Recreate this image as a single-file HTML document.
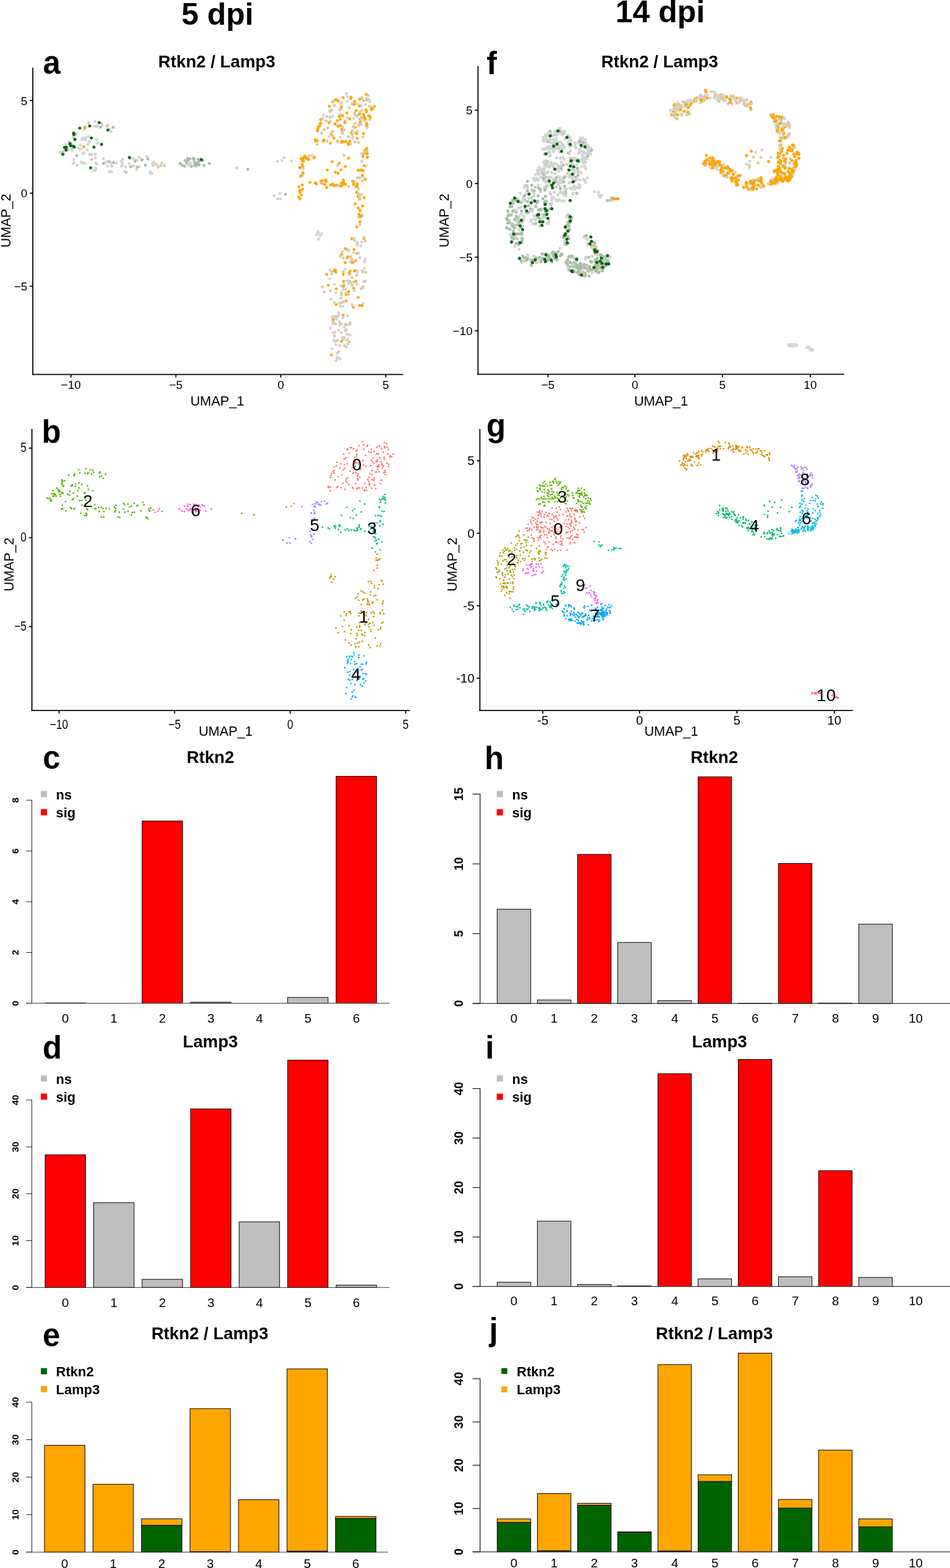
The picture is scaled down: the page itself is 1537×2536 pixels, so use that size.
<!DOCTYPE html>
<html><head><meta charset="utf-8"><title>Figure</title>
<style>
html,body{margin:0;padding:0;background:#fff;}
body{width:1537px;height:2536px;overflow:hidden;}
svg{display:block;font-family:'Liberation Sans', Arial, Helvetica, sans-serif;}
</style></head><body>
<svg width="1537" height="2536" viewBox="0 0 1537 2536">
<rect width="1537" height="2536" fill="#fff"/>
<defs><clipPath id="ca"><rect x="54" y="105" width="600" height="500"/></clipPath><clipPath id="cb"><rect x="52.5" y="690" width="615" height="458"/></clipPath><clipPath id="cf"><rect x="774" y="105" width="595" height="500"/></clipPath><clipPath id="cg"><rect x="777" y="690" width="605" height="458"/></clipPath></defs><g clip-path="url(#ca)"><circle cx="179.6" cy="212.8" r="2.45" fill="#D3D3D3"/><circle cx="143.6" cy="220.6" r="2.45" fill="#D3D3D3"/><circle cx="176.9" cy="277.8" r="2.45" fill="#D3D3D3"/><circle cx="203.1" cy="269.7" r="2.45" fill="#D3D3D3"/><circle cx="578.4" cy="311.2" r="2.45" fill="#DCC9A3"/><circle cx="566.0" cy="443.9" r="2.45" fill="#DCC9A3"/><circle cx="485.6" cy="310.1" r="2.45" fill="#FFA500"/><circle cx="148.3" cy="257.8" r="2.45" fill="#DCC9A3"/><circle cx="491.5" cy="255.6" r="2.45" fill="#DCC9A3"/><circle cx="520.4" cy="377.8" r="2.45" fill="#D3D3D3"/><circle cx="551.2" cy="167.2" r="2.45" fill="#DCC9A3"/><circle cx="119.5" cy="258.2" r="2.45" fill="#D3D3D3"/><circle cx="561.5" cy="403.8" r="2.45" fill="#DCC9A3"/><circle cx="105.8" cy="233.4" r="2.45" fill="#D3D3D3"/><circle cx="173.9" cy="268.7" r="2.45" fill="#D3D3D3"/><circle cx="527.4" cy="195.4" r="2.45" fill="#DCC9A3"/><circle cx="545.4" cy="195.1" r="2.45" fill="#FFA500"/><circle cx="553.5" cy="298.2" r="2.45" fill="#FFA500"/><circle cx="524.5" cy="209.8" r="2.45" fill="#DCC9A3"/><circle cx="490.1" cy="270.0" r="2.45" fill="#FFA500"/><circle cx="562.6" cy="548.8" r="2.45" fill="#D3D3D3"/><circle cx="591.7" cy="203.4" r="2.45" fill="#D3D3D3"/><circle cx="535.9" cy="217.2" r="2.45" fill="#FFA500"/><circle cx="443.6" cy="316.4" r="2.45" fill="#D3D3D3"/><circle cx="515.2" cy="386.9" r="2.45" fill="#D3D3D3"/><circle cx="303.0" cy="259.4" r="2.45" fill="#A6BEA6"/><circle cx="585.1" cy="260.5" r="2.45" fill="#D3D3D3"/><circle cx="550.5" cy="221.9" r="2.45" fill="#D3D3D3"/><circle cx="118.9" cy="220.8" r="2.45" fill="#D3D3D3"/><circle cx="165.4" cy="202.6" r="2.45" fill="#D3D3D3"/><circle cx="156.5" cy="204.7" r="2.45" fill="#D3D3D3"/><circle cx="552.8" cy="165.6" r="2.45" fill="#D3D3D3"/><circle cx="330.1" cy="267.4" r="2.45" fill="#A6BEA6"/><circle cx="550.4" cy="185.1" r="2.45" fill="#D3D3D3"/><circle cx="305.8" cy="266.4" r="2.45" fill="#A6BEA6"/><circle cx="578.0" cy="396.4" r="2.45" fill="#DCC9A3"/><circle cx="550.1" cy="580.4" r="2.45" fill="#DCC9A3"/><circle cx="579.2" cy="318.1" r="2.45" fill="#FFA500"/><circle cx="585.4" cy="158.2" r="2.45" fill="#DCC9A3"/><circle cx="109.2" cy="239.5" r="2.45" fill="#D3D3D3"/><circle cx="594.3" cy="254.2" r="2.45" fill="#FFA500"/><circle cx="581.1" cy="171.7" r="2.45" fill="#FFA500"/><circle cx="541.5" cy="511.3" r="2.45" fill="#D3D3D3"/><circle cx="316.6" cy="268.5" r="2.45" fill="#A6BEA6"/><circle cx="497.0" cy="257.4" r="2.45" fill="#DCC9A3"/><circle cx="532.3" cy="198.5" r="2.45" fill="#FFA500"/><circle cx="552.4" cy="296.3" r="2.45" fill="#FFA500"/><circle cx="157.6" cy="204.2" r="2.45" fill="#D3D3D3"/><circle cx="574.3" cy="199.6" r="2.45" fill="#DCC9A3"/><circle cx="561.2" cy="550.3" r="2.45" fill="#D3D3D3"/><circle cx="591.2" cy="247.4" r="2.45" fill="#FFA500"/><circle cx="545.4" cy="571.5" r="2.45" fill="#D3D3D3"/><circle cx="592.5" cy="152.8" r="2.45" fill="#FFA500"/><circle cx="314.7" cy="267.2" r="2.45" fill="#A6BEA6"/><circle cx="513.0" cy="233.6" r="2.45" fill="#DCC9A3"/><circle cx="583.6" cy="397.9" r="2.45" fill="#D3D3D3"/><circle cx="490.3" cy="279.7" r="2.45" fill="#FFA500"/><circle cx="560.0" cy="228.9" r="2.45" fill="#FFA500"/><circle cx="574.1" cy="229.5" r="2.45" fill="#DCC9A3"/><circle cx="459.8" cy="255.0" r="2.45" fill="#D3D3D3"/><circle cx="530.2" cy="206.9" r="2.45" fill="#DCC9A3"/><circle cx="135.7" cy="247.1" r="2.45" fill="#D3D3D3"/><circle cx="118.0" cy="237.3" r="2.45" fill="#D3D3D3"/><circle cx="577.0" cy="311.2" r="2.45" fill="#FFA500"/><circle cx="582.1" cy="322.1" r="2.45" fill="#FFA500"/><circle cx="529.6" cy="275.1" r="2.45" fill="#FFA500"/><circle cx="504.6" cy="251.2" r="2.45" fill="#DCC9A3"/><circle cx="555.5" cy="294.7" r="2.45" fill="#D3D3D3"/><circle cx="102.9" cy="250.6" r="2.45" fill="#D3D3D3"/><circle cx="561.0" cy="417.2" r="2.45" fill="#DCC9A3"/><circle cx="587.6" cy="249.6" r="2.45" fill="#FFA500"/><circle cx="585.2" cy="391.6" r="2.45" fill="#D3D3D3"/><circle cx="448.7" cy="260.9" r="2.45" fill="#D3D3D3"/><circle cx="520.7" cy="296.5" r="2.45" fill="#FFA500"/><circle cx="584.5" cy="190.6" r="2.45" fill="#FFA500"/><circle cx="557.4" cy="297.6" r="2.45" fill="#FFA500"/><circle cx="148.2" cy="249.8" r="2.45" fill="#D3D3D3"/><circle cx="294.9" cy="267.6" r="2.45" fill="#A6BEA6"/><circle cx="543.2" cy="440.1" r="2.45" fill="#FFA500"/><circle cx="588.9" cy="455.8" r="2.45" fill="#DCC9A3"/><circle cx="132.5" cy="225.5" r="2.45" fill="#D3D3D3"/><circle cx="235.1" cy="267.2" r="2.45" fill="#A6BEA6"/><circle cx="563.5" cy="232.3" r="2.45" fill="#FFA500"/><circle cx="528.7" cy="443.9" r="2.45" fill="#FFA500"/><circle cx="582.3" cy="340.2" r="2.45" fill="#FFA500"/><circle cx="520.1" cy="295.2" r="2.45" fill="#DCC9A3"/><circle cx="538.2" cy="523.5" r="2.45" fill="#D3D3D3"/><circle cx="565.9" cy="228.4" r="2.45" fill="#FFA500"/><circle cx="557.0" cy="529.0" r="2.45" fill="#D3D3D3"/><circle cx="485.5" cy="321.7" r="2.45" fill="#FFA500"/><circle cx="563.6" cy="476.3" r="2.45" fill="#DCC9A3"/><circle cx="569.0" cy="420.4" r="2.45" fill="#DCC9A3"/><circle cx="116.9" cy="243.2" r="2.45" fill="#D3D3D3"/><circle cx="500.0" cy="252.1" r="2.45" fill="#DCC9A3"/><circle cx="546.5" cy="577.8" r="2.45" fill="#D3D3D3"/><circle cx="97.1" cy="246.0" r="2.45" fill="#D3D3D3"/><circle cx="127.4" cy="239.5" r="2.45" fill="#D3D3D3"/><circle cx="550.5" cy="495.6" r="2.45" fill="#D3D3D3"/><circle cx="580.8" cy="202.2" r="2.45" fill="#DCC9A3"/><circle cx="490.7" cy="255.6" r="2.45" fill="#FFA500"/><circle cx="588.7" cy="385.7" r="2.45" fill="#FFA500"/><circle cx="291.1" cy="264.4" r="2.45" fill="#A6BEA6"/><circle cx="546.0" cy="228.4" r="2.45" fill="#FFA500"/><circle cx="113.7" cy="231.6" r="2.45" fill="#D3D3D3"/><circle cx="527.3" cy="293.6" r="2.45" fill="#FFA500"/><circle cx="577.5" cy="409.8" r="2.45" fill="#FFA500"/><circle cx="137.5" cy="205.8" r="2.45" fill="#A6BEA6"/><circle cx="592.9" cy="161.8" r="2.45" fill="#DCC9A3"/><circle cx="225.2" cy="269.7" r="2.45" fill="#D3D3D3"/><circle cx="518.8" cy="292.8" r="2.45" fill="#DCC9A3"/><circle cx="577.5" cy="299.9" r="2.45" fill="#FFA500"/><circle cx="597.9" cy="172.0" r="2.45" fill="#DCC9A3"/><circle cx="313.7" cy="259.8" r="2.45" fill="#D3D3D3"/><circle cx="571.4" cy="456.2" r="2.45" fill="#DCC9A3"/><circle cx="593.5" cy="244.8" r="2.45" fill="#FFA500"/><circle cx="550.3" cy="192.9" r="2.45" fill="#FFA500"/><circle cx="536.2" cy="574.0" r="2.45" fill="#FFA500"/><circle cx="538.4" cy="164.7" r="2.45" fill="#FFA500"/><circle cx="582.9" cy="171.8" r="2.45" fill="#FFA500"/><circle cx="551.1" cy="187.3" r="2.45" fill="#DCC9A3"/><circle cx="144.9" cy="249.9" r="2.45" fill="#D3D3D3"/><circle cx="584.2" cy="171.5" r="2.45" fill="#DCC9A3"/><circle cx="552.4" cy="552.1" r="2.45" fill="#FFA500"/><circle cx="586.7" cy="440.0" r="2.45" fill="#DCC9A3"/><circle cx="518.9" cy="193.5" r="2.45" fill="#FFA500"/><circle cx="176.6" cy="261.5" r="2.45" fill="#A6BEA6"/><circle cx="566.4" cy="521.7" r="2.45" fill="#D3D3D3"/><circle cx="528.9" cy="188.5" r="2.45" fill="#DCC9A3"/><circle cx="558.6" cy="424.7" r="2.45" fill="#FFA500"/><circle cx="569.4" cy="457.8" r="2.45" fill="#D3D3D3"/><circle cx="552.3" cy="462.5" r="2.45" fill="#DCC9A3"/><circle cx="589.0" cy="319.8" r="2.45" fill="#FFA500"/><circle cx="591.1" cy="169.0" r="2.45" fill="#D3D3D3"/><circle cx="580.6" cy="350.0" r="2.45" fill="#DCC9A3"/><circle cx="552.5" cy="473.4" r="2.45" fill="#DCC9A3"/><circle cx="555.7" cy="291.1" r="2.45" fill="#FFA500"/><circle cx="173.7" cy="203.6" r="2.45" fill="#FFA500"/><circle cx="585.9" cy="347.8" r="2.45" fill="#DCC9A3"/><circle cx="510.0" cy="295.9" r="2.45" fill="#FFA500"/><circle cx="453.0" cy="312.7" r="2.45" fill="#D3D3D3"/><circle cx="322.1" cy="266.6" r="2.45" fill="#A6BEA6"/><circle cx="538.5" cy="519.1" r="2.45" fill="#D3D3D3"/><circle cx="485.8" cy="270.9" r="2.45" fill="#FFA500"/><circle cx="544.0" cy="467.1" r="2.45" fill="#FFA500"/><circle cx="490.0" cy="269.9" r="2.45" fill="#FFA500"/><circle cx="539.6" cy="521.1" r="2.45" fill="#DCC9A3"/><circle cx="584.6" cy="201.6" r="2.45" fill="#D3D3D3"/><circle cx="316.5" cy="264.5" r="2.45" fill="#D3D3D3"/><circle cx="577.4" cy="187.9" r="2.45" fill="#DCC9A3"/><circle cx="533.8" cy="436.8" r="2.45" fill="#D3D3D3"/><circle cx="547.0" cy="280.3" r="2.45" fill="#FFA500"/><circle cx="559.0" cy="524.9" r="2.45" fill="#DCC9A3"/><circle cx="507.4" cy="255.9" r="2.45" fill="#DCC9A3"/><circle cx="449.5" cy="321.6" r="2.45" fill="#DCC9A3"/><circle cx="559.9" cy="476.3" r="2.45" fill="#FFA500"/><circle cx="584.0" cy="467.1" r="2.45" fill="#DCC9A3"/><circle cx="136.8" cy="264.2" r="2.45" fill="#D3D3D3"/><circle cx="603.3" cy="176.2" r="2.45" fill="#DCC9A3"/><circle cx="134.3" cy="223.9" r="2.45" fill="#D3D3D3"/><circle cx="487.1" cy="256.7" r="2.45" fill="#FFA500"/><circle cx="565.6" cy="454.9" r="2.45" fill="#FFA500"/><circle cx="566.0" cy="192.5" r="2.45" fill="#FFA500"/><circle cx="302.0" cy="263.8" r="2.45" fill="#A6BEA6"/><circle cx="152.8" cy="204.1" r="2.45" fill="#D3D3D3"/><circle cx="569.8" cy="462.0" r="2.45" fill="#DCC9A3"/><circle cx="566.8" cy="233.0" r="2.45" fill="#DCC9A3"/><circle cx="569.4" cy="449.3" r="2.45" fill="#DCC9A3"/><circle cx="577.8" cy="297.5" r="2.45" fill="#FFA500"/><circle cx="230.4" cy="258.1" r="2.45" fill="#D3D3D3"/><circle cx="299.2" cy="259.7" r="2.45" fill="#A6BEA6"/><circle cx="556.6" cy="251.2" r="2.45" fill="#DCC9A3"/><circle cx="131.6" cy="261.9" r="2.45" fill="#D3D3D3"/><circle cx="533.6" cy="450.9" r="2.45" fill="#D3D3D3"/><circle cx="542.7" cy="436.8" r="2.45" fill="#FFA500"/><circle cx="489.9" cy="259.4" r="2.45" fill="#FFA500"/><circle cx="561.4" cy="182.8" r="2.45" fill="#FFA500"/><circle cx="585.4" cy="261.5" r="2.45" fill="#D3D3D3"/><circle cx="581.9" cy="192.9" r="2.45" fill="#DCC9A3"/><circle cx="558.8" cy="468.1" r="2.45" fill="#DCC9A3"/><circle cx="312.7" cy="256.3" r="2.45" fill="#A6BEA6"/><circle cx="562.8" cy="415.5" r="2.45" fill="#FFA500"/><circle cx="555.5" cy="293.9" r="2.45" fill="#FFA500"/><circle cx="303.9" cy="259.9" r="2.45" fill="#A6BEA6"/><circle cx="552.7" cy="411.4" r="2.45" fill="#FFA500"/><circle cx="526.0" cy="291.7" r="2.45" fill="#FFA500"/><circle cx="551.5" cy="482.1" r="2.45" fill="#DCC9A3"/><circle cx="545.9" cy="512.3" r="2.45" fill="#D3D3D3"/><circle cx="551.9" cy="175.7" r="2.45" fill="#DCC9A3"/><circle cx="550.9" cy="203.1" r="2.45" fill="#FFA500"/><circle cx="580.4" cy="184.7" r="2.45" fill="#DCC9A3"/><circle cx="555.3" cy="509.8" r="2.45" fill="#FFA500"/><circle cx="541.9" cy="537.2" r="2.45" fill="#D3D3D3"/><circle cx="484.9" cy="271.4" r="2.45" fill="#FFA500"/><circle cx="567.7" cy="415.1" r="2.45" fill="#DCC9A3"/><circle cx="242.7" cy="279.3" r="2.45" fill="#D3D3D3"/><circle cx="197.8" cy="263.5" r="2.45" fill="#D3D3D3"/><circle cx="586.7" cy="285.9" r="2.45" fill="#D3D3D3"/><circle cx="526.9" cy="292.8" r="2.45" fill="#FFA500"/><circle cx="216.2" cy="268.4" r="2.45" fill="#D3D3D3"/><circle cx="114.1" cy="233.4" r="2.45" fill="#A6BEA6"/><circle cx="554.5" cy="205.5" r="2.45" fill="#D3D3D3"/><circle cx="136.5" cy="208.4" r="2.45" fill="#D3D3D3"/><circle cx="592.5" cy="245.6" r="2.45" fill="#D3D3D3"/><circle cx="517.6" cy="201.7" r="2.45" fill="#FFA500"/><circle cx="167.1" cy="256.8" r="2.45" fill="#D3D3D3"/><circle cx="563.6" cy="233.6" r="2.45" fill="#FFA500"/><circle cx="485.6" cy="285.4" r="2.45" fill="#DCC9A3"/><circle cx="118.9" cy="218.0" r="2.45" fill="#A6BEA6"/><circle cx="489.4" cy="260.5" r="2.45" fill="#FFA500"/><circle cx="154.3" cy="255.2" r="2.45" fill="#D3D3D3"/><circle cx="552.8" cy="228.8" r="2.45" fill="#FFA500"/><circle cx="491.3" cy="260.8" r="2.45" fill="#FFA500"/><circle cx="562.8" cy="556.3" r="2.45" fill="#D3D3D3"/><circle cx="211.6" cy="269.7" r="2.45" fill="#A6BEA6"/><circle cx="152.9" cy="237.2" r="2.45" fill="#D3D3D3"/><circle cx="122.5" cy="216.7" r="2.45" fill="#A6BEA6"/><circle cx="546.1" cy="267.1" r="2.45" fill="#DCC9A3"/><circle cx="590.6" cy="243.1" r="2.45" fill="#FFA500"/><circle cx="248.0" cy="267.5" r="2.45" fill="#DCC9A3"/><circle cx="578.2" cy="287.2" r="2.45" fill="#DCC9A3"/><circle cx="558.6" cy="402.1" r="2.45" fill="#FFA500"/><circle cx="154.2" cy="271.7" r="2.45" fill="#D3D3D3"/><circle cx="563.9" cy="301.6" r="2.45" fill="#DCC9A3"/><circle cx="116.0" cy="239.9" r="2.45" fill="#D3D3D3"/><circle cx="560.3" cy="561.2" r="2.45" fill="#D3D3D3"/><circle cx="307.2" cy="256.9" r="2.45" fill="#A6BEA6"/><circle cx="553.5" cy="546.2" r="2.45" fill="#D3D3D3"/><circle cx="590.8" cy="390.3" r="2.45" fill="#DCC9A3"/><circle cx="135.6" cy="237.4" r="2.45" fill="#FFA500"/><circle cx="266.0" cy="268.0" r="2.45" fill="#DCC9A3"/><circle cx="562.4" cy="510.9" r="2.45" fill="#D3D3D3"/><circle cx="570.4" cy="293.2" r="2.45" fill="#FFA500"/><circle cx="225.1" cy="254.8" r="2.45" fill="#D3D3D3"/><circle cx="556.5" cy="460.2" r="2.45" fill="#D3D3D3"/><circle cx="564.9" cy="441.4" r="2.45" fill="#FFA500"/><circle cx="582.1" cy="416.9" r="2.45" fill="#DCC9A3"/><circle cx="538.8" cy="538.4" r="2.45" fill="#D3D3D3"/><circle cx="555.5" cy="439.2" r="2.45" fill="#DCC9A3"/><circle cx="598.5" cy="193.1" r="2.45" fill="#DCC9A3"/><circle cx="568.5" cy="418.1" r="2.45" fill="#DCC9A3"/><circle cx="576.3" cy="178.6" r="2.45" fill="#FFA500"/><circle cx="542.1" cy="551.7" r="2.45" fill="#DCC9A3"/><circle cx="576.6" cy="437.1" r="2.45" fill="#DCC9A3"/><circle cx="260.0" cy="268.0" r="2.45" fill="#DCC9A3"/><circle cx="589.1" cy="267.9" r="2.45" fill="#FFA500"/><circle cx="562.1" cy="190.6" r="2.45" fill="#DCC9A3"/><circle cx="454.0" cy="321.6" r="2.45" fill="#D3D3D3"/><circle cx="525.2" cy="298.8" r="2.45" fill="#FFA500"/><circle cx="456.0" cy="259.7" r="2.45" fill="#D3D3D3"/><circle cx="573.1" cy="168.9" r="2.45" fill="#FFA500"/><circle cx="568.3" cy="214.9" r="2.45" fill="#FFA500"/><circle cx="574.0" cy="294.1" r="2.45" fill="#D3D3D3"/><circle cx="537.3" cy="512.4" r="2.45" fill="#D3D3D3"/><circle cx="489.5" cy="306.3" r="2.45" fill="#FFA500"/><circle cx="188.4" cy="263.6" r="2.45" fill="#D3D3D3"/><circle cx="549.1" cy="520.2" r="2.45" fill="#D3D3D3"/><circle cx="221.1" cy="274.5" r="2.45" fill="#D3D3D3"/><circle cx="579.6" cy="336.4" r="2.45" fill="#FFA500"/><circle cx="580.8" cy="346.4" r="2.45" fill="#FFA500"/><circle cx="554.0" cy="407.0" r="2.45" fill="#D3D3D3"/><circle cx="539.1" cy="516.7" r="2.45" fill="#FFA500"/><circle cx="245.5" cy="280.5" r="2.45" fill="#D3D3D3"/><circle cx="543.9" cy="492.8" r="2.45" fill="#FFA500"/><circle cx="490.1" cy="280.4" r="2.45" fill="#FFA500"/><circle cx="541.5" cy="543.5" r="2.45" fill="#DCC9A3"/><circle cx="544.4" cy="516.6" r="2.45" fill="#D3D3D3"/><circle cx="589.1" cy="190.5" r="2.45" fill="#DCC9A3"/><circle cx="222.4" cy="270.3" r="2.45" fill="#A6BEA6"/><circle cx="544.1" cy="299.5" r="2.45" fill="#FFA500"/><circle cx="553.2" cy="296.7" r="2.45" fill="#FFA500"/><circle cx="520.4" cy="215.5" r="2.45" fill="#DCC9A3"/><circle cx="556.1" cy="463.0" r="2.45" fill="#FFA500"/><circle cx="588.1" cy="185.2" r="2.45" fill="#FFA500"/><circle cx="570.6" cy="223.6" r="2.45" fill="#DCC9A3"/><circle cx="569.7" cy="218.0" r="2.45" fill="#DCC9A3"/><circle cx="180.7" cy="268.5" r="2.45" fill="#D3D3D3"/><circle cx="601.4" cy="175.0" r="2.45" fill="#FFA500"/><circle cx="156.4" cy="225.7" r="2.45" fill="#D3D3D3"/><circle cx="555.2" cy="417.5" r="2.45" fill="#DCC9A3"/><circle cx="338.6" cy="264.5" r="2.45" fill="#A6BEA6"/><circle cx="574.9" cy="422.3" r="2.45" fill="#FFA500"/><circle cx="534.2" cy="180.1" r="2.45" fill="#DCC9A3"/><circle cx="587.3" cy="490.8" r="2.45" fill="#D3D3D3"/><circle cx="462.0" cy="314.2" r="2.45" fill="#A6BEA6"/><circle cx="583.1" cy="192.8" r="2.45" fill="#DCC9A3"/><circle cx="111.4" cy="229.1" r="2.45" fill="#D3D3D3"/><circle cx="101.4" cy="246.2" r="2.45" fill="#A6BEA6"/><circle cx="594.6" cy="248.8" r="2.45" fill="#DCC9A3"/><circle cx="558.8" cy="269.4" r="2.45" fill="#FFA500"/><circle cx="596.5" cy="187.2" r="2.45" fill="#FFA500"/><circle cx="543.7" cy="583.4" r="2.45" fill="#D3D3D3"/><circle cx="515.1" cy="377.3" r="2.45" fill="#D3D3D3"/><circle cx="518.4" cy="204.0" r="2.45" fill="#DCC9A3"/><circle cx="291.8" cy="264.4" r="2.45" fill="#A6BEA6"/><circle cx="485.7" cy="311.1" r="2.45" fill="#FFA500"/><circle cx="561.4" cy="453.9" r="2.45" fill="#D3D3D3"/><circle cx="401.0" cy="274.0" r="2.45" fill="#A6BEA6"/><circle cx="552.5" cy="476.6" r="2.45" fill="#DCC9A3"/><circle cx="524.5" cy="472.0" r="2.45" fill="#DCC9A3"/><circle cx="547.6" cy="534.1" r="2.45" fill="#D3D3D3"/><circle cx="154.2" cy="249.4" r="2.45" fill="#D3D3D3"/><circle cx="536.7" cy="213.7" r="2.45" fill="#DCC9A3"/><circle cx="246.8" cy="264.4" r="2.45" fill="#D3D3D3"/><circle cx="588.3" cy="215.8" r="2.45" fill="#DCC9A3"/><circle cx="155.3" cy="273.1" r="2.45" fill="#D3D3D3"/><circle cx="513.3" cy="211.7" r="2.45" fill="#FFA500"/><circle cx="573.8" cy="388.9" r="2.45" fill="#DCC9A3"/><circle cx="119.1" cy="222.7" r="2.45" fill="#D3D3D3"/><circle cx="179.2" cy="263.5" r="2.45" fill="#D3D3D3"/><circle cx="555.6" cy="229.1" r="2.45" fill="#FFA500"/><circle cx="540.4" cy="300.2" r="2.45" fill="#FFA500"/><circle cx="579.4" cy="481.1" r="2.45" fill="#FFA500"/><circle cx="549.4" cy="525.2" r="2.45" fill="#D3D3D3"/><circle cx="549.6" cy="491.0" r="2.45" fill="#DCC9A3"/><circle cx="134.2" cy="248.6" r="2.45" fill="#D3D3D3"/><circle cx="105.6" cy="242.9" r="2.45" fill="#D3D3D3"/><circle cx="316.2" cy="264.2" r="2.45" fill="#A6BEA6"/><circle cx="577.2" cy="367.1" r="2.45" fill="#FFA500"/><circle cx="555.6" cy="549.2" r="2.45" fill="#D3D3D3"/><circle cx="580.0" cy="305.7" r="2.45" fill="#D3D3D3"/><circle cx="583.9" cy="349.9" r="2.45" fill="#FFA500"/><circle cx="154.1" cy="196.3" r="2.45" fill="#D3D3D3"/><circle cx="569.6" cy="492.9" r="2.45" fill="#D3D3D3"/><circle cx="589.4" cy="247.6" r="2.45" fill="#FFA500"/><circle cx="589.7" cy="423.2" r="2.45" fill="#DCC9A3"/><circle cx="589.5" cy="434.0" r="2.45" fill="#D3D3D3"/><circle cx="322.1" cy="260.9" r="2.45" fill="#A6BEA6"/><circle cx="316.4" cy="267.6" r="2.45" fill="#A6BEA6"/><circle cx="324.8" cy="257.4" r="2.45" fill="#A6BEA6"/><circle cx="174.9" cy="202.3" r="2.45" fill="#D3D3D3"/><circle cx="587.2" cy="463.1" r="2.45" fill="#DCC9A3"/><circle cx="563.8" cy="256.0" r="2.45" fill="#FFA500"/><circle cx="574.6" cy="206.3" r="2.45" fill="#FFA500"/><circle cx="569.7" cy="423.7" r="2.45" fill="#D3D3D3"/><circle cx="524.0" cy="226.6" r="2.45" fill="#FFA500"/><circle cx="141.5" cy="242.6" r="2.45" fill="#D3D3D3"/><circle cx="589.9" cy="195.0" r="2.45" fill="#DCC9A3"/><circle cx="496.4" cy="256.7" r="2.45" fill="#FFA500"/><circle cx="489.1" cy="266.1" r="2.45" fill="#FFA500"/><circle cx="551.3" cy="523.9" r="2.45" fill="#DCC9A3"/><circle cx="489.0" cy="299.1" r="2.45" fill="#FFA500"/><circle cx="538.1" cy="188.2" r="2.45" fill="#D3D3D3"/><circle cx="138.4" cy="226.5" r="2.45" fill="#D3D3D3"/><circle cx="515.0" cy="205.0" r="2.45" fill="#FFA500"/><circle cx="156.6" cy="265.4" r="2.45" fill="#D3D3D3"/><circle cx="579.5" cy="313.7" r="2.45" fill="#DCC9A3"/><circle cx="599.1" cy="189.5" r="2.45" fill="#FFA500"/><circle cx="569.8" cy="168.3" r="2.45" fill="#DCC9A3"/><circle cx="565.1" cy="174.2" r="2.45" fill="#DCC9A3"/><circle cx="554.0" cy="215.8" r="2.45" fill="#DCC9A3"/><circle cx="550.5" cy="414.0" r="2.45" fill="#DCC9A3"/><circle cx="591.0" cy="418.9" r="2.45" fill="#D3D3D3"/><circle cx="574.9" cy="185.5" r="2.45" fill="#DCC9A3"/><circle cx="484.8" cy="308.0" r="2.45" fill="#FFA500"/><circle cx="183.7" cy="263.1" r="2.45" fill="#A6BEA6"/><circle cx="574.2" cy="214.9" r="2.45" fill="#D3D3D3"/><circle cx="520.9" cy="292.3" r="2.45" fill="#FFA500"/><circle cx="162.3" cy="205.9" r="2.45" fill="#A6BEA6"/><circle cx="581.3" cy="316.8" r="2.45" fill="#DCC9A3"/><circle cx="590.3" cy="422.5" r="2.45" fill="#D3D3D3"/><circle cx="586.3" cy="438.2" r="2.45" fill="#DCC9A3"/><circle cx="581.9" cy="160.6" r="2.45" fill="#FFA500"/><circle cx="513.2" cy="227.6" r="2.45" fill="#FFA500"/><circle cx="542.6" cy="161.5" r="2.45" fill="#FFA500"/><circle cx="543.4" cy="557.5" r="2.45" fill="#D3D3D3"/><circle cx="552.2" cy="172.7" r="2.45" fill="#FFA500"/><circle cx="489.0" cy="283.5" r="2.45" fill="#DCC9A3"/><circle cx="586.5" cy="283.8" r="2.45" fill="#FFA500"/><circle cx="534.6" cy="231.4" r="2.45" fill="#FFA500"/><circle cx="383.0" cy="271.6" r="2.45" fill="#DCC9A3"/><circle cx="582.3" cy="363.6" r="2.45" fill="#DCC9A3"/><circle cx="557.9" cy="195.6" r="2.45" fill="#DCC9A3"/><circle cx="556.0" cy="455.1" r="2.45" fill="#FFA500"/><circle cx="553.3" cy="213.1" r="2.45" fill="#DCC9A3"/><circle cx="130.5" cy="234.6" r="2.45" fill="#D3D3D3"/><circle cx="541.3" cy="513.4" r="2.45" fill="#D3D3D3"/><circle cx="262.0" cy="264.0" r="2.45" fill="#D3D3D3"/><circle cx="512.3" cy="379.9" r="2.45" fill="#D3D3D3"/><circle cx="535.1" cy="299.4" r="2.45" fill="#FFA500"/><circle cx="483.6" cy="302.1" r="2.45" fill="#FFA500"/><circle cx="552.9" cy="208.7" r="2.45" fill="#FFA500"/><circle cx="315.9" cy="265.2" r="2.45" fill="#A6BEA6"/><circle cx="151.9" cy="275.4" r="2.45" fill="#D3D3D3"/><circle cx="180.4" cy="278.0" r="2.45" fill="#D3D3D3"/><circle cx="593.9" cy="202.7" r="2.45" fill="#FFA500"/><circle cx="196.5" cy="269.1" r="2.45" fill="#D3D3D3"/><circle cx="197.9" cy="266.7" r="2.45" fill="#D3D3D3"/><circle cx="203.9" cy="278.7" r="2.45" fill="#A6BEA6"/><circle cx="564.5" cy="458.7" r="2.45" fill="#D3D3D3"/><circle cx="133.1" cy="263.7" r="2.45" fill="#D3D3D3"/><circle cx="581.8" cy="184.4" r="2.45" fill="#FFA500"/><circle cx="168.7" cy="263.5" r="2.45" fill="#D3D3D3"/><circle cx="571.6" cy="204.7" r="2.45" fill="#DCC9A3"/><circle cx="540.7" cy="437.4" r="2.45" fill="#FFA500"/><circle cx="548.7" cy="188.2" r="2.45" fill="#FFA500"/><circle cx="177.1" cy="208.9" r="2.45" fill="#D3D3D3"/><circle cx="578.0" cy="223.8" r="2.45" fill="#FFA500"/><circle cx="575.9" cy="420.7" r="2.45" fill="#DCC9A3"/><circle cx="587.2" cy="465.5" r="2.45" fill="#DCC9A3"/><circle cx="552.2" cy="538.1" r="2.45" fill="#D3D3D3"/><circle cx="569.2" cy="386.2" r="2.45" fill="#FFA500"/><circle cx="588.4" cy="162.9" r="2.45" fill="#DCC9A3"/><circle cx="549.1" cy="263.9" r="2.45" fill="#FFA500"/><circle cx="564.2" cy="471.7" r="2.45" fill="#FFA500"/><circle cx="556.6" cy="210.4" r="2.45" fill="#DCC9A3"/><circle cx="545.5" cy="579.8" r="2.45" fill="#D3D3D3"/><circle cx="538.0" cy="297.8" r="2.45" fill="#FFA500"/><circle cx="572.7" cy="403.6" r="2.45" fill="#FFA500"/><circle cx="523.0" cy="186.0" r="2.45" fill="#D3D3D3"/><circle cx="307.3" cy="263.5" r="2.45" fill="#D3D3D3"/><circle cx="581.9" cy="494.0" r="2.45" fill="#FFA500"/><circle cx="536.7" cy="443.0" r="2.45" fill="#DCC9A3"/><circle cx="172.8" cy="261.9" r="2.45" fill="#D3D3D3"/><circle cx="562.2" cy="163.8" r="2.45" fill="#D3D3D3"/><circle cx="155.5" cy="263.9" r="2.45" fill="#D3D3D3"/><circle cx="593.4" cy="248.5" r="2.45" fill="#FFA500"/><circle cx="483.3" cy="318.9" r="2.45" fill="#FFA500"/><circle cx="574.5" cy="329.7" r="2.45" fill="#FFA500"/><circle cx="309.8" cy="269.4" r="2.45" fill="#A6BEA6"/><circle cx="572.8" cy="385.6" r="2.45" fill="#DCC9A3"/><circle cx="554.9" cy="513.7" r="2.45" fill="#D3D3D3"/><circle cx="585.4" cy="248.2" r="2.45" fill="#D3D3D3"/><circle cx="537.3" cy="564.1" r="2.45" fill="#D3D3D3"/><circle cx="540.8" cy="489.2" r="2.45" fill="#D3D3D3"/><circle cx="532.1" cy="221.1" r="2.45" fill="#D3D3D3"/><circle cx="555.0" cy="495.5" r="2.45" fill="#D3D3D3"/><circle cx="592.2" cy="177.4" r="2.45" fill="#FFA500"/><circle cx="555.2" cy="443.7" r="2.45" fill="#FFA500"/><circle cx="593.3" cy="199.7" r="2.45" fill="#FFA500"/><circle cx="548.1" cy="568.5" r="2.45" fill="#DCC9A3"/><circle cx="590.8" cy="454.8" r="2.45" fill="#DCC9A3"/><circle cx="579.9" cy="202.5" r="2.45" fill="#DCC9A3"/><circle cx="579.5" cy="275.7" r="2.45" fill="#FFA500"/><circle cx="542.8" cy="523.9" r="2.45" fill="#DCC9A3"/><circle cx="118.3" cy="264.5" r="2.45" fill="#D3D3D3"/><circle cx="124.2" cy="251.8" r="2.45" fill="#A6BEA6"/><circle cx="546.4" cy="229.4" r="2.45" fill="#DCC9A3"/><circle cx="584.6" cy="193.9" r="2.45" fill="#D3D3D3"/><circle cx="527.4" cy="291.5" r="2.45" fill="#FFA500"/><circle cx="571.2" cy="293.6" r="2.45" fill="#FFA500"/><circle cx="542.0" cy="200.5" r="2.45" fill="#FFA500"/><circle cx="549.5" cy="559.1" r="2.45" fill="#DCC9A3"/><circle cx="581.4" cy="322.8" r="2.45" fill="#DCC9A3"/><circle cx="554.3" cy="187.1" r="2.45" fill="#FFA500"/><circle cx="593.3" cy="240.0" r="2.45" fill="#FFA500"/><circle cx="540.4" cy="223.5" r="2.45" fill="#FFA500"/><circle cx="580.0" cy="230.5" r="2.45" fill="#DCC9A3"/><circle cx="209.3" cy="264.7" r="2.45" fill="#D3D3D3"/><circle cx="167.3" cy="264.4" r="2.45" fill="#A6BEA6"/><circle cx="522.0" cy="191.7" r="2.45" fill="#DCC9A3"/><circle cx="494.5" cy="253.6" r="2.45" fill="#FFA500"/><circle cx="546.8" cy="204.4" r="2.45" fill="#D3D3D3"/><circle cx="221.1" cy="259.4" r="2.45" fill="#DCC9A3"/><circle cx="567.3" cy="423.8" r="2.45" fill="#DCC9A3"/><circle cx="239.4" cy="257.2" r="2.45" fill="#A6BEA6"/><circle cx="531.1" cy="461.4" r="2.45" fill="#FFA500"/><circle cx="552.4" cy="230.1" r="2.45" fill="#FFA500"/><circle cx="544.6" cy="161.5" r="2.45" fill="#FFA500"/><circle cx="566.4" cy="541.7" r="2.45" fill="#D3D3D3"/><circle cx="552.0" cy="524.2" r="2.45" fill="#DCC9A3"/><circle cx="144.0" cy="229.0" r="2.45" fill="#D3D3D3"/><circle cx="247.5" cy="267.6" r="2.45" fill="#D3D3D3"/><circle cx="570.0" cy="211.3" r="2.45" fill="#DCC9A3"/><circle cx="509.1" cy="254.4" r="2.45" fill="#FFA500"/><circle cx="103.2" cy="248.7" r="2.45" fill="#D3D3D3"/><circle cx="328.3" cy="259.4" r="2.45" fill="#A6BEA6"/><circle cx="572.1" cy="408.1" r="2.45" fill="#D3D3D3"/><circle cx="566.5" cy="438.4" r="2.45" fill="#FFA500"/><circle cx="561.2" cy="540.7" r="2.45" fill="#D3D3D3"/><circle cx="571.0" cy="221.6" r="2.45" fill="#D3D3D3"/><circle cx="543.3" cy="473.7" r="2.45" fill="#D3D3D3"/><circle cx="545.7" cy="550.8" r="2.45" fill="#DCC9A3"/><circle cx="536.8" cy="440.0" r="2.45" fill="#DCC9A3"/><circle cx="600.8" cy="177.3" r="2.45" fill="#FFA500"/><circle cx="555.1" cy="157.9" r="2.45" fill="#FFA500"/><circle cx="533.9" cy="189.9" r="2.45" fill="#DCC9A3"/><circle cx="544.7" cy="511.7" r="2.45" fill="#DCC9A3"/><circle cx="120.0" cy="263.4" r="2.45" fill="#D3D3D3"/><circle cx="570.6" cy="424.9" r="2.45" fill="#FFA500"/><circle cx="573.8" cy="182.5" r="2.45" fill="#DCC9A3"/><circle cx="588.5" cy="276.6" r="2.45" fill="#D3D3D3"/><circle cx="142.2" cy="233.5" r="2.45" fill="#D3D3D3"/><circle cx="571.7" cy="496.9" r="2.45" fill="#FFA500"/><circle cx="589.0" cy="383.8" r="2.45" fill="#DCC9A3"/><circle cx="120.4" cy="226.2" r="2.45" fill="#A6BEA6"/><circle cx="585.6" cy="159.0" r="2.45" fill="#DCC9A3"/><circle cx="256.0" cy="270.0" r="2.45" fill="#DCC9A3"/><circle cx="550.0" cy="300.8" r="2.45" fill="#FFA500"/><circle cx="594.2" cy="206.5" r="2.45" fill="#D3D3D3"/><circle cx="580.1" cy="409.4" r="2.45" fill="#D3D3D3"/><circle cx="534.5" cy="470.2" r="2.45" fill="#DCC9A3"/><circle cx="249.2" cy="262.5" r="2.45" fill="#D3D3D3"/><circle cx="198.2" cy="258.0" r="2.45" fill="#D3D3D3"/><circle cx="106.8" cy="238.0" r="2.45" fill="#D3D3D3"/><circle cx="541.1" cy="170.8" r="2.45" fill="#DCC9A3"/><circle cx="549.2" cy="177.7" r="2.45" fill="#DCC9A3"/><circle cx="583.1" cy="275.0" r="2.45" fill="#FFA500"/><circle cx="110.3" cy="242.5" r="2.45" fill="#D3D3D3"/><circle cx="587.9" cy="216.1" r="2.45" fill="#FFA500"/><circle cx="596.6" cy="160.6" r="2.45" fill="#DCC9A3"/><circle cx="555.2" cy="468.1" r="2.45" fill="#D3D3D3"/><circle cx="586.6" cy="333.2" r="2.45" fill="#FFA500"/><circle cx="537.8" cy="220.0" r="2.45" fill="#DCC9A3"/><circle cx="560.0" cy="533.2" r="2.45" fill="#DCC9A3"/><circle cx="567.5" cy="159.2" r="2.45" fill="#FFA500"/><circle cx="115.9" cy="233.8" r="2.45" fill="#D3D3D3"/><circle cx="577.0" cy="444.9" r="2.45" fill="#DCC9A3"/><circle cx="216.0" cy="256.1" r="2.45" fill="#D3D3D3"/><circle cx="253.0" cy="266.0" r="2.45" fill="#DCC9A3"/><circle cx="548.2" cy="509.1" r="2.45" fill="#D3D3D3"/><circle cx="550.3" cy="580.0" r="2.45" fill="#D3D3D3"/><circle cx="542.7" cy="278.8" r="2.45" fill="#FFA500"/><circle cx="592.2" cy="268.4" r="2.45" fill="#DCC9A3"/><circle cx="321.4" cy="266.4" r="2.45" fill="#A6BEA6"/><circle cx="518.6" cy="199.5" r="2.45" fill="#FFA500"/><circle cx="575.7" cy="455.0" r="2.45" fill="#FFA500"/><circle cx="591.8" cy="440.2" r="2.45" fill="#DCC9A3"/><circle cx="560.2" cy="486.6" r="2.45" fill="#FFA500"/><circle cx="514.5" cy="208.5" r="2.45" fill="#FFA500"/><circle cx="559.0" cy="534.7" r="2.45" fill="#DCC9A3"/><circle cx="137.5" cy="206.9" r="2.45" fill="#FFA500"/><circle cx="490.2" cy="272.6" r="2.45" fill="#D3D3D3"/><circle cx="560.7" cy="151.2" r="2.45" fill="#DCC9A3"/><circle cx="320.6" cy="265.6" r="2.45" fill="#A6BEA6"/><circle cx="591.2" cy="192.0" r="2.45" fill="#FFA500"/><circle cx="590.6" cy="246.5" r="2.45" fill="#DCC9A3"/><circle cx="560.6" cy="524.9" r="2.45" fill="#DCC9A3"/><circle cx="108.1" cy="240.4" r="2.45" fill="#D3D3D3"/><circle cx="538.3" cy="212.4" r="2.45" fill="#DCC9A3"/><circle cx="590.8" cy="289.9" r="2.45" fill="#FFA500"/><circle cx="577.5" cy="459.5" r="2.45" fill="#D3D3D3"/><circle cx="314.0" cy="258.0" r="2.45" fill="#A6BEA6"/><circle cx="124.6" cy="267.5" r="2.45" fill="#DCC9A3"/><circle cx="536.5" cy="178.0" r="2.45" fill="#DCC9A3"/><circle cx="492.8" cy="252.7" r="2.45" fill="#FFA500"/><circle cx="578.1" cy="392.8" r="2.45" fill="#DCC9A3"/><circle cx="229.1" cy="258.7" r="2.45" fill="#A6BEA6"/><circle cx="572.4" cy="466.5" r="2.45" fill="#FFA500"/><circle cx="537.5" cy="261.6" r="2.45" fill="#FFA500"/><circle cx="558.7" cy="298.3" r="2.45" fill="#FFA500"/><circle cx="553.0" cy="300.2" r="2.45" fill="#FFA500"/><circle cx="565.9" cy="524.5" r="2.45" fill="#DCC9A3"/><circle cx="582.7" cy="197.8" r="2.45" fill="#FFA500"/><circle cx="501.6" cy="294.9" r="2.45" fill="#FFA500"/><circle cx="582.3" cy="181.4" r="2.45" fill="#DCC9A3"/><circle cx="598.6" cy="164.4" r="2.45" fill="#D3D3D3"/><circle cx="308.0" cy="264.9" r="2.45" fill="#D3D3D3"/><circle cx="137.4" cy="263.7" r="2.45" fill="#D3D3D3"/><circle cx="534.6" cy="196.4" r="2.45" fill="#DCC9A3"/><circle cx="605.7" cy="171.9" r="2.45" fill="#FFA500"/><circle cx="143.5" cy="198.5" r="2.45" fill="#D3D3D3"/><circle cx="303.6" cy="256.2" r="2.45" fill="#A6BEA6"/><circle cx="584.5" cy="314.8" r="2.45" fill="#DCC9A3"/><circle cx="578.2" cy="212.4" r="2.45" fill="#DCC9A3"/><circle cx="211.1" cy="256.8" r="2.45" fill="#D3D3D3"/><circle cx="562.3" cy="156.3" r="2.45" fill="#D3D3D3"/><circle cx="487.6" cy="315.4" r="2.45" fill="#FFA500"/><circle cx="595.8" cy="154.5" r="2.45" fill="#DCC9A3"/><circle cx="585.8" cy="178.3" r="2.45" fill="#DCC9A3"/><circle cx="577.8" cy="440.1" r="2.45" fill="#D3D3D3"/><circle cx="557.5" cy="559.3" r="2.45" fill="#DCC9A3"/><circle cx="587.0" cy="253.1" r="2.45" fill="#FFA500"/><circle cx="558.5" cy="435.3" r="2.45" fill="#D3D3D3"/><circle cx="320.5" cy="258.0" r="2.45" fill="#A6BEA6"/><circle cx="581.9" cy="287.7" r="2.45" fill="#DCC9A3"/><circle cx="563.9" cy="405.5" r="2.45" fill="#DCC9A3"/><circle cx="577.6" cy="167.9" r="2.45" fill="#D3D3D3"/><circle cx="585.8" cy="494.3" r="2.45" fill="#FFA500"/><circle cx="557.9" cy="198.2" r="2.45" fill="#FFA500"/><circle cx="547.9" cy="505.6" r="2.45" fill="#D3D3D3"/><circle cx="573.0" cy="469.9" r="2.45" fill="#D3D3D3"/><circle cx="514.2" cy="374.4" r="2.45" fill="#D3D3D3"/><circle cx="485.5" cy="310.7" r="2.45" fill="#FFA500"/><circle cx="552.5" cy="300.4" r="2.45" fill="#FFA500"/><circle cx="521.6" cy="463.8" r="2.45" fill="#DCC9A3"/><circle cx="538.5" cy="163.5" r="2.45" fill="#DCC9A3"/><circle cx="573.7" cy="164.2" r="2.45" fill="#FFA500"/><circle cx="471.6" cy="260.4" r="2.45" fill="#D3D3D3"/><circle cx="488.7" cy="284.2" r="2.45" fill="#D3D3D3"/><circle cx="533.4" cy="180.0" r="2.45" fill="#DCC9A3"/><circle cx="577.0" cy="215.4" r="2.45" fill="#DCC9A3"/><circle cx="532.8" cy="171.9" r="2.45" fill="#FFA500"/><circle cx="511.9" cy="297.6" r="2.45" fill="#FFA500"/><circle cx="559.8" cy="474.0" r="2.45" fill="#DCC9A3"/><circle cx="540.7" cy="460.0" r="2.45" fill="#D3D3D3"/><circle cx="553.0" cy="489.3" r="2.45" fill="#DCC9A3"/><circle cx="201.6" cy="277.3" r="2.45" fill="#D3D3D3"/><circle cx="582.5" cy="350.4" r="2.45" fill="#FFA500"/><circle cx="496.9" cy="256.3" r="2.45" fill="#FFA500"/><circle cx="546.6" cy="204.1" r="2.45" fill="#DCC9A3"/><circle cx="555.7" cy="488.1" r="2.45" fill="#DCC9A3"/><circle cx="589.1" cy="188.3" r="2.45" fill="#FFA500"/><circle cx="130.0" cy="241.0" r="2.45" fill="#D3D3D3"/><circle cx="513.5" cy="378.3" r="2.45" fill="#D3D3D3"/><circle cx="593.2" cy="159.5" r="2.45" fill="#DCC9A3"/><circle cx="586.3" cy="275.5" r="2.45" fill="#FFA500"/><circle cx="183.0" cy="205.9" r="2.45" fill="#A6BEA6"/><circle cx="154.5" cy="275.3" r="2.45" fill="#D3D3D3"/><circle cx="98.6" cy="246.4" r="2.45" fill="#D3D3D3"/><circle cx="584.5" cy="349.8" r="2.45" fill="#FFA500"/><circle cx="576.1" cy="301.6" r="2.45" fill="#FFA500"/><circle cx="563.7" cy="221.2" r="2.45" fill="#DCC9A3"/><circle cx="551.5" cy="274.6" r="2.45" fill="#FFA500"/><circle cx="523.0" cy="228.3" r="2.45" fill="#FFA500"/><circle cx="539.8" cy="550.4" r="2.45" fill="#D3D3D3"/><circle cx="133.9" cy="225.1" r="2.45" fill="#D3D3D3"/><circle cx="573.3" cy="438.2" r="2.45" fill="#FFA500"/><circle cx="547.3" cy="163.4" r="2.45" fill="#FFA500"/><circle cx="582.3" cy="358.9" r="2.45" fill="#FFA500"/><circle cx="528.7" cy="303.2" r="2.45" fill="#FFA500"/><circle cx="547.8" cy="299.8" r="2.45" fill="#DCC9A3"/><circle cx="529.2" cy="228.5" r="2.45" fill="#DCC9A3"/><circle cx="510.0" cy="226.0" r="2.45" fill="#FFA500"/><circle cx="577.8" cy="301.9" r="2.45" fill="#FFA500"/><circle cx="237.7" cy="253.3" r="2.45" fill="#D3D3D3"/><circle cx="218.2" cy="260.8" r="2.45" fill="#A6BEA6"/><circle cx="195.9" cy="261.3" r="2.45" fill="#D3D3D3"/><circle cx="315.0" cy="262.8" r="2.45" fill="#A6BEA6"/><circle cx="157.8" cy="231.5" r="2.45" fill="#D3D3D3"/><circle cx="586.1" cy="292.4" r="2.45" fill="#DCC9A3"/><circle cx="318.7" cy="263.8" r="2.45" fill="#A6BEA6"/><circle cx="518.0" cy="381.6" r="2.45" fill="#D3D3D3"/><circle cx="510.5" cy="228.2" r="2.45" fill="#FFA500"/><circle cx="565.4" cy="455.7" r="2.45" fill="#D3D3D3"/><circle cx="587.2" cy="221.7" r="2.45" fill="#DCC9A3"/><circle cx="487.2" cy="284.2" r="2.45" fill="#FFA500"/><circle cx="576.9" cy="215.9" r="2.45" fill="#FFA500"/><circle cx="499.2" cy="257.7" r="2.45" fill="#FFA500"/><circle cx="535.5" cy="484.0" r="2.45" fill="#D3D3D3"/><circle cx="138.9" cy="222.5" r="2.45" fill="#D3D3D3"/><circle cx="298.5" cy="268.7" r="2.45" fill="#A6BEA6"/><circle cx="547.2" cy="203.7" r="2.45" fill="#FFA500"/><circle cx="568.0" cy="157.2" r="2.45" fill="#FFA500"/><circle cx="243.4" cy="278.0" r="2.45" fill="#D3D3D3"/><circle cx="304.0" cy="266.5" r="2.45" fill="#D3D3D3"/><circle cx="572.2" cy="298.1" r="2.45" fill="#FFA500"/><circle cx="592.9" cy="180.8" r="2.45" fill="#FFA500"/><circle cx="534.7" cy="530.8" r="2.45" fill="#D3D3D3"/><circle cx="164.2" cy="199.0" r="2.45" fill="#D3D3D3"/><circle cx="557.2" cy="545.9" r="2.45" fill="#DCC9A3"/><circle cx="565.1" cy="552.9" r="2.45" fill="#DCC9A3"/><circle cx="564.7" cy="541.1" r="2.45" fill="#D3D3D3"/><circle cx="572.5" cy="191.5" r="2.45" fill="#D3D3D3"/><circle cx="145.2" cy="203.7" r="2.45" fill="#006400"/><circle cx="119.1" cy="215.2" r="2.45" fill="#006400"/><circle cx="146.7" cy="271.5" r="2.45" fill="#006400"/><circle cx="104.3" cy="238.4" r="2.45" fill="#006400"/><circle cx="114.3" cy="235.8" r="2.45" fill="#006400"/><circle cx="147.9" cy="223.3" r="2.45" fill="#006400"/><circle cx="325.7" cy="258.4" r="2.45" fill="#006400"/><circle cx="129.0" cy="207.3" r="2.45" fill="#006400"/><circle cx="113.2" cy="232.2" r="2.45" fill="#006400"/><circle cx="118.9" cy="236.6" r="2.45" fill="#006400"/><circle cx="164.3" cy="233.5" r="2.45" fill="#006400"/><circle cx="160.4" cy="198.4" r="2.45" fill="#006400"/><circle cx="174.5" cy="210.4" r="2.45" fill="#006400"/><circle cx="121.3" cy="225.4" r="2.45" fill="#006400"/><circle cx="107.2" cy="238.5" r="2.45" fill="#006400"/><circle cx="120.3" cy="238.0" r="2.45" fill="#006400"/><circle cx="101.5" cy="249.6" r="2.45" fill="#006400"/><circle cx="119.6" cy="217.6" r="2.45" fill="#006400"/><circle cx="106.9" cy="242.7" r="2.45" fill="#006400"/><circle cx="151.9" cy="238.1" r="2.45" fill="#006400"/><circle cx="209.4" cy="254.7" r="2.45" fill="#006400"/></g><g clip-path="url(#cb)"><circle cx="167.1" cy="773.7" r="1.4" fill="#53B400"/><circle cx="127.4" cy="781.1" r="1.4" fill="#53B400"/><circle cx="129.2" cy="764.9" r="1.4" fill="#53B400"/><circle cx="164.1" cy="836.3" r="1.4" fill="#53B400"/><circle cx="192.9" cy="828.4" r="1.4" fill="#53B400"/><circle cx="606.2" cy="868.4" r="1.4" fill="#00C094"/><circle cx="592.5" cy="996.3" r="1.4" fill="#C49A00"/><circle cx="504.0" cy="867.4" r="1.4" fill="#A58AFF"/><circle cx="132.6" cy="817.0" r="1.4" fill="#53B400"/><circle cx="510.5" cy="814.9" r="1.4" fill="#A58AFF"/><circle cx="542.3" cy="932.6" r="1.4" fill="#C49A00"/><circle cx="576.2" cy="729.7" r="1.4" fill="#F8766D"/><circle cx="100.9" cy="817.4" r="1.4" fill="#53B400"/><circle cx="587.5" cy="957.6" r="1.4" fill="#C49A00"/><circle cx="85.8" cy="793.5" r="1.4" fill="#53B400"/><circle cx="160.8" cy="827.5" r="1.4" fill="#53B400"/><circle cx="550.0" cy="756.9" r="1.4" fill="#F8766D"/><circle cx="569.8" cy="756.6" r="1.4" fill="#F8766D"/><circle cx="578.7" cy="855.9" r="1.4" fill="#00C094"/><circle cx="546.8" cy="770.8" r="1.4" fill="#F8766D"/><circle cx="100.4" cy="775.9" r="1.4" fill="#53B400"/><circle cx="508.9" cy="828.7" r="1.4" fill="#A58AFF"/><circle cx="588.7" cy="1097.3" r="1.4" fill="#00B6EB"/><circle cx="620.8" cy="764.6" r="1.4" fill="#F8766D"/><circle cx="559.3" cy="777.9" r="1.4" fill="#F8766D"/><circle cx="457.7" cy="873.5" r="1.4" fill="#00C094"/><circle cx="536.6" cy="941.3" r="1.4" fill="#C49A00"/><circle cx="303.0" cy="818.6" r="1.4" fill="#FB61D7"/><circle cx="613.6" cy="819.6" r="1.4" fill="#00C094"/><circle cx="575.4" cy="782.4" r="1.4" fill="#F8766D"/><circle cx="100.2" cy="781.4" r="1.4" fill="#53B400"/><circle cx="151.5" cy="763.9" r="1.4" fill="#53B400"/><circle cx="141.6" cy="765.8" r="1.4" fill="#53B400"/><circle cx="577.9" cy="728.2" r="1.4" fill="#F8766D"/><circle cx="332.7" cy="826.3" r="1.4" fill="#FB61D7"/><circle cx="575.3" cy="746.9" r="1.4" fill="#F8766D"/><circle cx="306.0" cy="825.3" r="1.4" fill="#FB61D7"/><circle cx="130.8" cy="830.2" r="1.4" fill="#53B400"/><circle cx="605.7" cy="950.5" r="1.4" fill="#C49A00"/><circle cx="574.9" cy="1127.7" r="1.4" fill="#00B6EB"/><circle cx="607.0" cy="875.1" r="1.4" fill="#00C094"/><circle cx="613.8" cy="721.1" r="1.4" fill="#F8766D"/><circle cx="89.5" cy="799.4" r="1.4" fill="#53B400"/><circle cx="623.6" cy="813.5" r="1.4" fill="#00C094"/><circle cx="609.1" cy="734.0" r="1.4" fill="#F8766D"/><circle cx="565.5" cy="1061.2" r="1.4" fill="#00B6EB"/><circle cx="317.9" cy="827.3" r="1.4" fill="#FB61D7"/><circle cx="516.5" cy="816.6" r="1.4" fill="#A58AFF"/><circle cx="555.4" cy="759.9" r="1.4" fill="#F8766D"/><circle cx="577.5" cy="854.1" r="1.4" fill="#00C094"/><circle cx="142.9" cy="765.3" r="1.4" fill="#53B400"/><circle cx="601.6" cy="760.9" r="1.4" fill="#F8766D"/><circle cx="587.2" cy="1098.7" r="1.4" fill="#00B6EB"/><circle cx="620.2" cy="807.0" r="1.4" fill="#00C094"/><circle cx="84.2" cy="798.4" r="1.4" fill="#53B400"/><circle cx="569.8" cy="1119.2" r="1.4" fill="#00B6EB"/><circle cx="621.7" cy="715.8" r="1.4" fill="#F8766D"/><circle cx="95.2" cy="795.8" r="1.4" fill="#53B400"/><circle cx="315.8" cy="826.1" r="1.4" fill="#FB61D7"/><circle cx="534.2" cy="793.7" r="1.4" fill="#F8766D"/><circle cx="611.9" cy="952.0" r="1.4" fill="#C49A00"/><circle cx="132.1" cy="783.7" r="1.4" fill="#53B400"/><circle cx="509.1" cy="838.1" r="1.4" fill="#A58AFF"/><circle cx="585.9" cy="789.1" r="1.4" fill="#F8766D"/><circle cx="601.4" cy="789.7" r="1.4" fill="#F8766D"/><circle cx="475.6" cy="814.3" r="1.4" fill="#F8766D"/><circle cx="553.0" cy="767.9" r="1.4" fill="#F8766D"/><circle cx="118.8" cy="806.7" r="1.4" fill="#53B400"/><circle cx="99.2" cy="797.2" r="1.4" fill="#53B400"/><circle cx="604.6" cy="868.4" r="1.4" fill="#00C094"/><circle cx="610.2" cy="879.0" r="1.4" fill="#00C094"/><circle cx="552.4" cy="833.7" r="1.4" fill="#00C094"/><circle cx="524.9" cy="810.6" r="1.4" fill="#A58AFF"/><circle cx="581.0" cy="852.5" r="1.4" fill="#00C094"/><circle cx="82.6" cy="810.1" r="1.4" fill="#53B400"/><circle cx="587.0" cy="970.5" r="1.4" fill="#C49A00"/><circle cx="616.2" cy="809.1" r="1.4" fill="#00C094"/><circle cx="613.6" cy="945.9" r="1.4" fill="#C49A00"/><circle cx="463.3" cy="820.0" r="1.4" fill="#F8766D"/><circle cx="542.6" cy="854.3" r="1.4" fill="#00C094"/><circle cx="612.8" cy="752.2" r="1.4" fill="#F8766D"/><circle cx="583.1" cy="855.3" r="1.4" fill="#00C094"/><circle cx="132.5" cy="809.3" r="1.4" fill="#53B400"/><circle cx="294.1" cy="826.4" r="1.4" fill="#FB61D7"/><circle cx="567.4" cy="992.6" r="1.4" fill="#C49A00"/><circle cx="327.9" cy="817.6" r="1.4" fill="#FB61D7"/><circle cx="617.6" cy="1007.8" r="1.4" fill="#C49A00"/><circle cx="115.1" cy="785.9" r="1.4" fill="#53B400"/><circle cx="228.1" cy="826.1" r="1.4" fill="#53B400"/><circle cx="589.8" cy="792.5" r="1.4" fill="#F8766D"/><circle cx="551.4" cy="996.3" r="1.4" fill="#C49A00"/><circle cx="610.4" cy="896.4" r="1.4" fill="#C49A00"/><circle cx="541.9" cy="853.0" r="1.4" fill="#00C094"/><circle cx="561.9" cy="1072.9" r="1.4" fill="#00B6EB"/><circle cx="592.4" cy="788.6" r="1.4" fill="#F8766D"/><circle cx="582.6" cy="1078.3" r="1.4" fill="#00B6EB"/><circle cx="503.9" cy="878.6" r="1.4" fill="#A58AFF"/><circle cx="589.9" cy="1027.5" r="1.4" fill="#C49A00"/><circle cx="595.8" cy="973.6" r="1.4" fill="#C49A00"/><circle cx="98.0" cy="802.9" r="1.4" fill="#53B400"/><circle cx="519.9" cy="811.5" r="1.4" fill="#A58AFF"/><circle cx="571.0" cy="1125.3" r="1.4" fill="#00B6EB"/><circle cx="76.2" cy="805.6" r="1.4" fill="#53B400"/><circle cx="109.6" cy="799.4" r="1.4" fill="#53B400"/><circle cx="575.4" cy="1046.0" r="1.4" fill="#C49A00"/><circle cx="608.8" cy="763.4" r="1.4" fill="#F8766D"/><circle cx="509.5" cy="814.9" r="1.4" fill="#A58AFF"/><circle cx="617.5" cy="940.2" r="1.4" fill="#C49A00"/><circle cx="289.8" cy="823.3" r="1.4" fill="#FB61D7"/><circle cx="570.5" cy="788.7" r="1.4" fill="#F8766D"/><circle cx="94.5" cy="791.8" r="1.4" fill="#53B400"/><circle cx="549.8" cy="851.5" r="1.4" fill="#00C094"/><circle cx="605.2" cy="963.4" r="1.4" fill="#C49A00"/><circle cx="120.6" cy="767.0" r="1.4" fill="#53B400"/><circle cx="622.1" cy="724.5" r="1.4" fill="#F8766D"/><circle cx="217.3" cy="828.5" r="1.4" fill="#53B400"/><circle cx="540.5" cy="850.7" r="1.4" fill="#00C094"/><circle cx="605.1" cy="857.5" r="1.4" fill="#00C094"/><circle cx="627.6" cy="734.4" r="1.4" fill="#F8766D"/><circle cx="314.7" cy="818.9" r="1.4" fill="#FB61D7"/><circle cx="598.5" cy="1008.2" r="1.4" fill="#C49A00"/><circle cx="622.8" cy="804.5" r="1.4" fill="#00C094"/><circle cx="575.2" cy="754.4" r="1.4" fill="#F8766D"/><circle cx="559.7" cy="1121.6" r="1.4" fill="#00B6EB"/><circle cx="562.1" cy="727.3" r="1.4" fill="#F8766D"/><circle cx="611.0" cy="734.2" r="1.4" fill="#F8766D"/><circle cx="576.1" cy="749.1" r="1.4" fill="#F8766D"/><circle cx="128.9" cy="809.4" r="1.4" fill="#53B400"/><circle cx="612.5" cy="733.9" r="1.4" fill="#F8766D"/><circle cx="577.5" cy="1100.5" r="1.4" fill="#00B6EB"/><circle cx="615.2" cy="992.5" r="1.4" fill="#C49A00"/><circle cx="540.6" cy="755.1" r="1.4" fill="#F8766D"/><circle cx="163.7" cy="820.6" r="1.4" fill="#53B400"/><circle cx="592.9" cy="1071.2" r="1.4" fill="#00B6EB"/><circle cx="551.7" cy="750.2" r="1.4" fill="#F8766D"/><circle cx="584.3" cy="977.8" r="1.4" fill="#C49A00"/><circle cx="596.2" cy="1009.6" r="1.4" fill="#C49A00"/><circle cx="577.4" cy="1014.2" r="1.4" fill="#C49A00"/><circle cx="617.8" cy="876.7" r="1.4" fill="#00C094"/><circle cx="620.1" cy="731.4" r="1.4" fill="#F8766D"/><circle cx="608.5" cy="905.8" r="1.4" fill="#C49A00"/><circle cx="577.6" cy="1024.7" r="1.4" fill="#C49A00"/><circle cx="581.2" cy="849.0" r="1.4" fill="#00C094"/><circle cx="160.5" cy="764.8" r="1.4" fill="#53B400"/><circle cx="614.4" cy="903.7" r="1.4" fill="#C49A00"/><circle cx="530.8" cy="853.7" r="1.4" fill="#00C094"/><circle cx="468.1" cy="869.9" r="1.4" fill="#A58AFF"/><circle cx="323.9" cy="825.5" r="1.4" fill="#FB61D7"/><circle cx="562.2" cy="1068.8" r="1.4" fill="#00B6EB"/><circle cx="504.2" cy="829.7" r="1.4" fill="#A58AFF"/><circle cx="568.2" cy="1018.6" r="1.4" fill="#C49A00"/><circle cx="508.8" cy="828.7" r="1.4" fill="#A58AFF"/><circle cx="563.4" cy="1070.7" r="1.4" fill="#00B6EB"/><circle cx="613.0" cy="762.9" r="1.4" fill="#F8766D"/><circle cx="317.7" cy="823.5" r="1.4" fill="#FB61D7"/><circle cx="605.0" cy="749.7" r="1.4" fill="#F8766D"/><circle cx="557.0" cy="989.5" r="1.4" fill="#C49A00"/><circle cx="571.6" cy="838.7" r="1.4" fill="#00C094"/><circle cx="584.8" cy="1074.3" r="1.4" fill="#00B6EB"/><circle cx="528.0" cy="815.2" r="1.4" fill="#A58AFF"/><circle cx="464.2" cy="878.5" r="1.4" fill="#A58AFF"/><circle cx="585.8" cy="1027.5" r="1.4" fill="#C49A00"/><circle cx="612.3" cy="1018.7" r="1.4" fill="#C49A00"/><circle cx="119.9" cy="823.2" r="1.4" fill="#53B400"/><circle cx="633.6" cy="738.4" r="1.4" fill="#F8766D"/><circle cx="117.1" cy="784.3" r="1.4" fill="#53B400"/><circle cx="505.6" cy="815.9" r="1.4" fill="#A58AFF"/><circle cx="592.1" cy="1006.9" r="1.4" fill="#C49A00"/><circle cx="592.5" cy="754.1" r="1.4" fill="#F8766D"/><circle cx="301.8" cy="822.8" r="1.4" fill="#FB61D7"/><circle cx="137.6" cy="765.3" r="1.4" fill="#53B400"/><circle cx="596.7" cy="1013.7" r="1.4" fill="#C49A00"/><circle cx="593.3" cy="793.1" r="1.4" fill="#F8766D"/><circle cx="596.2" cy="1001.5" r="1.4" fill="#C49A00"/><circle cx="605.5" cy="855.2" r="1.4" fill="#00C094"/><circle cx="223.0" cy="817.3" r="1.4" fill="#53B400"/><circle cx="298.7" cy="818.8" r="1.4" fill="#FB61D7"/><circle cx="582.1" cy="810.6" r="1.4" fill="#00C094"/><circle cx="114.2" cy="820.9" r="1.4" fill="#53B400"/><circle cx="556.8" cy="1003.0" r="1.4" fill="#C49A00"/><circle cx="566.8" cy="989.5" r="1.4" fill="#C49A00"/><circle cx="508.7" cy="818.5" r="1.4" fill="#A58AFF"/><circle cx="587.4" cy="744.8" r="1.4" fill="#F8766D"/><circle cx="613.9" cy="820.5" r="1.4" fill="#00C094"/><circle cx="610.0" cy="754.5" r="1.4" fill="#F8766D"/><circle cx="584.5" cy="1019.6" r="1.4" fill="#C49A00"/><circle cx="313.5" cy="815.5" r="1.4" fill="#FB61D7"/><circle cx="588.9" cy="969.0" r="1.4" fill="#C49A00"/><circle cx="111.3" cy="768.4" r="1.4" fill="#53B400"/><circle cx="580.9" cy="851.7" r="1.4" fill="#00C094"/><circle cx="303.9" cy="819.0" r="1.4" fill="#FB61D7"/><circle cx="577.9" cy="965.0" r="1.4" fill="#C49A00"/><circle cx="548.4" cy="849.7" r="1.4" fill="#00C094"/><circle cx="576.5" cy="1033.1" r="1.4" fill="#C49A00"/><circle cx="570.4" cy="1062.2" r="1.4" fill="#00B6EB"/><circle cx="577.0" cy="737.9" r="1.4" fill="#F8766D"/><circle cx="575.9" cy="764.3" r="1.4" fill="#F8766D"/><circle cx="608.3" cy="746.6" r="1.4" fill="#F8766D"/><circle cx="93.9" cy="792.4" r="1.4" fill="#53B400"/><circle cx="580.7" cy="1059.7" r="1.4" fill="#00B6EB"/><circle cx="566.0" cy="1086.2" r="1.4" fill="#00B6EB"/><circle cx="503.2" cy="830.1" r="1.4" fill="#A58AFF"/><circle cx="594.3" cy="968.5" r="1.4" fill="#C49A00"/><circle cx="236.6" cy="837.7" r="1.4" fill="#53B400"/><circle cx="187.0" cy="822.5" r="1.4" fill="#53B400"/><circle cx="100.2" cy="796.6" r="1.4" fill="#53B400"/><circle cx="615.3" cy="844.1" r="1.4" fill="#00C094"/><circle cx="549.4" cy="850.8" r="1.4" fill="#00C094"/><circle cx="207.3" cy="827.2" r="1.4" fill="#53B400"/><circle cx="94.9" cy="793.5" r="1.4" fill="#53B400"/><circle cx="579.8" cy="766.6" r="1.4" fill="#F8766D"/><circle cx="119.6" cy="769.4" r="1.4" fill="#53B400"/><circle cx="621.7" cy="805.3" r="1.4" fill="#00C094"/><circle cx="539.2" cy="762.9" r="1.4" fill="#F8766D"/><circle cx="153.2" cy="816.1" r="1.4" fill="#53B400"/><circle cx="589.9" cy="793.7" r="1.4" fill="#F8766D"/><circle cx="503.9" cy="843.6" r="1.4" fill="#A58AFF"/><circle cx="100.2" cy="778.7" r="1.4" fill="#53B400"/><circle cx="508.2" cy="819.6" r="1.4" fill="#A58AFF"/><circle cx="139.2" cy="814.5" r="1.4" fill="#53B400"/><circle cx="577.9" cy="789.1" r="1.4" fill="#F8766D"/><circle cx="510.3" cy="819.8" r="1.4" fill="#A58AFF"/><circle cx="589.0" cy="1104.6" r="1.4" fill="#00B6EB"/><circle cx="202.2" cy="828.5" r="1.4" fill="#53B400"/><circle cx="137.6" cy="797.1" r="1.4" fill="#53B400"/><circle cx="104.2" cy="777.4" r="1.4" fill="#53B400"/><circle cx="570.6" cy="825.9" r="1.4" fill="#00C094"/><circle cx="619.6" cy="802.9" r="1.4" fill="#00C094"/><circle cx="242.3" cy="826.4" r="1.4" fill="#53B400"/><circle cx="605.9" cy="845.3" r="1.4" fill="#00C094"/><circle cx="584.4" cy="956.0" r="1.4" fill="#C49A00"/><circle cx="139.1" cy="830.4" r="1.4" fill="#53B400"/><circle cx="590.2" cy="859.2" r="1.4" fill="#00C094"/><circle cx="97.0" cy="799.8" r="1.4" fill="#53B400"/><circle cx="586.2" cy="1109.3" r="1.4" fill="#00B6EB"/><circle cx="307.5" cy="816.2" r="1.4" fill="#FB61D7"/><circle cx="578.7" cy="1094.8" r="1.4" fill="#00B6EB"/><circle cx="619.8" cy="944.6" r="1.4" fill="#C49A00"/><circle cx="118.7" cy="797.4" r="1.4" fill="#53B400"/><circle cx="262.2" cy="826.8" r="1.4" fill="#00C094"/><circle cx="588.6" cy="1060.8" r="1.4" fill="#00B6EB"/><circle cx="597.3" cy="851.1" r="1.4" fill="#00C094"/><circle cx="217.1" cy="814.1" r="1.4" fill="#53B400"/><circle cx="582.0" cy="1012.0" r="1.4" fill="#C49A00"/><circle cx="591.3" cy="993.9" r="1.4" fill="#C49A00"/><circle cx="610.2" cy="970.2" r="1.4" fill="#C49A00"/><circle cx="562.6" cy="1087.3" r="1.4" fill="#00B6EB"/><circle cx="581.0" cy="991.7" r="1.4" fill="#C49A00"/><circle cx="628.3" cy="754.6" r="1.4" fill="#F8766D"/><circle cx="595.2" cy="971.4" r="1.4" fill="#C49A00"/><circle cx="603.8" cy="740.7" r="1.4" fill="#F8766D"/><circle cx="566.2" cy="1100.2" r="1.4" fill="#00B6EB"/><circle cx="604.2" cy="989.7" r="1.4" fill="#C49A00"/><circle cx="255.6" cy="826.8" r="1.4" fill="#FB61D7"/><circle cx="617.9" cy="826.8" r="1.4" fill="#00C094"/><circle cx="588.1" cy="752.3" r="1.4" fill="#F8766D"/><circle cx="469.2" cy="878.5" r="1.4" fill="#A58AFF"/><circle cx="547.6" cy="856.5" r="1.4" fill="#00C094"/><circle cx="471.4" cy="818.8" r="1.4" fill="#F8766D"/><circle cx="600.3" cy="731.4" r="1.4" fill="#F8766D"/><circle cx="595.0" cy="775.7" r="1.4" fill="#F8766D"/><circle cx="601.3" cy="852.0" r="1.4" fill="#00C094"/><circle cx="560.8" cy="1062.2" r="1.4" fill="#00B6EB"/><circle cx="508.3" cy="863.7" r="1.4" fill="#A58AFF"/><circle cx="176.8" cy="822.6" r="1.4" fill="#53B400"/><circle cx="573.9" cy="1069.8" r="1.4" fill="#00B6EB"/><circle cx="212.7" cy="833.1" r="1.4" fill="#53B400"/><circle cx="607.4" cy="892.7" r="1.4" fill="#00C094"/><circle cx="608.8" cy="902.3" r="1.4" fill="#C49A00"/><circle cx="579.2" cy="960.7" r="1.4" fill="#C49A00"/><circle cx="562.9" cy="1066.4" r="1.4" fill="#00B6EB"/><circle cx="239.6" cy="838.8" r="1.4" fill="#53B400"/><circle cx="568.1" cy="1043.4" r="1.4" fill="#C49A00"/><circle cx="508.9" cy="838.7" r="1.4" fill="#A58AFF"/><circle cx="565.5" cy="1092.2" r="1.4" fill="#00B6EB"/><circle cx="568.7" cy="1066.3" r="1.4" fill="#00B6EB"/><circle cx="617.9" cy="752.1" r="1.4" fill="#F8766D"/><circle cx="214.2" cy="829.0" r="1.4" fill="#53B400"/><circle cx="568.4" cy="857.2" r="1.4" fill="#00C094"/><circle cx="578.4" cy="854.5" r="1.4" fill="#00C094"/><circle cx="542.2" cy="776.2" r="1.4" fill="#F8766D"/><circle cx="581.6" cy="1014.7" r="1.4" fill="#C49A00"/><circle cx="616.8" cy="747.1" r="1.4" fill="#F8766D"/><circle cx="597.5" cy="784.0" r="1.4" fill="#F8766D"/><circle cx="596.5" cy="778.6" r="1.4" fill="#F8766D"/><circle cx="168.2" cy="827.3" r="1.4" fill="#53B400"/><circle cx="631.4" cy="737.3" r="1.4" fill="#F8766D"/><circle cx="141.5" cy="786.1" r="1.4" fill="#53B400"/><circle cx="580.6" cy="970.9" r="1.4" fill="#C49A00"/><circle cx="342.1" cy="823.5" r="1.4" fill="#FB61D7"/><circle cx="602.3" cy="975.5" r="1.4" fill="#C49A00"/><circle cx="557.4" cy="742.2" r="1.4" fill="#F8766D"/><circle cx="615.9" cy="1041.4" r="1.4" fill="#C49A00"/><circle cx="478.0" cy="871.3" r="1.4" fill="#00C094"/><circle cx="611.3" cy="754.4" r="1.4" fill="#F8766D"/><circle cx="91.9" cy="789.4" r="1.4" fill="#53B400"/><circle cx="81.0" cy="805.8" r="1.4" fill="#53B400"/><circle cx="624.0" cy="808.4" r="1.4" fill="#00C094"/><circle cx="584.6" cy="828.2" r="1.4" fill="#00C094"/><circle cx="626.1" cy="749.0" r="1.4" fill="#F8766D"/><circle cx="567.9" cy="1130.7" r="1.4" fill="#00B6EB"/><circle cx="536.5" cy="932.1" r="1.4" fill="#C49A00"/><circle cx="540.1" cy="765.2" r="1.4" fill="#F8766D"/><circle cx="150.3" cy="793.6" r="1.4" fill="#53B400"/><circle cx="290.6" cy="823.4" r="1.4" fill="#FB61D7"/><circle cx="504.0" cy="868.3" r="1.4" fill="#A58AFF"/><circle cx="587.4" cy="1005.9" r="1.4" fill="#C49A00"/><circle cx="410.8" cy="832.6" r="1.4" fill="#53B400"/><circle cx="577.6" cy="1027.8" r="1.4" fill="#C49A00"/><circle cx="546.8" cy="1023.4" r="1.4" fill="#C49A00"/><circle cx="572.3" cy="1083.2" r="1.4" fill="#00B6EB"/><circle cx="145.9" cy="759.8" r="1.4" fill="#53B400"/><circle cx="139.1" cy="809.0" r="1.4" fill="#53B400"/><circle cx="560.2" cy="774.6" r="1.4" fill="#F8766D"/><circle cx="241.0" cy="823.4" r="1.4" fill="#53B400"/><circle cx="617.1" cy="776.5" r="1.4" fill="#F8766D"/><circle cx="140.4" cy="831.8" r="1.4" fill="#53B400"/><circle cx="534.5" cy="772.6" r="1.4" fill="#F8766D"/><circle cx="601.1" cy="943.3" r="1.4" fill="#C49A00"/><circle cx="100.4" cy="783.2" r="1.4" fill="#53B400"/><circle cx="161.4" cy="771.3" r="1.4" fill="#53B400"/><circle cx="166.6" cy="822.5" r="1.4" fill="#53B400"/><circle cx="581.0" cy="789.3" r="1.4" fill="#F8766D"/><circle cx="564.3" cy="857.9" r="1.4" fill="#00C094"/><circle cx="607.3" cy="1032.1" r="1.4" fill="#C49A00"/><circle cx="574.2" cy="1074.6" r="1.4" fill="#00B6EB"/><circle cx="574.4" cy="1041.6" r="1.4" fill="#C49A00"/><circle cx="117.1" cy="808.2" r="1.4" fill="#53B400"/><circle cx="85.6" cy="802.6" r="1.4" fill="#53B400"/><circle cx="317.4" cy="823.2" r="1.4" fill="#FB61D7"/><circle cx="604.9" cy="922.3" r="1.4" fill="#C49A00"/><circle cx="581.0" cy="1097.7" r="1.4" fill="#00B6EB"/><circle cx="607.9" cy="863.2" r="1.4" fill="#00C094"/><circle cx="612.2" cy="905.8" r="1.4" fill="#C49A00"/><circle cx="139.0" cy="757.8" r="1.4" fill="#53B400"/><circle cx="596.4" cy="1043.5" r="1.4" fill="#C49A00"/><circle cx="618.3" cy="807.2" r="1.4" fill="#00C094"/><circle cx="618.6" cy="976.4" r="1.4" fill="#C49A00"/><circle cx="618.4" cy="986.8" r="1.4" fill="#C49A00"/><circle cx="324.0" cy="820.0" r="1.4" fill="#FB61D7"/><circle cx="317.6" cy="826.4" r="1.4" fill="#FB61D7"/><circle cx="326.9" cy="816.6" r="1.4" fill="#FB61D7"/><circle cx="161.9" cy="763.5" r="1.4" fill="#53B400"/><circle cx="615.9" cy="1014.7" r="1.4" fill="#C49A00"/><circle cx="590.1" cy="815.2" r="1.4" fill="#00C094"/><circle cx="602.0" cy="767.4" r="1.4" fill="#F8766D"/><circle cx="596.6" cy="976.8" r="1.4" fill="#C49A00"/><circle cx="546.3" cy="786.9" r="1.4" fill="#F8766D"/><circle cx="125.1" cy="802.4" r="1.4" fill="#53B400"/><circle cx="618.8" cy="756.5" r="1.4" fill="#F8766D"/><circle cx="515.8" cy="816.0" r="1.4" fill="#A58AFF"/><circle cx="507.8" cy="825.0" r="1.4" fill="#A58AFF"/><circle cx="576.3" cy="1073.4" r="1.4" fill="#00B6EB"/><circle cx="507.7" cy="856.8" r="1.4" fill="#A58AFF"/><circle cx="561.7" cy="749.9" r="1.4" fill="#F8766D"/><circle cx="121.7" cy="786.8" r="1.4" fill="#53B400"/><circle cx="536.3" cy="766.1" r="1.4" fill="#F8766D"/><circle cx="141.8" cy="824.4" r="1.4" fill="#53B400"/><circle cx="607.4" cy="870.8" r="1.4" fill="#00C094"/><circle cx="628.9" cy="751.2" r="1.4" fill="#F8766D"/><circle cx="596.7" cy="730.8" r="1.4" fill="#F8766D"/><circle cx="591.4" cy="736.5" r="1.4" fill="#F8766D"/><circle cx="579.3" cy="776.5" r="1.4" fill="#F8766D"/><circle cx="575.4" cy="967.5" r="1.4" fill="#C49A00"/><circle cx="620.0" cy="972.2" r="1.4" fill="#C49A00"/><circle cx="602.3" cy="747.4" r="1.4" fill="#F8766D"/><circle cx="503.1" cy="865.4" r="1.4" fill="#A58AFF"/><circle cx="171.6" cy="822.1" r="1.4" fill="#53B400"/><circle cx="601.5" cy="775.6" r="1.4" fill="#F8766D"/><circle cx="542.8" cy="850.2" r="1.4" fill="#00C094"/><circle cx="148.0" cy="767.0" r="1.4" fill="#53B400"/><circle cx="609.3" cy="873.8" r="1.4" fill="#00C094"/><circle cx="619.2" cy="975.7" r="1.4" fill="#C49A00"/><circle cx="614.9" cy="990.8" r="1.4" fill="#C49A00"/><circle cx="610.0" cy="723.4" r="1.4" fill="#F8766D"/><circle cx="534.4" cy="787.9" r="1.4" fill="#F8766D"/><circle cx="566.7" cy="724.2" r="1.4" fill="#F8766D"/><circle cx="567.6" cy="1105.7" r="1.4" fill="#00B6EB"/><circle cx="577.3" cy="735.0" r="1.4" fill="#F8766D"/><circle cx="507.7" cy="841.8" r="1.4" fill="#A58AFF"/><circle cx="615.0" cy="842.1" r="1.4" fill="#00C094"/><circle cx="557.9" cy="791.5" r="1.4" fill="#F8766D"/><circle cx="391.0" cy="830.3" r="1.4" fill="#53B400"/><circle cx="610.5" cy="919.0" r="1.4" fill="#C49A00"/><circle cx="583.5" cy="757.1" r="1.4" fill="#F8766D"/><circle cx="581.5" cy="1007.1" r="1.4" fill="#C49A00"/><circle cx="578.5" cy="773.9" r="1.4" fill="#F8766D"/><circle cx="113.0" cy="794.6" r="1.4" fill="#53B400"/><circle cx="565.2" cy="1063.3" r="1.4" fill="#00B6EB"/><circle cx="257.8" cy="823.0" r="1.4" fill="#FB61D7"/><circle cx="533.3" cy="934.7" r="1.4" fill="#C49A00"/><circle cx="558.4" cy="857.1" r="1.4" fill="#00C094"/><circle cx="501.8" cy="859.6" r="1.4" fill="#A58AFF"/><circle cx="578.1" cy="769.7" r="1.4" fill="#F8766D"/><circle cx="317.1" cy="824.2" r="1.4" fill="#FB61D7"/><circle cx="136.6" cy="833.9" r="1.4" fill="#53B400"/><circle cx="167.9" cy="836.4" r="1.4" fill="#53B400"/><circle cx="623.3" cy="763.9" r="1.4" fill="#F8766D"/><circle cx="185.7" cy="827.9" r="1.4" fill="#53B400"/><circle cx="187.2" cy="825.6" r="1.4" fill="#53B400"/><circle cx="193.8" cy="837.1" r="1.4" fill="#53B400"/><circle cx="590.8" cy="1010.5" r="1.4" fill="#C49A00"/><circle cx="115.9" cy="822.7" r="1.4" fill="#53B400"/><circle cx="609.8" cy="746.3" r="1.4" fill="#F8766D"/><circle cx="155.0" cy="822.5" r="1.4" fill="#53B400"/><circle cx="598.6" cy="765.9" r="1.4" fill="#F8766D"/><circle cx="564.6" cy="990.0" r="1.4" fill="#C49A00"/><circle cx="573.4" cy="750.0" r="1.4" fill="#F8766D"/><circle cx="164.3" cy="769.9" r="1.4" fill="#53B400"/><circle cx="605.7" cy="784.3" r="1.4" fill="#F8766D"/><circle cx="603.4" cy="973.9" r="1.4" fill="#C49A00"/><circle cx="615.8" cy="1017.1" r="1.4" fill="#C49A00"/><circle cx="577.3" cy="1087.0" r="1.4" fill="#00B6EB"/><circle cx="596.0" cy="940.7" r="1.4" fill="#C49A00"/><circle cx="617.1" cy="725.5" r="1.4" fill="#F8766D"/><circle cx="573.8" cy="822.9" r="1.4" fill="#00C094"/><circle cx="590.5" cy="1023.1" r="1.4" fill="#C49A00"/><circle cx="582.1" cy="771.3" r="1.4" fill="#F8766D"/><circle cx="569.9" cy="1127.1" r="1.4" fill="#00B6EB"/><circle cx="561.7" cy="855.6" r="1.4" fill="#00C094"/><circle cx="599.8" cy="957.5" r="1.4" fill="#C49A00"/><circle cx="545.2" cy="747.8" r="1.4" fill="#F8766D"/><circle cx="307.6" cy="822.5" r="1.4" fill="#FB61D7"/><circle cx="610.0" cy="1044.6" r="1.4" fill="#C49A00"/><circle cx="560.2" cy="995.4" r="1.4" fill="#C49A00"/><circle cx="159.6" cy="821.0" r="1.4" fill="#53B400"/><circle cx="588.3" cy="726.5" r="1.4" fill="#F8766D"/><circle cx="102.9" cy="785.8" r="1.4" fill="#53B400"/><circle cx="140.5" cy="822.8" r="1.4" fill="#53B400"/><circle cx="622.6" cy="808.0" r="1.4" fill="#00C094"/><circle cx="501.4" cy="875.9" r="1.4" fill="#A58AFF"/><circle cx="601.8" cy="886.3" r="1.4" fill="#00C094"/><circle cx="310.4" cy="828.1" r="1.4" fill="#FB61D7"/><circle cx="599.9" cy="940.1" r="1.4" fill="#C49A00"/><circle cx="580.3" cy="1063.5" r="1.4" fill="#00B6EB"/><circle cx="613.9" cy="807.7" r="1.4" fill="#00C094"/><circle cx="560.9" cy="1112.1" r="1.4" fill="#00B6EB"/><circle cx="564.7" cy="1039.9" r="1.4" fill="#C49A00"/><circle cx="555.1" cy="781.7" r="1.4" fill="#F8766D"/><circle cx="580.4" cy="1046.0" r="1.4" fill="#C49A00"/><circle cx="621.4" cy="739.5" r="1.4" fill="#F8766D"/><circle cx="580.5" cy="996.1" r="1.4" fill="#C49A00"/><circle cx="622.5" cy="761.0" r="1.4" fill="#F8766D"/><circle cx="572.8" cy="1116.3" r="1.4" fill="#00B6EB"/><circle cx="619.8" cy="1006.7" r="1.4" fill="#C49A00"/><circle cx="607.8" cy="763.7" r="1.4" fill="#F8766D"/><circle cx="607.4" cy="834.2" r="1.4" fill="#00C094"/><circle cx="566.9" cy="1073.3" r="1.4" fill="#00B6EB"/><circle cx="99.5" cy="823.4" r="1.4" fill="#53B400"/><circle cx="106.0" cy="811.2" r="1.4" fill="#53B400"/><circle cx="570.9" cy="789.6" r="1.4" fill="#F8766D"/><circle cx="612.9" cy="755.4" r="1.4" fill="#F8766D"/><circle cx="550.0" cy="849.5" r="1.4" fill="#00C094"/><circle cx="598.2" cy="851.5" r="1.4" fill="#00C094"/><circle cx="566.0" cy="761.8" r="1.4" fill="#F8766D"/><circle cx="574.4" cy="1107.2" r="1.4" fill="#00B6EB"/><circle cx="609.5" cy="879.6" r="1.4" fill="#00C094"/><circle cx="579.6" cy="748.9" r="1.4" fill="#F8766D"/><circle cx="622.6" cy="799.8" r="1.4" fill="#00C094"/><circle cx="564.3" cy="784.0" r="1.4" fill="#F8766D"/><circle cx="607.9" cy="790.7" r="1.4" fill="#F8766D"/><circle cx="199.8" cy="823.6" r="1.4" fill="#53B400"/><circle cx="153.5" cy="823.4" r="1.4" fill="#53B400"/><circle cx="544.1" cy="753.4" r="1.4" fill="#F8766D"/><circle cx="513.7" cy="813.0" r="1.4" fill="#A58AFF"/><circle cx="571.3" cy="765.5" r="1.4" fill="#F8766D"/><circle cx="212.7" cy="818.5" r="1.4" fill="#53B400"/><circle cx="593.9" cy="976.9" r="1.4" fill="#C49A00"/><circle cx="232.9" cy="816.4" r="1.4" fill="#53B400"/><circle cx="554.0" cy="1013.1" r="1.4" fill="#C49A00"/><circle cx="577.5" cy="790.3" r="1.4" fill="#F8766D"/><circle cx="568.9" cy="724.2" r="1.4" fill="#F8766D"/><circle cx="592.9" cy="1090.5" r="1.4" fill="#00B6EB"/><circle cx="577.1" cy="1073.6" r="1.4" fill="#00B6EB"/><circle cx="127.8" cy="789.3" r="1.4" fill="#53B400"/><circle cx="241.8" cy="826.4" r="1.4" fill="#53B400"/><circle cx="596.9" cy="772.2" r="1.4" fill="#F8766D"/><circle cx="529.8" cy="813.7" r="1.4" fill="#A58AFF"/><circle cx="83.0" cy="808.3" r="1.4" fill="#53B400"/><circle cx="330.8" cy="818.6" r="1.4" fill="#FB61D7"/><circle cx="599.2" cy="961.8" r="1.4" fill="#C49A00"/><circle cx="593.1" cy="991.0" r="1.4" fill="#C49A00"/><circle cx="587.2" cy="1089.6" r="1.4" fill="#00B6EB"/><circle cx="598.0" cy="782.2" r="1.4" fill="#F8766D"/><circle cx="567.5" cy="1025.0" r="1.4" fill="#C49A00"/><circle cx="570.1" cy="1099.2" r="1.4" fill="#00B6EB"/><circle cx="560.3" cy="992.6" r="1.4" fill="#C49A00"/><circle cx="630.8" cy="739.5" r="1.4" fill="#F8766D"/><circle cx="580.5" cy="720.8" r="1.4" fill="#F8766D"/><circle cx="557.1" cy="751.6" r="1.4" fill="#F8766D"/><circle cx="569.0" cy="1061.6" r="1.4" fill="#00B6EB"/><circle cx="101.5" cy="822.4" r="1.4" fill="#53B400"/><circle cx="597.6" cy="977.9" r="1.4" fill="#C49A00"/><circle cx="87.3" cy="798.4" r="1.4" fill="#53B400"/><circle cx="601.0" cy="744.5" r="1.4" fill="#F8766D"/><circle cx="617.2" cy="835.1" r="1.4" fill="#00C094"/><circle cx="125.9" cy="793.5" r="1.4" fill="#53B400"/><circle cx="598.8" cy="1047.4" r="1.4" fill="#C49A00"/><circle cx="617.8" cy="938.4" r="1.4" fill="#C49A00"/><circle cx="101.9" cy="786.5" r="1.4" fill="#53B400"/><circle cx="614.1" cy="721.8" r="1.4" fill="#F8766D"/><circle cx="251.2" cy="828.8" r="1.4" fill="#FB61D7"/><circle cx="574.8" cy="858.4" r="1.4" fill="#00C094"/><circle cx="623.5" cy="767.6" r="1.4" fill="#F8766D"/><circle cx="608.0" cy="963.1" r="1.4" fill="#C49A00"/><circle cx="557.8" cy="1021.6" r="1.4" fill="#C49A00"/><circle cx="243.7" cy="821.5" r="1.4" fill="#53B400"/><circle cx="187.5" cy="817.2" r="1.4" fill="#53B400"/><circle cx="86.9" cy="797.9" r="1.4" fill="#53B400"/><circle cx="565.0" cy="733.2" r="1.4" fill="#F8766D"/><circle cx="574.0" cy="739.8" r="1.4" fill="#F8766D"/><circle cx="611.4" cy="833.6" r="1.4" fill="#00C094"/><circle cx="90.8" cy="802.3" r="1.4" fill="#53B400"/><circle cx="616.6" cy="776.9" r="1.4" fill="#F8766D"/><circle cx="626.1" cy="723.3" r="1.4" fill="#F8766D"/><circle cx="580.6" cy="1019.6" r="1.4" fill="#C49A00"/><circle cx="615.1" cy="889.6" r="1.4" fill="#00C094"/><circle cx="561.4" cy="780.6" r="1.4" fill="#F8766D"/><circle cx="585.9" cy="1082.3" r="1.4" fill="#00B6EB"/><circle cx="594.1" cy="722.0" r="1.4" fill="#F8766D"/><circle cx="101.8" cy="797.9" r="1.4" fill="#53B400"/><circle cx="97.0" cy="793.9" r="1.4" fill="#53B400"/><circle cx="604.6" cy="997.2" r="1.4" fill="#C49A00"/><circle cx="207.1" cy="815.3" r="1.4" fill="#53B400"/><circle cx="247.9" cy="824.9" r="1.4" fill="#FB61D7"/><circle cx="81.1" cy="809.1" r="1.4" fill="#53B400"/><circle cx="572.9" cy="1059.1" r="1.4" fill="#00B6EB"/><circle cx="575.2" cy="1127.4" r="1.4" fill="#00B6EB"/><circle cx="566.9" cy="837.2" r="1.4" fill="#00C094"/><circle cx="621.3" cy="827.2" r="1.4" fill="#00C094"/><circle cx="323.1" cy="825.2" r="1.4" fill="#FB61D7"/><circle cx="101.0" cy="778.3" r="1.4" fill="#53B400"/><circle cx="540.3" cy="760.8" r="1.4" fill="#F8766D"/><circle cx="603.2" cy="1007.0" r="1.4" fill="#C49A00"/><circle cx="620.9" cy="992.7" r="1.4" fill="#C49A00"/><circle cx="586.1" cy="1037.4" r="1.4" fill="#C49A00"/><circle cx="535.7" cy="769.5" r="1.4" fill="#F8766D"/><circle cx="584.8" cy="1083.8" r="1.4" fill="#00B6EB"/><circle cx="120.7" cy="768.0" r="1.4" fill="#53B400"/><circle cx="509.0" cy="831.2" r="1.4" fill="#A58AFF"/><circle cx="586.6" cy="714.3" r="1.4" fill="#F8766D"/><circle cx="322.3" cy="824.5" r="1.4" fill="#FB61D7"/><circle cx="620.3" cy="753.6" r="1.4" fill="#F8766D"/><circle cx="619.6" cy="806.1" r="1.4" fill="#00C094"/><circle cx="586.5" cy="1074.3" r="1.4" fill="#00B6EB"/><circle cx="88.4" cy="800.2" r="1.4" fill="#53B400"/><circle cx="562.0" cy="773.3" r="1.4" fill="#F8766D"/><circle cx="619.7" cy="848.0" r="1.4" fill="#00C094"/><circle cx="605.2" cy="1011.3" r="1.4" fill="#C49A00"/><circle cx="315.1" cy="817.2" r="1.4" fill="#FB61D7"/><circle cx="106.5" cy="826.3" r="1.4" fill="#53B400"/><circle cx="560.0" cy="740.2" r="1.4" fill="#F8766D"/><circle cx="511.9" cy="812.0" r="1.4" fill="#A58AFF"/><circle cx="605.8" cy="947.1" r="1.4" fill="#C49A00"/><circle cx="221.6" cy="817.9" r="1.4" fill="#53B400"/><circle cx="599.5" cy="1018.1" r="1.4" fill="#C49A00"/><circle cx="561.1" cy="820.6" r="1.4" fill="#00C094"/><circle cx="584.4" cy="856.0" r="1.4" fill="#00C094"/><circle cx="578.1" cy="857.8" r="1.4" fill="#00C094"/><circle cx="592.4" cy="1073.9" r="1.4" fill="#00B6EB"/><circle cx="610.9" cy="759.2" r="1.4" fill="#F8766D"/><circle cx="521.6" cy="852.7" r="1.4" fill="#00C094"/><circle cx="610.4" cy="743.4" r="1.4" fill="#F8766D"/><circle cx="628.4" cy="727.0" r="1.4" fill="#F8766D"/><circle cx="308.5" cy="823.9" r="1.4" fill="#FB61D7"/><circle cx="120.6" cy="822.7" r="1.4" fill="#53B400"/><circle cx="557.9" cy="757.9" r="1.4" fill="#F8766D"/><circle cx="636.2" cy="734.3" r="1.4" fill="#F8766D"/><circle cx="127.3" cy="759.8" r="1.4" fill="#53B400"/><circle cx="303.6" cy="815.4" r="1.4" fill="#FB61D7"/><circle cx="612.8" cy="871.9" r="1.4" fill="#00C094"/><circle cx="605.9" cy="773.3" r="1.4" fill="#F8766D"/><circle cx="201.7" cy="816.0" r="1.4" fill="#53B400"/><circle cx="588.4" cy="719.2" r="1.4" fill="#F8766D"/><circle cx="87.0" cy="802.5" r="1.4" fill="#53B400"/><circle cx="506.1" cy="872.5" r="1.4" fill="#A58AFF"/><circle cx="625.3" cy="717.4" r="1.4" fill="#F8766D"/><circle cx="614.2" cy="740.4" r="1.4" fill="#F8766D"/><circle cx="605.5" cy="992.6" r="1.4" fill="#C49A00"/><circle cx="583.1" cy="1107.4" r="1.4" fill="#00B6EB"/><circle cx="615.6" cy="812.4" r="1.4" fill="#00C094"/><circle cx="584.3" cy="988.0" r="1.4" fill="#C49A00"/><circle cx="322.2" cy="817.2" r="1.4" fill="#FB61D7"/><circle cx="609.9" cy="845.8" r="1.4" fill="#00C094"/><circle cx="590.2" cy="959.3" r="1.4" fill="#C49A00"/><circle cx="605.3" cy="730.4" r="1.4" fill="#F8766D"/><circle cx="614.3" cy="1044.8" r="1.4" fill="#C49A00"/><circle cx="583.6" cy="759.6" r="1.4" fill="#F8766D"/><circle cx="572.5" cy="1055.7" r="1.4" fill="#00B6EB"/><circle cx="600.2" cy="1021.4" r="1.4" fill="#C49A00"/><circle cx="535.4" cy="929.4" r="1.4" fill="#C49A00"/><circle cx="503.9" cy="868.0" r="1.4" fill="#A58AFF"/><circle cx="577.7" cy="858.1" r="1.4" fill="#00C094"/><circle cx="543.6" cy="1015.5" r="1.4" fill="#C49A00"/><circle cx="562.2" cy="726.2" r="1.4" fill="#F8766D"/><circle cx="601.0" cy="726.8" r="1.4" fill="#F8766D"/><circle cx="488.5" cy="819.5" r="1.4" fill="#A58AFF"/><circle cx="507.3" cy="842.4" r="1.4" fill="#A58AFF"/><circle cx="556.6" cy="742.1" r="1.4" fill="#F8766D"/><circle cx="604.6" cy="776.1" r="1.4" fill="#F8766D"/><circle cx="555.9" cy="734.3" r="1.4" fill="#F8766D"/><circle cx="532.9" cy="855.3" r="1.4" fill="#00C094"/><circle cx="585.6" cy="1025.3" r="1.4" fill="#C49A00"/><circle cx="564.6" cy="1011.8" r="1.4" fill="#C49A00"/><circle cx="578.1" cy="1040.0" r="1.4" fill="#C49A00"/><circle cx="191.3" cy="835.8" r="1.4" fill="#53B400"/><circle cx="610.6" cy="906.2" r="1.4" fill="#C49A00"/><circle cx="516.4" cy="815.6" r="1.4" fill="#A58AFF"/><circle cx="571.1" cy="765.3" r="1.4" fill="#F8766D"/><circle cx="581.2" cy="1038.9" r="1.4" fill="#C49A00"/><circle cx="618.0" cy="750.0" r="1.4" fill="#F8766D"/><circle cx="112.4" cy="800.8" r="1.4" fill="#53B400"/><circle cx="534.7" cy="933.0" r="1.4" fill="#C49A00"/><circle cx="622.4" cy="722.3" r="1.4" fill="#F8766D"/><circle cx="614.8" cy="834.0" r="1.4" fill="#00C094"/><circle cx="170.8" cy="767.0" r="1.4" fill="#53B400"/><circle cx="139.4" cy="833.9" r="1.4" fill="#53B400"/><circle cx="77.9" cy="806.1" r="1.4" fill="#53B400"/><circle cx="612.9" cy="905.6" r="1.4" fill="#C49A00"/><circle cx="603.6" cy="859.2" r="1.4" fill="#00C094"/><circle cx="590.0" cy="781.7" r="1.4" fill="#F8766D"/><circle cx="576.5" cy="833.2" r="1.4" fill="#00C094"/><circle cx="545.1" cy="788.6" r="1.4" fill="#F8766D"/><circle cx="563.6" cy="1098.9" r="1.4" fill="#00B6EB"/><circle cx="116.8" cy="785.5" r="1.4" fill="#53B400"/><circle cx="600.6" cy="990.8" r="1.4" fill="#C49A00"/><circle cx="571.9" cy="726.1" r="1.4" fill="#F8766D"/><circle cx="610.4" cy="914.4" r="1.4" fill="#C49A00"/><circle cx="551.4" cy="860.8" r="1.4" fill="#00C094"/><circle cx="572.4" cy="857.4" r="1.4" fill="#00C094"/><circle cx="551.9" cy="788.8" r="1.4" fill="#F8766D"/><circle cx="530.9" cy="786.3" r="1.4" fill="#F8766D"/><circle cx="605.5" cy="859.5" r="1.4" fill="#00C094"/><circle cx="231.0" cy="812.6" r="1.4" fill="#53B400"/><circle cx="209.6" cy="819.9" r="1.4" fill="#53B400"/><circle cx="185.0" cy="820.3" r="1.4" fill="#53B400"/><circle cx="316.2" cy="821.9" r="1.4" fill="#FB61D7"/><circle cx="143.0" cy="791.7" r="1.4" fill="#53B400"/><circle cx="614.6" cy="850.3" r="1.4" fill="#00C094"/><circle cx="320.2" cy="822.8" r="1.4" fill="#FB61D7"/><circle cx="539.7" cy="936.3" r="1.4" fill="#C49A00"/><circle cx="136.5" cy="798.0" r="1.4" fill="#53B400"/><circle cx="531.4" cy="788.5" r="1.4" fill="#F8766D"/><circle cx="591.9" cy="1007.6" r="1.4" fill="#C49A00"/><circle cx="615.8" cy="782.3" r="1.4" fill="#F8766D"/><circle cx="505.7" cy="842.5" r="1.4" fill="#A58AFF"/><circle cx="604.5" cy="776.7" r="1.4" fill="#F8766D"/><circle cx="519.0" cy="816.9" r="1.4" fill="#A58AFF"/><circle cx="558.9" cy="1034.9" r="1.4" fill="#C49A00"/><circle cx="122.2" cy="783.0" r="1.4" fill="#53B400"/><circle cx="298.0" cy="827.5" r="1.4" fill="#FB61D7"/><circle cx="571.8" cy="764.9" r="1.4" fill="#F8766D"/><circle cx="594.7" cy="720.1" r="1.4" fill="#F8766D"/><circle cx="237.4" cy="836.4" r="1.4" fill="#53B400"/><circle cx="304.1" cy="825.4" r="1.4" fill="#FB61D7"/><circle cx="599.3" cy="855.8" r="1.4" fill="#00C094"/><circle cx="622.1" cy="742.8" r="1.4" fill="#F8766D"/><circle cx="558.0" cy="1080.0" r="1.4" fill="#00B6EB"/><circle cx="199.9" cy="814.0" r="1.4" fill="#53B400"/><circle cx="150.1" cy="760.3" r="1.4" fill="#53B400"/><circle cx="582.7" cy="1094.5" r="1.4" fill="#00B6EB"/><circle cx="591.5" cy="1101.3" r="1.4" fill="#00B6EB"/><circle cx="591.1" cy="1089.9" r="1.4" fill="#00B6EB"/><circle cx="599.7" cy="753.2" r="1.4" fill="#F8766D"/></g><g clip-path="url(#cf)"><circle cx="888.5" cy="219.6" r="2.5" fill="#D3D3D3"/><circle cx="1278.0" cy="288.7" r="2.5" fill="#D3D3D3"/><circle cx="925.6" cy="351.0" r="2.5" fill="#D3D3D3"/><circle cx="840.2" cy="358.1" r="2.5" fill="#A6BEA6"/><circle cx="891.7" cy="240.4" r="2.5" fill="#D3D3D3"/><circle cx="839.0" cy="391.8" r="2.5" fill="#D3D3D3"/><circle cx="1207.4" cy="298.0" r="2.5" fill="#FFA500"/><circle cx="900.8" cy="293.8" r="2.5" fill="#A6BEA6"/><circle cx="832.4" cy="368.5" r="2.5" fill="#A6BEA6"/><circle cx="1222.6" cy="246.3" r="2.5" fill="#D3D3D3"/><circle cx="920.8" cy="262.1" r="2.5" fill="#D3D3D3"/><circle cx="897.6" cy="240.3" r="2.5" fill="#D3D3D3"/><circle cx="1218.9" cy="299.2" r="2.5" fill="#FFA500"/><circle cx="895.9" cy="232.5" r="2.5" fill="#D3D3D3"/><circle cx="1092.5" cy="190.2" r="2.5" fill="#D3D3D3"/><circle cx="1156.0" cy="267.8" r="2.5" fill="#FFA500"/><circle cx="858.8" cy="338.6" r="2.5" fill="#D3D3D3"/><circle cx="1149.4" cy="266.4" r="2.5" fill="#FFA500"/><circle cx="1143.0" cy="258.5" r="2.5" fill="#FFA500"/><circle cx="1175.0" cy="284.2" r="2.5" fill="#FFA500"/><circle cx="1278.6" cy="257.0" r="2.5" fill="#DCC9A3"/><circle cx="1234.6" cy="301.3" r="2.5" fill="#D3D3D3"/><circle cx="968.0" cy="433.5" r="2.5" fill="#A6BEA6"/><circle cx="844.9" cy="359.8" r="2.5" fill="#D3D3D3"/><circle cx="1123.1" cy="163.8" r="2.5" fill="#FFA500"/><circle cx="1267.6" cy="214.8" r="2.5" fill="#DCC9A3"/><circle cx="851.1" cy="421.0" r="2.5" fill="#A6BEA6"/><circle cx="1142.3" cy="148.4" r="2.5" fill="#FFA500"/><circle cx="1262.1" cy="249.0" r="2.5" fill="#FFA500"/><circle cx="1247.5" cy="297.7" r="2.5" fill="#FFA500"/><circle cx="919.0" cy="230.3" r="2.5" fill="#D3D3D3"/><circle cx="936.6" cy="298.3" r="2.5" fill="#D3D3D3"/><circle cx="1111.9" cy="173.0" r="2.5" fill="#D3D3D3"/><circle cx="1281.3" cy="243.8" r="2.5" fill="#FFA500"/><circle cx="893.5" cy="409.0" r="2.5" fill="#A6BEA6"/><circle cx="889.2" cy="310.9" r="2.5" fill="#D3D3D3"/><circle cx="1265.0" cy="291.2" r="2.5" fill="#FFA500"/><circle cx="949.8" cy="256.1" r="2.5" fill="#D3D3D3"/><circle cx="1247.6" cy="294.1" r="2.5" fill="#FFA500"/><circle cx="894.7" cy="407.6" r="2.5" fill="#A6BEA6"/><circle cx="908.7" cy="325.1" r="2.5" fill="#D3D3D3"/><circle cx="1270.8" cy="262.4" r="2.5" fill="#FFA500"/><circle cx="903.3" cy="271.5" r="2.5" fill="#D3D3D3"/><circle cx="1160.1" cy="269.6" r="2.5" fill="#DCC9A3"/><circle cx="947.5" cy="230.9" r="2.5" fill="#D3D3D3"/><circle cx="880.6" cy="286.7" r="2.5" fill="#D3D3D3"/><circle cx="913.4" cy="301.2" r="2.5" fill="#A6BEA6"/><circle cx="872.2" cy="417.0" r="2.5" fill="#A6BEA6"/><circle cx="831.6" cy="340.1" r="2.5" fill="#A6BEA6"/><circle cx="942.2" cy="231.5" r="2.5" fill="#D3D3D3"/><circle cx="1253.9" cy="197.2" r="2.5" fill="#DCC9A3"/><circle cx="1102.0" cy="184.6" r="2.5" fill="#D3D3D3"/><circle cx="925.3" cy="414.1" r="2.5" fill="#A6BEA6"/><circle cx="1151.3" cy="148.2" r="2.5" fill="#DCC9A3"/><circle cx="950.2" cy="287.5" r="2.5" fill="#D3D3D3"/><circle cx="875.9" cy="421.1" r="2.5" fill="#D3D3D3"/><circle cx="1248.0" cy="186.4" r="2.5" fill="#DCC9A3"/><circle cx="984.6" cy="424.2" r="2.5" fill="#D3D3D3"/><circle cx="886.4" cy="229.2" r="2.5" fill="#A6BEA6"/><circle cx="947.4" cy="225.7" r="2.5" fill="#D3D3D3"/><circle cx="1198.2" cy="159.2" r="2.5" fill="#DCC9A3"/><circle cx="920.9" cy="224.6" r="2.5" fill="#D3D3D3"/><circle cx="1243.2" cy="297.4" r="2.5" fill="#DCC9A3"/><circle cx="1178.2" cy="279.4" r="2.5" fill="#FFA500"/><circle cx="997.5" cy="321.8" r="2.5" fill="#FFA500"/><circle cx="939.2" cy="231.7" r="2.5" fill="#D3D3D3"/><circle cx="1097.3" cy="168.3" r="2.5" fill="#FFA500"/><circle cx="1150.9" cy="269.7" r="2.5" fill="#FFA500"/><circle cx="851.5" cy="345.0" r="2.5" fill="#D3D3D3"/><circle cx="839.6" cy="325.5" r="2.5" fill="#A6BEA6"/><circle cx="890.0" cy="299.4" r="2.5" fill="#D3D3D3"/><circle cx="1197.4" cy="283.8" r="2.5" fill="#FFA500"/><circle cx="1270.1" cy="291.0" r="2.5" fill="#FFA500"/><circle cx="874.4" cy="358.0" r="2.5" fill="#D3D3D3"/><circle cx="894.3" cy="289.3" r="2.5" fill="#D3D3D3"/><circle cx="1100.8" cy="171.1" r="2.5" fill="#D3D3D3"/><circle cx="1139.6" cy="161.8" r="2.5" fill="#D3D3D3"/><circle cx="1282.2" cy="234.5" r="2.5" fill="#FFA500"/><circle cx="940.4" cy="237.5" r="2.5" fill="#D3D3D3"/><circle cx="870.0" cy="278.5" r="2.5" fill="#D3D3D3"/><circle cx="860.9" cy="307.6" r="2.5" fill="#A6BEA6"/><circle cx="838.1" cy="353.1" r="2.5" fill="#A6BEA6"/><circle cx="1251.0" cy="294.7" r="2.5" fill="#FFA500"/><circle cx="973.0" cy="315.9" r="2.5" fill="#D3D3D3"/><circle cx="1254.6" cy="190.4" r="2.5" fill="#DCC9A3"/><circle cx="932.2" cy="419.3" r="2.5" fill="#DCC9A3"/><circle cx="825.1" cy="333.9" r="2.5" fill="#A6BEA6"/><circle cx="830.1" cy="328.8" r="2.5" fill="#A6BEA6"/><circle cx="1154.5" cy="264.5" r="2.5" fill="#FFA500"/><circle cx="976.9" cy="432.0" r="2.5" fill="#A6BEA6"/><circle cx="918.3" cy="426.7" r="2.5" fill="#DCC9A3"/><circle cx="939.0" cy="434.5" r="2.5" fill="#A6BEA6"/><circle cx="1189.5" cy="293.9" r="2.5" fill="#FFA500"/><circle cx="1259.2" cy="247.8" r="2.5" fill="#FFA500"/><circle cx="943.8" cy="254.2" r="2.5" fill="#D3D3D3"/><circle cx="967.7" cy="410.3" r="2.5" fill="#D3D3D3"/><circle cx="1259.9" cy="251.5" r="2.5" fill="#DCC9A3"/><circle cx="1112.9" cy="181.6" r="2.5" fill="#FFA500"/><circle cx="946.6" cy="417.2" r="2.5" fill="#D3D3D3"/><circle cx="1278.1" cy="287.7" r="2.5" fill="#FFA500"/><circle cx="914.8" cy="285.4" r="2.5" fill="#D3D3D3"/><circle cx="832.4" cy="379.4" r="2.5" fill="#D3D3D3"/><circle cx="1284.3" cy="272.2" r="2.5" fill="#FFA500"/><circle cx="829.8" cy="383.6" r="2.5" fill="#A6BEA6"/><circle cx="1152.7" cy="264.3" r="2.5" fill="#D3D3D3"/><circle cx="893.8" cy="267.2" r="2.5" fill="#D3D3D3"/><circle cx="942.8" cy="252.7" r="2.5" fill="#D3D3D3"/><circle cx="850.3" cy="416.5" r="2.5" fill="#A6BEA6"/><circle cx="1258.3" cy="200.2" r="2.5" fill="#DCC9A3"/><circle cx="1265.4" cy="287.8" r="2.5" fill="#FFA500"/><circle cx="1253.4" cy="293.8" r="2.5" fill="#FFA500"/><circle cx="836.6" cy="321.7" r="2.5" fill="#A6BEA6"/><circle cx="873.7" cy="354.3" r="2.5" fill="#A6BEA6"/><circle cx="1274.1" cy="202.6" r="2.5" fill="#FFA500"/><circle cx="963.7" cy="411.1" r="2.5" fill="#A6BEA6"/><circle cx="962.9" cy="422.4" r="2.5" fill="#A6BEA6"/><circle cx="843.9" cy="376.6" r="2.5" fill="#A6BEA6"/><circle cx="1176.3" cy="286.6" r="2.5" fill="#DCC9A3"/><circle cx="905.7" cy="238.0" r="2.5" fill="#D3D3D3"/><circle cx="1258.6" cy="273.4" r="2.5" fill="#FFA500"/><circle cx="1259.7" cy="275.5" r="2.5" fill="#FFA500"/><circle cx="900.4" cy="240.5" r="2.5" fill="#D3D3D3"/><circle cx="918.0" cy="368.4" r="2.5" fill="#D3D3D3"/><circle cx="859.3" cy="355.3" r="2.5" fill="#D3D3D3"/><circle cx="1190.7" cy="164.1" r="2.5" fill="#DCC9A3"/><circle cx="1246.7" cy="185.7" r="2.5" fill="#DCC9A3"/><circle cx="882.9" cy="303.1" r="2.5" fill="#D3D3D3"/><circle cx="975.2" cy="419.2" r="2.5" fill="#A6BEA6"/><circle cx="844.2" cy="345.8" r="2.5" fill="#D3D3D3"/><circle cx="930.4" cy="429.6" r="2.5" fill="#A6BEA6"/><circle cx="983.6" cy="423.2" r="2.5" fill="#A6BEA6"/><circle cx="888.2" cy="358.6" r="2.5" fill="#D3D3D3"/><circle cx="1190.4" cy="291.2" r="2.5" fill="#FFA500"/><circle cx="843.7" cy="341.3" r="2.5" fill="#A6BEA6"/><circle cx="1270.6" cy="222.6" r="2.5" fill="#DCC9A3"/><circle cx="1220.2" cy="299.3" r="2.5" fill="#FFA500"/><circle cx="828.1" cy="333.9" r="2.5" fill="#A6BEA6"/><circle cx="1268.6" cy="215.4" r="2.5" fill="#DCC9A3"/><circle cx="932.2" cy="426.9" r="2.5" fill="#A6BEA6"/><circle cx="953.1" cy="239.0" r="2.5" fill="#D3D3D3"/><circle cx="1214.4" cy="292.8" r="2.5" fill="#FFA500"/><circle cx="1266.6" cy="268.9" r="2.5" fill="#FFA500"/><circle cx="865.9" cy="355.8" r="2.5" fill="#D3D3D3"/><circle cx="882.8" cy="218.0" r="2.5" fill="#D3D3D3"/><circle cx="1103.7" cy="171.4" r="2.5" fill="#D3D3D3"/><circle cx="920.8" cy="295.8" r="2.5" fill="#D3D3D3"/><circle cx="1258.1" cy="212.2" r="2.5" fill="#FFA500"/><circle cx="1269.1" cy="203.3" r="2.5" fill="#DCC9A3"/><circle cx="877.3" cy="279.9" r="2.5" fill="#A6BEA6"/><circle cx="926.7" cy="427.4" r="2.5" fill="#A6BEA6"/><circle cx="1162.7" cy="263.8" r="2.5" fill="#FFA500"/><circle cx="1235.8" cy="300.8" r="2.5" fill="#FFA500"/><circle cx="961.8" cy="397.4" r="2.5" fill="#A6BEA6"/><circle cx="1276.6" cy="200.6" r="2.5" fill="#DCC9A3"/><circle cx="855.1" cy="343.3" r="2.5" fill="#A6BEA6"/><circle cx="958.8" cy="436.8" r="2.5" fill="#A6BEA6"/><circle cx="1265.6" cy="240.0" r="2.5" fill="#FFA500"/><circle cx="925.2" cy="416.5" r="2.5" fill="#D3D3D3"/><circle cx="1262.7" cy="285.5" r="2.5" fill="#FFA500"/><circle cx="949.5" cy="431.5" r="2.5" fill="#D3D3D3"/><circle cx="1096.9" cy="177.7" r="2.5" fill="#D3D3D3"/><circle cx="902.5" cy="314.9" r="2.5" fill="#D3D3D3"/><circle cx="912.7" cy="239.2" r="2.5" fill="#D3D3D3"/><circle cx="1156.2" cy="149.0" r="2.5" fill="#D3D3D3"/><circle cx="924.5" cy="260.5" r="2.5" fill="#D3D3D3"/><circle cx="895.1" cy="240.8" r="2.5" fill="#D3D3D3"/><circle cx="937.6" cy="432.1" r="2.5" fill="#A6BEA6"/><circle cx="1250.9" cy="188.4" r="2.5" fill="#DCC9A3"/><circle cx="1168.4" cy="279.5" r="2.5" fill="#FFA500"/><circle cx="1127.3" cy="163.0" r="2.5" fill="#D3D3D3"/><circle cx="842.6" cy="327.6" r="2.5" fill="#A6BEA6"/><circle cx="970.9" cy="427.5" r="2.5" fill="#DCC9A3"/><circle cx="874.5" cy="305.5" r="2.5" fill="#D3D3D3"/><circle cx="1191.6" cy="158.7" r="2.5" fill="#FFA500"/><circle cx="911.8" cy="287.1" r="2.5" fill="#D3D3D3"/><circle cx="1089.3" cy="181.3" r="2.5" fill="#FFA500"/><circle cx="822.2" cy="360.4" r="2.5" fill="#A6BEA6"/><circle cx="966.6" cy="417.8" r="2.5" fill="#A6BEA6"/><circle cx="827.6" cy="383.6" r="2.5" fill="#A6BEA6"/><circle cx="871.4" cy="339.5" r="2.5" fill="#A6BEA6"/><circle cx="1268.6" cy="267.7" r="2.5" fill="#FFA500"/><circle cx="968.9" cy="428.1" r="2.5" fill="#A6BEA6"/><circle cx="871.5" cy="281.7" r="2.5" fill="#D3D3D3"/><circle cx="921.3" cy="356.9" r="2.5" fill="#D3D3D3"/><circle cx="1261.2" cy="228.0" r="2.5" fill="#FFA500"/><circle cx="955.4" cy="422.5" r="2.5" fill="#A6BEA6"/><circle cx="1086.6" cy="185.6" r="2.5" fill="#FFA500"/><circle cx="933.3" cy="259.4" r="2.5" fill="#D3D3D3"/><circle cx="917.7" cy="349.8" r="2.5" fill="#D3D3D3"/><circle cx="822.6" cy="345.5" r="2.5" fill="#D3D3D3"/><circle cx="894.8" cy="225.9" r="2.5" fill="#D3D3D3"/><circle cx="1142.9" cy="251.2" r="2.5" fill="#FFA500"/><circle cx="911.3" cy="235.0" r="2.5" fill="#D3D3D3"/><circle cx="1102.4" cy="171.0" r="2.5" fill="#DCC9A3"/><circle cx="907.3" cy="293.9" r="2.5" fill="#D3D3D3"/><circle cx="821.6" cy="341.5" r="2.5" fill="#A6BEA6"/><circle cx="1248.2" cy="291.4" r="2.5" fill="#FFA500"/><circle cx="932.1" cy="286.9" r="2.5" fill="#A6BEA6"/><circle cx="1275.4" cy="277.1" r="2.5" fill="#FFA500"/><circle cx="1124.0" cy="160.3" r="2.5" fill="#DCC9A3"/><circle cx="822.5" cy="348.6" r="2.5" fill="#A6BEA6"/><circle cx="990.0" cy="322.8" r="2.5" fill="#DCC9A3"/><circle cx="896.3" cy="244.9" r="2.5" fill="#D3D3D3"/><circle cx="903.3" cy="296.7" r="2.5" fill="#D3D3D3"/><circle cx="1270.2" cy="288.6" r="2.5" fill="#FFA500"/><circle cx="905.0" cy="269.4" r="2.5" fill="#D3D3D3"/><circle cx="1284.3" cy="235.8" r="2.5" fill="#FFA500"/><circle cx="866.6" cy="361.4" r="2.5" fill="#D3D3D3"/><circle cx="1285.0" cy="264.5" r="2.5" fill="#FFA500"/><circle cx="828.5" cy="388.1" r="2.5" fill="#D3D3D3"/><circle cx="1135.1" cy="154.9" r="2.5" fill="#D3D3D3"/><circle cx="923.8" cy="233.7" r="2.5" fill="#D3D3D3"/><circle cx="918.2" cy="359.3" r="2.5" fill="#D3D3D3"/><circle cx="962.8" cy="432.9" r="2.5" fill="#A6BEA6"/><circle cx="844.0" cy="392.5" r="2.5" fill="#A6BEA6"/><circle cx="943.8" cy="245.3" r="2.5" fill="#D3D3D3"/><circle cx="1273.7" cy="271.6" r="2.5" fill="#D3D3D3"/><circle cx="1163.0" cy="158.0" r="2.5" fill="#D3D3D3"/><circle cx="888.9" cy="270.0" r="2.5" fill="#D3D3D3"/><circle cx="862.6" cy="324.0" r="2.5" fill="#D3D3D3"/><circle cx="1270.5" cy="286.0" r="2.5" fill="#FFA500"/><circle cx="1183.1" cy="289.4" r="2.5" fill="#FFA500"/><circle cx="954.5" cy="244.8" r="2.5" fill="#D3D3D3"/><circle cx="875.8" cy="340.3" r="2.5" fill="#D3D3D3"/><circle cx="1147.0" cy="256.8" r="2.5" fill="#FFA500"/><circle cx="1256.6" cy="202.0" r="2.5" fill="#DCC9A3"/><circle cx="908.4" cy="412.4" r="2.5" fill="#A6BEA6"/><circle cx="897.7" cy="213.5" r="2.5" fill="#D3D3D3"/><circle cx="1091.6" cy="183.3" r="2.5" fill="#FFA500"/><circle cx="943.5" cy="232.8" r="2.5" fill="#D3D3D3"/><circle cx="833.4" cy="364.6" r="2.5" fill="#D3D3D3"/><circle cx="860.6" cy="423.6" r="2.5" fill="#D3D3D3"/><circle cx="966.9" cy="429.7" r="2.5" fill="#D3D3D3"/><circle cx="1207.5" cy="250.9" r="2.5" fill="#DCC9A3"/><circle cx="955.1" cy="436.7" r="2.5" fill="#A6BEA6"/><circle cx="896.8" cy="290.2" r="2.5" fill="#D3D3D3"/><circle cx="990.0" cy="323.7" r="2.5" fill="#D3D3D3"/><circle cx="913.0" cy="380.5" r="2.5" fill="#D3D3D3"/><circle cx="1141.3" cy="267.7" r="2.5" fill="#DCC9A3"/><circle cx="860.1" cy="319.4" r="2.5" fill="#D3D3D3"/><circle cx="915.8" cy="423.8" r="2.5" fill="#A6BEA6"/><circle cx="1112.9" cy="163.0" r="2.5" fill="#DCC9A3"/><circle cx="900.6" cy="228.5" r="2.5" fill="#D3D3D3"/><circle cx="930.3" cy="292.3" r="2.5" fill="#A6BEA6"/><circle cx="930.8" cy="235.0" r="2.5" fill="#D3D3D3"/><circle cx="909.9" cy="240.5" r="2.5" fill="#D3D3D3"/><circle cx="936.7" cy="231.2" r="2.5" fill="#D3D3D3"/><circle cx="899.8" cy="223.7" r="2.5" fill="#D3D3D3"/><circle cx="958.0" cy="414.5" r="2.5" fill="#D3D3D3"/><circle cx="1156.4" cy="155.9" r="2.5" fill="#FFA500"/><circle cx="1160.9" cy="261.4" r="2.5" fill="#FFA500"/><circle cx="1264.1" cy="244.3" r="2.5" fill="#DCC9A3"/><circle cx="1217.7" cy="306.4" r="2.5" fill="#DCC9A3"/><circle cx="922.6" cy="282.2" r="2.5" fill="#D3D3D3"/><circle cx="871.9" cy="270.4" r="2.5" fill="#D3D3D3"/><circle cx="1184.3" cy="167.8" r="2.5" fill="#DCC9A3"/><circle cx="926.5" cy="314.0" r="2.5" fill="#D3D3D3"/><circle cx="1153.8" cy="257.3" r="2.5" fill="#FFA500"/><circle cx="888.4" cy="413.0" r="2.5" fill="#A6BEA6"/><circle cx="951.1" cy="438.1" r="2.5" fill="#A6BEA6"/><circle cx="849.4" cy="323.4" r="2.5" fill="#A6BEA6"/><circle cx="1269.9" cy="267.6" r="2.5" fill="#FFA500"/><circle cx="1213.8" cy="306.5" r="2.5" fill="#FFA500"/><circle cx="961.9" cy="309.9" r="2.5" fill="#D3D3D3"/><circle cx="850.5" cy="313.8" r="2.5" fill="#D3D3D3"/><circle cx="1135.8" cy="155.9" r="2.5" fill="#D3D3D3"/><circle cx="878.8" cy="291.5" r="2.5" fill="#D3D3D3"/><circle cx="861.8" cy="424.3" r="2.5" fill="#A6BEA6"/><circle cx="1101.6" cy="172.8" r="2.5" fill="#FFA500"/><circle cx="1278.3" cy="286.1" r="2.5" fill="#FFA500"/><circle cx="936.7" cy="260.5" r="2.5" fill="#D3D3D3"/><circle cx="1257.8" cy="276.7" r="2.5" fill="#FFA500"/><circle cx="1275.9" cy="217.9" r="2.5" fill="#DCC9A3"/><circle cx="1280.6" cy="283.3" r="2.5" fill="#FFA500"/><circle cx="919.8" cy="349.5" r="2.5" fill="#D3D3D3"/><circle cx="881.7" cy="249.3" r="2.5" fill="#D3D3D3"/><circle cx="963.5" cy="401.9" r="2.5" fill="#DCC9A3"/><circle cx="1109.9" cy="165.2" r="2.5" fill="#D3D3D3"/><circle cx="943.2" cy="440.0" r="2.5" fill="#D3D3D3"/><circle cx="970.1" cy="422.9" r="2.5" fill="#D3D3D3"/><circle cx="884.1" cy="304.6" r="2.5" fill="#D3D3D3"/><circle cx="945.1" cy="261.5" r="2.5" fill="#D3D3D3"/><circle cx="865.3" cy="361.9" r="2.5" fill="#A6BEA6"/><circle cx="859.5" cy="429.3" r="2.5" fill="#A6BEA6"/><circle cx="1208.4" cy="171.4" r="2.5" fill="#DCC9A3"/><circle cx="1292.5" cy="248.5" r="2.5" fill="#FFA500"/><circle cx="1193.6" cy="299.3" r="2.5" fill="#FFA500"/><circle cx="883.5" cy="410.8" r="2.5" fill="#D3D3D3"/><circle cx="819.7" cy="368.6" r="2.5" fill="#D3D3D3"/><circle cx="978.8" cy="424.2" r="2.5" fill="#A6BEA6"/><circle cx="925.7" cy="288.9" r="2.5" fill="#D3D3D3"/><circle cx="1285.5" cy="253.2" r="2.5" fill="#FFA500"/><circle cx="893.9" cy="234.9" r="2.5" fill="#D3D3D3"/><circle cx="907.5" cy="295.3" r="2.5" fill="#D3D3D3"/><circle cx="960.3" cy="392.3" r="2.5" fill="#A6BEA6"/><circle cx="948.1" cy="431.7" r="2.5" fill="#A6BEA6"/><circle cx="893.8" cy="319.5" r="2.5" fill="#D3D3D3"/><circle cx="881.9" cy="262.3" r="2.5" fill="#D3D3D3"/><circle cx="933.6" cy="429.5" r="2.5" fill="#A6BEA6"/><circle cx="1091.0" cy="186.8" r="2.5" fill="#DCC9A3"/><circle cx="1203.7" cy="167.9" r="2.5" fill="#DCC9A3"/><circle cx="830.7" cy="373.5" r="2.5" fill="#D3D3D3"/><circle cx="1185.2" cy="289.2" r="2.5" fill="#FFA500"/><circle cx="896.4" cy="228.9" r="2.5" fill="#D3D3D3"/><circle cx="914.9" cy="313.2" r="2.5" fill="#A6BEA6"/><circle cx="870.6" cy="346.5" r="2.5" fill="#D3D3D3"/><circle cx="920.4" cy="414.5" r="2.5" fill="#D3D3D3"/><circle cx="933.9" cy="273.9" r="2.5" fill="#D3D3D3"/><circle cx="1258.0" cy="210.9" r="2.5" fill="#FFA500"/><circle cx="1110.7" cy="185.7" r="2.5" fill="#DCC9A3"/><circle cx="869.7" cy="275.2" r="2.5" fill="#D3D3D3"/><circle cx="940.9" cy="428.5" r="2.5" fill="#A6BEA6"/><circle cx="1247.8" cy="290.5" r="2.5" fill="#D3D3D3"/><circle cx="1148.8" cy="158.4" r="2.5" fill="#D3D3D3"/><circle cx="923.8" cy="286.1" r="2.5" fill="#D3D3D3"/><circle cx="872.8" cy="271.1" r="2.5" fill="#D3D3D3"/><circle cx="967.1" cy="438.3" r="2.5" fill="#A6BEA6"/><circle cx="1269.6" cy="200.0" r="2.5" fill="#D3D3D3"/><circle cx="1189.6" cy="161.1" r="2.5" fill="#DCC9A3"/><circle cx="1164.3" cy="265.8" r="2.5" fill="#FFA500"/><circle cx="862.3" cy="308.5" r="2.5" fill="#D3D3D3"/><circle cx="1179.9" cy="280.3" r="2.5" fill="#DCC9A3"/><circle cx="1155.9" cy="266.3" r="2.5" fill="#FFA500"/><circle cx="915.7" cy="222.1" r="2.5" fill="#D3D3D3"/><circle cx="946.8" cy="445.7" r="2.5" fill="#C6C69A"/><circle cx="1259.5" cy="269.2" r="2.5" fill="#FFA500"/><circle cx="963.4" cy="419.4" r="2.5" fill="#A6BEA6"/><circle cx="883.9" cy="326.9" r="2.5" fill="#A6BEA6"/><circle cx="1141.8" cy="263.4" r="2.5" fill="#FFA500"/><circle cx="860.2" cy="299.6" r="2.5" fill="#A6BEA6"/><circle cx="1270.6" cy="285.2" r="2.5" fill="#FFA500"/><circle cx="1207.7" cy="171.0" r="2.5" fill="#DCC9A3"/><circle cx="1262.6" cy="277.3" r="2.5" fill="#FFA500"/><circle cx="839.9" cy="324.7" r="2.5" fill="#D3D3D3"/><circle cx="885.8" cy="339.7" r="2.5" fill="#A6BEA6"/><circle cx="1190.1" cy="289.7" r="2.5" fill="#DCC9A3"/><circle cx="898.0" cy="418.4" r="2.5" fill="#DCC9A3"/><circle cx="1263.4" cy="261.0" r="2.5" fill="#FFA500"/><circle cx="881.6" cy="326.2" r="2.5" fill="#A6BEA6"/><circle cx="905.7" cy="207.5" r="2.5" fill="#D3D3D3"/><circle cx="976.7" cy="427.1" r="2.5" fill="#A6BEA6"/><circle cx="829.0" cy="361.4" r="2.5" fill="#D3D3D3"/><circle cx="971.4" cy="316.9" r="2.5" fill="#D3D3D3"/><circle cx="975.3" cy="427.9" r="2.5" fill="#A6BEA6"/><circle cx="932.3" cy="239.3" r="2.5" fill="#D3D3D3"/><circle cx="906.2" cy="302.8" r="2.5" fill="#D3D3D3"/><circle cx="883.8" cy="219.8" r="2.5" fill="#D3D3D3"/><circle cx="843.2" cy="367.6" r="2.5" fill="#A6BEA6"/><circle cx="1218.7" cy="290.5" r="2.5" fill="#D3D3D3"/><circle cx="927.7" cy="302.2" r="2.5" fill="#D3D3D3"/><circle cx="865.1" cy="354.3" r="2.5" fill="#D3D3D3"/><circle cx="1167.0" cy="154.8" r="2.5" fill="#D3D3D3"/><circle cx="1196.7" cy="165.1" r="2.5" fill="#D3D3D3"/><circle cx="872.1" cy="419.7" r="2.5" fill="#D3D3D3"/><circle cx="1257.3" cy="211.5" r="2.5" fill="#FFA500"/><circle cx="948.4" cy="254.2" r="2.5" fill="#D3D3D3"/><circle cx="913.2" cy="287.1" r="2.5" fill="#A6BEA6"/><circle cx="1182.8" cy="162.0" r="2.5" fill="#DCC9A3"/><circle cx="1257.4" cy="203.7" r="2.5" fill="#DCC9A3"/><circle cx="928.6" cy="437.2" r="2.5" fill="#A6BEA6"/><circle cx="1207.7" cy="296.7" r="2.5" fill="#FFA500"/><circle cx="912.9" cy="315.1" r="2.5" fill="#D3D3D3"/><circle cx="1230.9" cy="293.0" r="2.5" fill="#FFA500"/><circle cx="970.7" cy="318.8" r="2.5" fill="#D3D3D3"/><circle cx="1157.8" cy="265.6" r="2.5" fill="#FFA500"/><circle cx="1265.7" cy="287.2" r="2.5" fill="#FFA500"/><circle cx="905.1" cy="245.8" r="2.5" fill="#D3D3D3"/><circle cx="1261.1" cy="290.1" r="2.5" fill="#FFA500"/><circle cx="919.6" cy="247.4" r="2.5" fill="#A6BEA6"/><circle cx="969.0" cy="427.2" r="2.5" fill="#A6BEA6"/><circle cx="903.0" cy="229.3" r="2.5" fill="#D3D3D3"/><circle cx="911.9" cy="294.0" r="2.5" fill="#A6BEA6"/><circle cx="1203.9" cy="162.1" r="2.5" fill="#DCC9A3"/><circle cx="1184.2" cy="287.0" r="2.5" fill="#FFA500"/><circle cx="1231.3" cy="293.4" r="2.5" fill="#FFA500"/><circle cx="862.8" cy="288.9" r="2.5" fill="#D3D3D3"/><circle cx="1206.7" cy="170.2" r="2.5" fill="#DCC9A3"/><circle cx="979.6" cy="430.3" r="2.5" fill="#A6BEA6"/><circle cx="1259.9" cy="253.2" r="2.5" fill="#FFA500"/><circle cx="1165.6" cy="267.5" r="2.5" fill="#D3D3D3"/><circle cx="928.7" cy="424.5" r="2.5" fill="#A6BEA6"/><circle cx="933.1" cy="289.1" r="2.5" fill="#D3D3D3"/><circle cx="1277.1" cy="238.3" r="2.5" fill="#FFA500"/><circle cx="893.9" cy="410.6" r="2.5" fill="#A6BEA6"/><circle cx="973.3" cy="433.6" r="2.5" fill="#A6BEA6"/><circle cx="942.6" cy="430.9" r="2.5" fill="#A6BEA6"/><circle cx="971.6" cy="427.5" r="2.5" fill="#D3D3D3"/><circle cx="930.0" cy="230.7" r="2.5" fill="#D3D3D3"/><circle cx="1252.5" cy="277.0" r="2.5" fill="#FFA500"/><circle cx="1212.1" cy="296.2" r="2.5" fill="#FFA500"/><circle cx="974.6" cy="438.1" r="2.5" fill="#A6BEA6"/><circle cx="972.2" cy="422.1" r="2.5" fill="#A6BEA6"/><circle cx="1212.4" cy="267.5" r="2.5" fill="#DCC9A3"/><circle cx="845.5" cy="414.1" r="2.5" fill="#A6BEA6"/><circle cx="886.2" cy="260.7" r="2.5" fill="#D3D3D3"/><circle cx="1251.5" cy="296.3" r="2.5" fill="#FFA500"/><circle cx="1274.5" cy="221.0" r="2.5" fill="#DCC9A3"/><circle cx="883.3" cy="420.8" r="2.5" fill="#A6BEA6"/><circle cx="914.1" cy="225.1" r="2.5" fill="#D3D3D3"/><circle cx="1249.6" cy="189.0" r="2.5" fill="#FFA500"/><circle cx="1269.8" cy="280.8" r="2.5" fill="#FFA500"/><circle cx="1190.1" cy="294.1" r="2.5" fill="#FFA500"/><circle cx="890.4" cy="251.1" r="2.5" fill="#D3D3D3"/><circle cx="922.2" cy="424.1" r="2.5" fill="#A6BEA6"/><circle cx="1192.0" cy="166.4" r="2.5" fill="#DCC9A3"/><circle cx="950.9" cy="252.3" r="2.5" fill="#A6BEA6"/><circle cx="912.9" cy="324.7" r="2.5" fill="#D3D3D3"/><circle cx="1163.9" cy="261.4" r="2.5" fill="#FFA500"/><circle cx="886.7" cy="361.5" r="2.5" fill="#D3D3D3"/><circle cx="1208.0" cy="251.9" r="2.5" fill="#FFA500"/><circle cx="921.7" cy="221.4" r="2.5" fill="#D3D3D3"/><circle cx="832.2" cy="378.6" r="2.5" fill="#A6BEA6"/><circle cx="1127.7" cy="157.9" r="2.5" fill="#DCC9A3"/><circle cx="911.1" cy="267.1" r="2.5" fill="#A6BEA6"/><circle cx="858.1" cy="338.0" r="2.5" fill="#A6BEA6"/><circle cx="829.5" cy="366.1" r="2.5" fill="#A6BEA6"/><circle cx="897.6" cy="218.2" r="2.5" fill="#D3D3D3"/><circle cx="853.3" cy="293.2" r="2.5" fill="#A6BEA6"/><circle cx="936.0" cy="276.9" r="2.5" fill="#D3D3D3"/><circle cx="833.3" cy="323.1" r="2.5" fill="#D3D3D3"/><circle cx="1267.7" cy="268.1" r="2.5" fill="#FFA500"/><circle cx="1151.9" cy="255.6" r="2.5" fill="#FFA500"/><circle cx="1247.4" cy="254.4" r="2.5" fill="#D3D3D3"/><circle cx="1133.2" cy="160.6" r="2.5" fill="#FFA500"/><circle cx="845.9" cy="365.3" r="2.5" fill="#D3D3D3"/><circle cx="1285.8" cy="239.0" r="2.5" fill="#D3D3D3"/><circle cx="903.7" cy="277.1" r="2.5" fill="#D3D3D3"/><circle cx="891.9" cy="331.6" r="2.5" fill="#D3D3D3"/><circle cx="820.6" cy="369.6" r="2.5" fill="#D3D3D3"/><circle cx="1273.2" cy="247.7" r="2.5" fill="#FFA500"/><circle cx="980.1" cy="429.3" r="2.5" fill="#A6BEA6"/><circle cx="914.5" cy="395.1" r="2.5" fill="#A6BEA6"/><circle cx="925.1" cy="305.0" r="2.5" fill="#A6BEA6"/><circle cx="878.2" cy="321.6" r="2.5" fill="#A6BEA6"/><circle cx="944.1" cy="290.2" r="2.5" fill="#D3D3D3"/><circle cx="1226.7" cy="263.6" r="2.5" fill="#DCC9A3"/><circle cx="880.4" cy="228.5" r="2.5" fill="#D3D3D3"/><circle cx="889.0" cy="252.5" r="2.5" fill="#D3D3D3"/><circle cx="889.7" cy="246.2" r="2.5" fill="#D3D3D3"/><circle cx="939.4" cy="443.3" r="2.5" fill="#D3D3D3"/><circle cx="906.5" cy="311.9" r="2.5" fill="#D3D3D3"/><circle cx="1215.6" cy="244.6" r="2.5" fill="#FFA500"/><circle cx="1216.1" cy="296.9" r="2.5" fill="#FFA500"/><circle cx="870.4" cy="352.2" r="2.5" fill="#D3D3D3"/><circle cx="1281.2" cy="274.1" r="2.5" fill="#FFA500"/><circle cx="864.8" cy="288.3" r="2.5" fill="#D3D3D3"/><circle cx="960.9" cy="434.2" r="2.5" fill="#DCC9A3"/><circle cx="848.2" cy="316.5" r="2.5" fill="#A6BEA6"/><circle cx="928.7" cy="417.2" r="2.5" fill="#D3D3D3"/><circle cx="854.3" cy="418.7" r="2.5" fill="#A6BEA6"/><circle cx="1141.3" cy="154.7" r="2.5" fill="#DCC9A3"/><circle cx="929.3" cy="300.6" r="2.5" fill="#D3D3D3"/><circle cx="853.4" cy="412.9" r="2.5" fill="#A6BEA6"/><circle cx="1246.7" cy="293.2" r="2.5" fill="#FFA500"/><circle cx="1273.0" cy="203.2" r="2.5" fill="#DCC9A3"/><circle cx="943.0" cy="261.1" r="2.5" fill="#D3D3D3"/><circle cx="944.5" cy="441.5" r="2.5" fill="#A6BEA6"/><circle cx="968.9" cy="433.1" r="2.5" fill="#A6BEA6"/><circle cx="961.3" cy="432.3" r="2.5" fill="#A6BEA6"/><circle cx="927.6" cy="428.8" r="2.5" fill="#A6BEA6"/><circle cx="900.3" cy="292.8" r="2.5" fill="#D3D3D3"/><circle cx="834.0" cy="340.1" r="2.5" fill="#D3D3D3"/><circle cx="1165.7" cy="159.7" r="2.5" fill="#FFA500"/><circle cx="949.1" cy="429.0" r="2.5" fill="#A6BEA6"/><circle cx="1153.7" cy="271.2" r="2.5" fill="#FFA500"/><circle cx="907.6" cy="230.0" r="2.5" fill="#D3D3D3"/><circle cx="966.0" cy="424.0" r="2.5" fill="#D3D3D3"/><circle cx="824.3" cy="359.7" r="2.5" fill="#A6BEA6"/><circle cx="857.4" cy="313.5" r="2.5" fill="#D3D3D3"/><circle cx="1193.9" cy="287.1" r="2.5" fill="#FFA500"/><circle cx="836.1" cy="386.2" r="2.5" fill="#A6BEA6"/><circle cx="1139.2" cy="162.0" r="2.5" fill="#DCC9A3"/><circle cx="822.7" cy="344.5" r="2.5" fill="#D3D3D3"/><circle cx="891.7" cy="262.6" r="2.5" fill="#D3D3D3"/><circle cx="853.7" cy="326.1" r="2.5" fill="#A6BEA6"/><circle cx="1221.0" cy="292.5" r="2.5" fill="#FFA500"/><circle cx="1142.1" cy="155.0" r="2.5" fill="#D3D3D3"/><circle cx="1090.8" cy="174.8" r="2.5" fill="#DCC9A3"/><circle cx="1266.6" cy="211.1" r="2.5" fill="#DCC9A3"/><circle cx="946.6" cy="433.5" r="2.5" fill="#A6BEA6"/><circle cx="918.4" cy="430.3" r="2.5" fill="#A6BEA6"/><circle cx="1253.3" cy="289.9" r="2.5" fill="#FFA500"/><circle cx="1131.2" cy="158.2" r="2.5" fill="#D3D3D3"/><circle cx="972.6" cy="431.6" r="2.5" fill="#A6BEA6"/><circle cx="940.2" cy="226.9" r="2.5" fill="#D3D3D3"/><circle cx="1270.6" cy="204.5" r="2.5" fill="#DCC9A3"/><circle cx="1271.1" cy="257.4" r="2.5" fill="#FFA500"/><circle cx="981.3" cy="417.5" r="2.5" fill="#A6BEA6"/><circle cx="840.5" cy="378.2" r="2.5" fill="#A6BEA6"/><circle cx="1214.0" cy="173.4" r="2.5" fill="#DCC9A3"/><circle cx="1111.6" cy="185.8" r="2.5" fill="#D3D3D3"/><circle cx="942.2" cy="251.1" r="2.5" fill="#D3D3D3"/><circle cx="1225.7" cy="290.9" r="2.5" fill="#FFA500"/><circle cx="952.5" cy="416.1" r="2.5" fill="#A6BEA6"/><circle cx="840.6" cy="392.2" r="2.5" fill="#D3D3D3"/><circle cx="874.8" cy="309.8" r="2.5" fill="#D3D3D3"/><circle cx="967.1" cy="425.7" r="2.5" fill="#DCC9A3"/><circle cx="938.9" cy="245.2" r="2.5" fill="#D3D3D3"/><circle cx="1095.6" cy="192.6" r="2.5" fill="#D3D3D3"/><circle cx="920.3" cy="352.8" r="2.5" fill="#D3D3D3"/><circle cx="1263.7" cy="197.4" r="2.5" fill="#DCC9A3"/><circle cx="1176.0" cy="155.8" r="2.5" fill="#D3D3D3"/><circle cx="905.3" cy="285.9" r="2.5" fill="#D3D3D3"/><circle cx="1094.7" cy="191.8" r="2.5" fill="#DCC9A3"/><circle cx="1229.8" cy="301.7" r="2.5" fill="#D3D3D3"/><circle cx="918.9" cy="219.2" r="2.5" fill="#A6BEA6"/><circle cx="1232.9" cy="242.4" r="2.5" fill="#D3D3D3"/><circle cx="1194.6" cy="291.2" r="2.5" fill="#FFA500"/><circle cx="914.5" cy="390.3" r="2.5" fill="#D3D3D3"/><circle cx="901.0" cy="420.2" r="2.5" fill="#A6BEA6"/><circle cx="979.7" cy="420.7" r="2.5" fill="#A6BEA6"/><circle cx="849.4" cy="336.5" r="2.5" fill="#A6BEA6"/><circle cx="940.6" cy="226.5" r="2.5" fill="#D3D3D3"/><circle cx="1279.4" cy="279.9" r="2.5" fill="#FFA500"/><circle cx="957.0" cy="242.7" r="2.5" fill="#A6BEA6"/><circle cx="853.4" cy="309.0" r="2.5" fill="#A6BEA6"/><circle cx="1139.6" cy="158.0" r="2.5" fill="#D3D3D3"/><circle cx="858.6" cy="420.8" r="2.5" fill="#D3D3D3"/><circle cx="975.3" cy="425.6" r="2.5" fill="#A6BEA6"/><circle cx="831.6" cy="326.4" r="2.5" fill="#D3D3D3"/><circle cx="1167.0" cy="276.9" r="2.5" fill="#FFA500"/><circle cx="1147.0" cy="257.7" r="2.5" fill="#DCC9A3"/><circle cx="880.5" cy="303.9" r="2.5" fill="#D3D3D3"/><circle cx="963.6" cy="398.8" r="2.5" fill="#D3D3D3"/><circle cx="1205.4" cy="169.5" r="2.5" fill="#DCC9A3"/><circle cx="1111.7" cy="165.6" r="2.5" fill="#D3D3D3"/><circle cx="869.1" cy="349.4" r="2.5" fill="#D3D3D3"/><circle cx="868.2" cy="328.1" r="2.5" fill="#A6BEA6"/><circle cx="898.5" cy="292.3" r="2.5" fill="#A6BEA6"/><circle cx="1266.2" cy="209.4" r="2.5" fill="#FFA500"/><circle cx="956.5" cy="397.2" r="2.5" fill="#A6BEA6"/><circle cx="895.5" cy="245.3" r="2.5" fill="#D3D3D3"/><circle cx="972.2" cy="430.2" r="2.5" fill="#DCC9A3"/><circle cx="1259.8" cy="201.2" r="2.5" fill="#DCC9A3"/><circle cx="1278.4" cy="243.2" r="2.5" fill="#FFA500"/><circle cx="883.6" cy="225.6" r="2.5" fill="#D3D3D3"/><circle cx="874.3" cy="272.1" r="2.5" fill="#D3D3D3"/><circle cx="1211.2" cy="306.0" r="2.5" fill="#FFA500"/><circle cx="1289.2" cy="249.0" r="2.5" fill="#FFA500"/><circle cx="1195.5" cy="158.8" r="2.5" fill="#DCC9A3"/><circle cx="1170.4" cy="160.6" r="2.5" fill="#FFA500"/><circle cx="1254.6" cy="292.0" r="2.5" fill="#FFA500"/><circle cx="1172.6" cy="162.8" r="2.5" fill="#D3D3D3"/><circle cx="1267.7" cy="189.4" r="2.5" fill="#DCC9A3"/><circle cx="945.8" cy="443.7" r="2.5" fill="#A6BEA6"/><circle cx="1180.5" cy="160.3" r="2.5" fill="#FFA500"/><circle cx="884.4" cy="292.9" r="2.5" fill="#D3D3D3"/><circle cx="889.1" cy="236.5" r="2.5" fill="#D3D3D3"/><circle cx="891.7" cy="216.4" r="2.5" fill="#D3D3D3"/><circle cx="874.7" cy="417.3" r="2.5" fill="#A6BEA6"/><circle cx="878.4" cy="282.2" r="2.5" fill="#D3D3D3"/><circle cx="929.1" cy="259.6" r="2.5" fill="#D3D3D3"/><circle cx="1140.9" cy="263.8" r="2.5" fill="#FFA500"/><circle cx="863.5" cy="362.2" r="2.5" fill="#D3D3D3"/><circle cx="1155.2" cy="260.6" r="2.5" fill="#FFA500"/><circle cx="961.2" cy="394.7" r="2.5" fill="#D3D3D3"/><circle cx="1262.8" cy="227.7" r="2.5" fill="#FFA500"/><circle cx="1256.4" cy="188.1" r="2.5" fill="#FFA500"/><circle cx="918.5" cy="280.5" r="2.5" fill="#DCC9A3"/><circle cx="900.1" cy="218.7" r="2.5" fill="#D3D3D3"/><circle cx="1263.6" cy="287.0" r="2.5" fill="#FFA500"/><circle cx="895.2" cy="319.3" r="2.5" fill="#D3D3D3"/><circle cx="946.3" cy="446.6" r="2.5" fill="#A6BEA6"/><circle cx="977.9" cy="423.5" r="2.5" fill="#D3D3D3"/><circle cx="918.5" cy="383.0" r="2.5" fill="#A6BEA6"/><circle cx="1186.1" cy="281.4" r="2.5" fill="#FFA500"/><circle cx="884.9" cy="414.7" r="2.5" fill="#A6BEA6"/><circle cx="923.0" cy="227.8" r="2.5" fill="#D3D3D3"/><circle cx="1266.9" cy="285.2" r="2.5" fill="#D3D3D3"/><circle cx="940.2" cy="433.1" r="2.5" fill="#A6BEA6"/><circle cx="1292.2" cy="256.0" r="2.5" fill="#FFA500"/><circle cx="1176.6" cy="280.7" r="2.5" fill="#D3D3D3"/><circle cx="964.1" cy="420.8" r="2.5" fill="#A6BEA6"/><circle cx="889.9" cy="230.0" r="2.5" fill="#D3D3D3"/><circle cx="1152.1" cy="271.8" r="2.5" fill="#FFA500"/><circle cx="1163.2" cy="163.7" r="2.5" fill="#DCC9A3"/><circle cx="984.7" cy="426.1" r="2.5" fill="#A6BEA6"/><circle cx="888.5" cy="295.3" r="2.5" fill="#D3D3D3"/><circle cx="1118.6" cy="163.3" r="2.5" fill="#D3D3D3"/><circle cx="900.1" cy="274.6" r="2.5" fill="#D3D3D3"/><circle cx="835.4" cy="343.3" r="2.5" fill="#A6BEA6"/><circle cx="840.7" cy="360.7" r="2.5" fill="#D3D3D3"/><circle cx="1255.5" cy="202.1" r="2.5" fill="#D3D3D3"/><circle cx="889.1" cy="240.3" r="2.5" fill="#D3D3D3"/><circle cx="938.0" cy="299.6" r="2.5" fill="#D3D3D3"/><circle cx="877.9" cy="241.4" r="2.5" fill="#D3D3D3"/><circle cx="1109.2" cy="170.4" r="2.5" fill="#D3D3D3"/><circle cx="912.8" cy="258.0" r="2.5" fill="#D3D3D3"/><circle cx="1265.1" cy="223.2" r="2.5" fill="#FFA500"/><circle cx="918.8" cy="347.7" r="2.5" fill="#A6BEA6"/><circle cx="924.1" cy="227.6" r="2.5" fill="#D3D3D3"/><circle cx="881.1" cy="329.7" r="2.5" fill="#D3D3D3"/><circle cx="1099.3" cy="175.5" r="2.5" fill="#DCC9A3"/><circle cx="943.5" cy="428.2" r="2.5" fill="#D3D3D3"/><circle cx="936.6" cy="438.0" r="2.5" fill="#A6BEA6"/><circle cx="858.7" cy="357.8" r="2.5" fill="#D3D3D3"/><circle cx="872.9" cy="416.7" r="2.5" fill="#A6BEA6"/><circle cx="897.9" cy="415.4" r="2.5" fill="#D3D3D3"/><circle cx="987.0" cy="323.8" r="2.5" fill="#DCC9A3"/><circle cx="867.6" cy="417.4" r="2.5" fill="#A6BEA6"/><circle cx="838.5" cy="325.2" r="2.5" fill="#D3D3D3"/><circle cx="1152.9" cy="255.5" r="2.5" fill="#FFA500"/><circle cx="917.1" cy="350.8" r="2.5" fill="#D3D3D3"/><circle cx="1190.6" cy="288.0" r="2.5" fill="#FFA500"/><circle cx="953.1" cy="446.4" r="2.5" fill="#A6BEA6"/><circle cx="1106.9" cy="180.1" r="2.5" fill="#FFA500"/><circle cx="852.3" cy="301.3" r="2.5" fill="#A6BEA6"/><circle cx="1178.1" cy="167.4" r="2.5" fill="#DCC9A3"/><circle cx="975.9" cy="433.3" r="2.5" fill="#A6BEA6"/><circle cx="819.9" cy="368.2" r="2.5" fill="#A6BEA6"/><circle cx="839.2" cy="336.6" r="2.5" fill="#D3D3D3"/><circle cx="867.6" cy="291.3" r="2.5" fill="#D3D3D3"/><circle cx="962.1" cy="393.2" r="2.5" fill="#A6BEA6"/><circle cx="923.8" cy="259.1" r="2.5" fill="#A6BEA6"/><circle cx="948.9" cy="386.6" r="2.5" fill="#D3D3D3"/><circle cx="934.6" cy="258.0" r="2.5" fill="#A6BEA6"/><circle cx="1250.0" cy="293.0" r="2.5" fill="#FFA500"/><circle cx="1267.8" cy="221.3" r="2.5" fill="#DCC9A3"/><circle cx="973.6" cy="426.3" r="2.5" fill="#A6BEA6"/><circle cx="870.6" cy="316.8" r="2.5" fill="#A6BEA6"/><circle cx="897.3" cy="417.1" r="2.5" fill="#A6BEA6"/><circle cx="1089.0" cy="185.0" r="2.5" fill="#FFA500"/><circle cx="882.8" cy="260.2" r="2.5" fill="#D3D3D3"/><circle cx="936.4" cy="247.9" r="2.5" fill="#D3D3D3"/><circle cx="957.6" cy="400.3" r="2.5" fill="#DCC9A3"/><circle cx="1228.0" cy="292.3" r="2.5" fill="#FFA500"/><circle cx="1181.2" cy="165.4" r="2.5" fill="#FFA500"/><circle cx="940.3" cy="279.4" r="2.5" fill="#D3D3D3"/><circle cx="964.6" cy="399.6" r="2.5" fill="#DCC9A3"/><circle cx="943.9" cy="263.3" r="2.5" fill="#D3D3D3"/><circle cx="955.8" cy="249.1" r="2.5" fill="#D3D3D3"/><circle cx="1224.1" cy="305.5" r="2.5" fill="#FFA500"/><circle cx="911.3" cy="216.2" r="2.5" fill="#D3D3D3"/><circle cx="834.1" cy="323.9" r="2.5" fill="#D3D3D3"/><circle cx="889.7" cy="266.3" r="2.5" fill="#D3D3D3"/><circle cx="1186.4" cy="156.2" r="2.5" fill="#DCC9A3"/><circle cx="909.0" cy="234.3" r="2.5" fill="#D3D3D3"/><circle cx="1214.9" cy="177.7" r="2.5" fill="#D3D3D3"/><circle cx="1253.4" cy="192.4" r="2.5" fill="#DCC9A3"/><circle cx="886.1" cy="278.0" r="2.5" fill="#DCC9A3"/><circle cx="938.1" cy="226.6" r="2.5" fill="#D3D3D3"/><circle cx="1218.8" cy="254.1" r="2.5" fill="#DCC9A3"/><circle cx="892.9" cy="423.2" r="2.5" fill="#A6BEA6"/><circle cx="844.9" cy="424.6" r="2.5" fill="#D3D3D3"/><circle cx="916.8" cy="266.1" r="2.5" fill="#D3D3D3"/><circle cx="1140.1" cy="261.0" r="2.5" fill="#FFA500"/><circle cx="982.5" cy="324.6" r="2.5" fill="#A6BEA6"/><circle cx="1213.1" cy="260.8" r="2.5" fill="#D3D3D3"/><circle cx="1263.1" cy="223.7" r="2.5" fill="#DCC9A3"/><circle cx="894.4" cy="219.5" r="2.5" fill="#D3D3D3"/><circle cx="1095.4" cy="170.4" r="2.5" fill="#D3D3D3"/><circle cx="871.1" cy="290.9" r="2.5" fill="#D3D3D3"/><circle cx="891.8" cy="419.0" r="2.5" fill="#DCC9A3"/><circle cx="885.3" cy="279.0" r="2.5" fill="#D3D3D3"/><circle cx="1275.8" cy="288.4" r="2.5" fill="#FFA500"/><circle cx="1168.7" cy="156.9" r="2.5" fill="#D3D3D3"/><circle cx="1195.5" cy="165.2" r="2.5" fill="#D3D3D3"/><circle cx="1269.4" cy="260.3" r="2.5" fill="#FFA500"/><circle cx="1266.8" cy="210.3" r="2.5" fill="#FFA500"/><circle cx="1113.4" cy="174.7" r="2.5" fill="#DCC9A3"/><circle cx="1253.2" cy="294.7" r="2.5" fill="#FFA500"/><circle cx="883.1" cy="422.0" r="2.5" fill="#DCC9A3"/><circle cx="934.9" cy="302.7" r="2.5" fill="#D3D3D3"/><circle cx="830.5" cy="374.2" r="2.5" fill="#A6BEA6"/><circle cx="920.4" cy="436.4" r="2.5" fill="#A6BEA6"/><circle cx="1203.1" cy="302.8" r="2.5" fill="#FFA500"/><circle cx="944.9" cy="383.1" r="2.5" fill="#DCC9A3"/><circle cx="1191.4" cy="299.2" r="2.5" fill="#FFA500"/><circle cx="919.5" cy="220.1" r="2.5" fill="#D3D3D3"/><circle cx="851.6" cy="300.8" r="2.5" fill="#A6BEA6"/><circle cx="890.5" cy="337.4" r="2.5" fill="#A6BEA6"/><circle cx="1269.4" cy="205.5" r="2.5" fill="#FFA500"/><circle cx="876.6" cy="338.2" r="2.5" fill="#D3D3D3"/><circle cx="984.8" cy="417.9" r="2.5" fill="#D3D3D3"/><circle cx="1089.0" cy="183.5" r="2.5" fill="#D3D3D3"/><circle cx="840.1" cy="359.2" r="2.5" fill="#A6BEA6"/><circle cx="1266.9" cy="255.4" r="2.5" fill="#DCC9A3"/><circle cx="863.6" cy="311.9" r="2.5" fill="#D3D3D3"/><circle cx="941.4" cy="233.6" r="2.5" fill="#D3D3D3"/><circle cx="863.5" cy="316.9" r="2.5" fill="#D3D3D3"/><circle cx="1280.5" cy="279.9" r="2.5" fill="#FFA500"/><circle cx="916.3" cy="364.7" r="2.5" fill="#A6BEA6"/><circle cx="1164.8" cy="275.9" r="2.5" fill="#D3D3D3"/><circle cx="1214.8" cy="306.2" r="2.5" fill="#D3D3D3"/><circle cx="1264.7" cy="244.5" r="2.5" fill="#FFA500"/><circle cx="834.7" cy="353.7" r="2.5" fill="#D3D3D3"/><circle cx="1151.0" cy="267.6" r="2.5" fill="#D3D3D3"/><circle cx="932.9" cy="303.4" r="2.5" fill="#D3D3D3"/><circle cx="968.8" cy="316.2" r="2.5" fill="#D3D3D3"/><circle cx="938.7" cy="425.9" r="2.5" fill="#A6BEA6"/><circle cx="1147.6" cy="265.2" r="2.5" fill="#FFA500"/><circle cx="914.6" cy="381.2" r="2.5" fill="#D3D3D3"/><circle cx="832.5" cy="398.4" r="2.5" fill="#D3D3D3"/><circle cx="947.4" cy="262.3" r="2.5" fill="#D3D3D3"/><circle cx="1142.2" cy="154.4" r="2.5" fill="#D3D3D3"/><circle cx="1136.0" cy="161.4" r="2.5" fill="#D3D3D3"/><circle cx="1084.8" cy="178.4" r="2.5" fill="#D3D3D3"/><circle cx="1259.7" cy="280.2" r="2.5" fill="#DCC9A3"/><circle cx="866.3" cy="282.2" r="2.5" fill="#D3D3D3"/><circle cx="876.7" cy="418.1" r="2.5" fill="#A6BEA6"/><circle cx="903.8" cy="239.4" r="2.5" fill="#A6BEA6"/><circle cx="882.7" cy="423.4" r="2.5" fill="#D3D3D3"/><circle cx="1285.6" cy="271.1" r="2.5" fill="#FFA500"/><circle cx="884.0" cy="300.9" r="2.5" fill="#A6BEA6"/><circle cx="839.2" cy="371.6" r="2.5" fill="#D3D3D3"/><circle cx="896.6" cy="264.5" r="2.5" fill="#D3D3D3"/><circle cx="1292.1" cy="249.7" r="2.5" fill="#FFA500"/><circle cx="924.5" cy="354.6" r="2.5" fill="#A6BEA6"/><circle cx="920.3" cy="415.6" r="2.5" fill="#A6BEA6"/><circle cx="1251.0" cy="292.2" r="2.5" fill="#D3D3D3"/><circle cx="1166.4" cy="153.1" r="2.5" fill="#DCC9A3"/><circle cx="903.0" cy="214.7" r="2.5" fill="#D3D3D3"/><circle cx="886.7" cy="218.4" r="2.5" fill="#D3D3D3"/><circle cx="884.8" cy="279.5" r="2.5" fill="#D3D3D3"/><circle cx="865.5" cy="416.1" r="2.5" fill="#A6BEA6"/><circle cx="946.0" cy="291.1" r="2.5" fill="#D3D3D3"/><circle cx="930.2" cy="439.7" r="2.5" fill="#D3D3D3"/><circle cx="882.4" cy="342.0" r="2.5" fill="#A6BEA6"/><circle cx="1249.3" cy="291.9" r="2.5" fill="#DCC9A3"/><circle cx="842.9" cy="421.5" r="2.5" fill="#A6BEA6"/><circle cx="951.9" cy="247.2" r="2.5" fill="#D3D3D3"/><circle cx="963.6" cy="404.0" r="2.5" fill="#A6BEA6"/><circle cx="1255.5" cy="195.2" r="2.5" fill="#FFA500"/><circle cx="945.9" cy="268.4" r="2.5" fill="#D3D3D3"/><circle cx="1281.5" cy="285.1" r="2.5" fill="#FFA500"/><circle cx="1256.6" cy="291.6" r="2.5" fill="#FFA500"/><circle cx="926.1" cy="281.6" r="2.5" fill="#A6BEA6"/><circle cx="1219.8" cy="296.6" r="2.5" fill="#DCC9A3"/><circle cx="991.6" cy="321.4" r="2.5" fill="#D3D3D3"/><circle cx="1165.5" cy="267.7" r="2.5" fill="#FFA500"/><circle cx="972.9" cy="423.9" r="2.5" fill="#A6BEA6"/><circle cx="874.7" cy="419.2" r="2.5" fill="#D3D3D3"/><circle cx="927.6" cy="414.9" r="2.5" fill="#D3D3D3"/><circle cx="1258.7" cy="206.6" r="2.5" fill="#FFA500"/><circle cx="936.1" cy="304.0" r="2.5" fill="#D3D3D3"/><circle cx="980.2" cy="429.7" r="2.5" fill="#A6BEA6"/><circle cx="1251.8" cy="293.0" r="2.5" fill="#FFA500"/><circle cx="989.9" cy="320.2" r="2.5" fill="#A6BEA6"/><circle cx="963.4" cy="428.0" r="2.5" fill="#A6BEA6"/><circle cx="1279.4" cy="286.9" r="2.5" fill="#FFA500"/><circle cx="934.2" cy="258.4" r="2.5" fill="#D3D3D3"/><circle cx="904.5" cy="323.2" r="2.5" fill="#D3D3D3"/><circle cx="884.8" cy="268.9" r="2.5" fill="#D3D3D3"/><circle cx="1282.7" cy="281.3" r="2.5" fill="#DCC9A3"/><circle cx="877.8" cy="347.3" r="2.5" fill="#D3D3D3"/><circle cx="889.5" cy="226.1" r="2.5" fill="#D3D3D3"/><circle cx="848.8" cy="421.7" r="2.5" fill="#DCC9A3"/><circle cx="942.2" cy="445.0" r="2.5" fill="#A6BEA6"/><circle cx="948.0" cy="415.9" r="2.5" fill="#D3D3D3"/><circle cx="930.1" cy="306.5" r="2.5" fill="#D3D3D3"/><circle cx="854.7" cy="332.8" r="2.5" fill="#A6BEA6"/><circle cx="918.1" cy="420.5" r="2.5" fill="#A6BEA6"/><circle cx="860.7" cy="341.8" r="2.5" fill="#D3D3D3"/><circle cx="1247.7" cy="293.5" r="2.5" fill="#DCC9A3"/><circle cx="1116.5" cy="161.9" r="2.5" fill="#D3D3D3"/><circle cx="946.1" cy="247.9" r="2.5" fill="#D3D3D3"/><circle cx="1107.8" cy="166.8" r="2.5" fill="#D3D3D3"/><circle cx="882.5" cy="418.5" r="2.5" fill="#D3D3D3"/><circle cx="895.6" cy="414.1" r="2.5" fill="#A6BEA6"/><circle cx="872.1" cy="342.8" r="2.5" fill="#D3D3D3"/><circle cx="1274.7" cy="243.1" r="2.5" fill="#FFA500"/><circle cx="844.6" cy="388.3" r="2.5" fill="#A6BEA6"/><circle cx="879.9" cy="282.9" r="2.5" fill="#A6BEA6"/><circle cx="921.4" cy="360.0" r="2.5" fill="#D3D3D3"/><circle cx="952.1" cy="243.9" r="2.5" fill="#D3D3D3"/><circle cx="846.9" cy="356.0" r="2.5" fill="#D3D3D3"/><circle cx="829.3" cy="323.9" r="2.5" fill="#A6BEA6"/><circle cx="1267.7" cy="215.9" r="2.5" fill="#FFA500"/><circle cx="867.1" cy="334.0" r="2.5" fill="#A6BEA6"/><circle cx="1262.1" cy="241.9" r="2.5" fill="#DCC9A3"/><circle cx="1175.5" cy="157.0" r="2.5" fill="#FFA500"/><circle cx="1218.4" cy="306.2" r="2.5" fill="#FFA500"/><circle cx="876.9" cy="273.9" r="2.5" fill="#D3D3D3"/><circle cx="917.2" cy="372.3" r="2.5" fill="#A6BEA6"/><circle cx="884.8" cy="286.4" r="2.5" fill="#A6BEA6"/><circle cx="1109.4" cy="171.9" r="2.5" fill="#D3D3D3"/><circle cx="965.8" cy="410.0" r="2.5" fill="#D3D3D3"/><circle cx="880.9" cy="328.3" r="2.5" fill="#A6BEA6"/><circle cx="916.3" cy="305.8" r="2.5" fill="#D3D3D3"/><circle cx="1262.4" cy="222.6" r="2.5" fill="#DCC9A3"/><circle cx="920.6" cy="285.8" r="2.5" fill="#D3D3D3"/><circle cx="862.2" cy="362.2" r="2.5" fill="#D3D3D3"/><circle cx="979.3" cy="426.8" r="2.5" fill="#A6BEA6"/><circle cx="953.7" cy="431.0" r="2.5" fill="#A6BEA6"/><circle cx="906.5" cy="305.2" r="2.5" fill="#A6BEA6"/><circle cx="900.8" cy="255.3" r="2.5" fill="#D3D3D3"/><circle cx="919.4" cy="362.4" r="2.5" fill="#A6BEA6"/><circle cx="874.7" cy="364.4" r="2.5" fill="#DCC9A3"/><circle cx="1277.3" cy="291.5" r="2.5" fill="#FFA500"/><circle cx="1102.8" cy="171.8" r="2.5" fill="#DCC9A3"/><circle cx="848.2" cy="302.4" r="2.5" fill="#D3D3D3"/><circle cx="926.4" cy="268.4" r="2.5" fill="#D3D3D3"/><circle cx="1208.1" cy="302.4" r="2.5" fill="#FFA500"/><circle cx="1157.3" cy="264.1" r="2.5" fill="#FFA500"/><circle cx="1186.7" cy="281.9" r="2.5" fill="#FFA500"/><circle cx="1258.3" cy="205.5" r="2.5" fill="#FFA500"/><circle cx="931.2" cy="238.7" r="2.5" fill="#D3D3D3"/><circle cx="910.7" cy="254.0" r="2.5" fill="#D3D3D3"/><circle cx="952.0" cy="435.0" r="2.5" fill="#A6BEA6"/><circle cx="897.7" cy="409.0" r="2.5" fill="#A6BEA6"/><circle cx="899.3" cy="323.2" r="2.5" fill="#D3D3D3"/><circle cx="906.3" cy="289.6" r="2.5" fill="#D3D3D3"/><circle cx="1271.7" cy="291.6" r="2.5" fill="#D3D3D3"/><circle cx="976.8" cy="432.1" r="2.5" fill="#A6BEA6"/><circle cx="1270.3" cy="223.6" r="2.5" fill="#D3D3D3"/><circle cx="1277.8" cy="287.7" r="2.5" fill="#FFA500"/><circle cx="1192.4" cy="296.0" r="2.5" fill="#FFA500"/><circle cx="1270.4" cy="266.1" r="2.5" fill="#D3D3D3"/><circle cx="1136.6" cy="163.6" r="2.5" fill="#D3D3D3"/><circle cx="1177.5" cy="269.7" r="2.5" fill="#FFA500"/><circle cx="1166.6" cy="274.2" r="2.5" fill="#FFA500"/><circle cx="1096.2" cy="167.1" r="2.5" fill="#D3D3D3"/><circle cx="933.2" cy="312.5" r="2.5" fill="#D3D3D3"/><circle cx="1243.6" cy="261.3" r="2.5" fill="#FFA500"/><circle cx="1256.8" cy="287.9" r="2.5" fill="#DCC9A3"/><circle cx="1173.7" cy="161.5" r="2.5" fill="#D3D3D3"/><circle cx="1133.3" cy="165.7" r="2.5" fill="#D3D3D3"/><circle cx="1262.8" cy="259.9" r="2.5" fill="#FFA500"/><circle cx="976.9" cy="430.0" r="2.5" fill="#DCC9A3"/><circle cx="940.4" cy="236.7" r="2.5" fill="#D3D3D3"/><circle cx="1090.5" cy="176.6" r="2.5" fill="#DCC9A3"/><circle cx="909.0" cy="275.1" r="2.5" fill="#D3D3D3"/><circle cx="1277.8" cy="285.7" r="2.5" fill="#FFA500"/><circle cx="860.8" cy="420.5" r="2.5" fill="#A6BEA6"/><circle cx="902.4" cy="240.3" r="2.5" fill="#D3D3D3"/><circle cx="1158.6" cy="156.1" r="2.5" fill="#DCC9A3"/><circle cx="1093.0" cy="184.9" r="2.5" fill="#DCC9A3"/><circle cx="837.1" cy="363.8" r="2.5" fill="#A6BEA6"/><circle cx="839.9" cy="403.3" r="2.5" fill="#D3D3D3"/><circle cx="847.1" cy="350.3" r="2.5" fill="#DCC9A3"/><circle cx="974.4" cy="436.0" r="2.5" fill="#A6BEA6"/><circle cx="1247.3" cy="293.9" r="2.5" fill="#FFA500"/><circle cx="1275.2" cy="289.8" r="2.5" fill="#FFA500"/><circle cx="977.3" cy="415.0" r="2.5" fill="#A6BEA6"/><circle cx="853.5" cy="304.3" r="2.5" fill="#D3D3D3"/><circle cx="914.8" cy="310.0" r="2.5" fill="#A6BEA6"/><circle cx="954.1" cy="248.0" r="2.5" fill="#D3D3D3"/><circle cx="1276.8" cy="284.9" r="2.5" fill="#FFA500"/><circle cx="1132.9" cy="154.0" r="2.5" fill="#DCC9A3"/><circle cx="855.8" cy="320.8" r="2.5" fill="#D3D3D3"/><circle cx="1276.9" cy="216.1" r="2.5" fill="#DCC9A3"/><circle cx="1170.4" cy="266.7" r="2.5" fill="#DCC9A3"/><circle cx="1268.9" cy="202.8" r="2.5" fill="#DCC9A3"/><circle cx="895.2" cy="269.5" r="2.5" fill="#D3D3D3"/><circle cx="1261.6" cy="272.8" r="2.5" fill="#FFA500"/><circle cx="889.8" cy="212.3" r="2.5" fill="#A6BEA6"/><circle cx="879.3" cy="276.8" r="2.5" fill="#D3D3D3"/><circle cx="1285.3" cy="273.8" r="2.5" fill="#D3D3D3"/><circle cx="1166.6" cy="278.9" r="2.5" fill="#FFA500"/><circle cx="889.5" cy="225.1" r="2.5" fill="#D3D3D3"/><circle cx="924.9" cy="235.7" r="2.5" fill="#D3D3D3"/><circle cx="1177.1" cy="280.0" r="2.5" fill="#FFA500"/><circle cx="1249.9" cy="293.9" r="2.5" fill="#DCC9A3"/><circle cx="1218.2" cy="305.6" r="2.5" fill="#FFA500"/><circle cx="928.3" cy="280.4" r="2.5" fill="#D3D3D3"/><circle cx="1274.6" cy="293.1" r="2.5" fill="#FFA500"/><circle cx="863.9" cy="421.4" r="2.5" fill="#A6BEA6"/><circle cx="892.3" cy="279.0" r="2.5" fill="#D3D3D3"/><circle cx="1152.3" cy="260.7" r="2.5" fill="#FFA500"/><circle cx="1262.5" cy="263.7" r="2.5" fill="#FFA500"/><circle cx="884.6" cy="263.9" r="2.5" fill="#A6BEA6"/><circle cx="1169.0" cy="157.2" r="2.5" fill="#DCC9A3"/><circle cx="927.1" cy="437.3" r="2.5" fill="#A6BEA6"/><circle cx="1208.3" cy="161.6" r="2.5" fill="#DCC9A3"/><circle cx="901.4" cy="212.2" r="2.5" fill="#D3D3D3"/><circle cx="873.8" cy="306.9" r="2.5" fill="#A6BEA6"/><circle cx="882.4" cy="317.6" r="2.5" fill="#A6BEA6"/><circle cx="919.6" cy="232.2" r="2.5" fill="#D3D3D3"/><circle cx="1264.1" cy="194.2" r="2.5" fill="#DCC9A3"/><circle cx="881.4" cy="307.6" r="2.5" fill="#A6BEA6"/><circle cx="1093.0" cy="171.6" r="2.5" fill="#D3D3D3"/><circle cx="949.7" cy="256.2" r="2.5" fill="#D3D3D3"/><circle cx="885.5" cy="238.1" r="2.5" fill="#D3D3D3"/><circle cx="1276.0" cy="218.5" r="2.5" fill="#DCC9A3"/><circle cx="961.9" cy="434.8" r="2.5" fill="#A6BEA6"/><circle cx="1257.6" cy="294.5" r="2.5" fill="#FFA500"/><circle cx="1290.1" cy="245.9" r="2.5" fill="#FFA500"/><circle cx="1262.8" cy="199.7" r="2.5" fill="#FFA500"/><circle cx="951.0" cy="234.9" r="2.5" fill="#D3D3D3"/><circle cx="949.4" cy="240.4" r="2.5" fill="#D3D3D3"/><circle cx="898.8" cy="233.7" r="2.5" fill="#D3D3D3"/><circle cx="1104.0" cy="172.5" r="2.5" fill="#D3D3D3"/><circle cx="887.8" cy="214.4" r="2.5" fill="#D3D3D3"/><circle cx="1199.0" cy="159.5" r="2.5" fill="#DCC9A3"/><circle cx="972.4" cy="429.3" r="2.5" fill="#A6BEA6"/><circle cx="879.4" cy="262.0" r="2.5" fill="#D3D3D3"/><circle cx="964.2" cy="438.7" r="2.5" fill="#A6BEA6"/><circle cx="839.5" cy="351.4" r="2.5" fill="#D3D3D3"/><circle cx="886.8" cy="240.8" r="2.5" fill="#D3D3D3"/><circle cx="933.2" cy="290.1" r="2.5" fill="#D3D3D3"/><circle cx="1262.7" cy="234.6" r="2.5" fill="#FFA500"/><circle cx="1261.6" cy="236.1" r="2.5" fill="#DCC9A3"/><circle cx="850.7" cy="345.0" r="2.5" fill="#D3D3D3"/><circle cx="973.3" cy="420.7" r="2.5" fill="#D3D3D3"/><circle cx="933.1" cy="421.0" r="2.5" fill="#A6BEA6"/><circle cx="928.0" cy="284.3" r="2.5" fill="#A6BEA6"/><circle cx="1218.9" cy="295.4" r="2.5" fill="#FFA500"/><circle cx="937.1" cy="443.9" r="2.5" fill="#A6BEA6"/><circle cx="1231.8" cy="302.4" r="2.5" fill="#FFA500"/><circle cx="874.1" cy="338.4" r="2.5" fill="#A6BEA6"/><circle cx="876.1" cy="421.4" r="2.5" fill="#A6BEA6"/><circle cx="943.6" cy="259.4" r="2.5" fill="#D3D3D3"/><circle cx="865.0" cy="292.5" r="2.5" fill="#D3D3D3"/><circle cx="945.0" cy="427.7" r="2.5" fill="#A6BEA6"/><circle cx="1265.5" cy="188.6" r="2.5" fill="#DCC9A3"/><circle cx="1096.3" cy="185.5" r="2.5" fill="#FFA500"/><circle cx="866.2" cy="302.9" r="2.5" fill="#DCC9A3"/><circle cx="882.2" cy="241.3" r="2.5" fill="#D3D3D3"/><circle cx="1231.5" cy="290.1" r="2.5" fill="#FFA500"/><circle cx="904.3" cy="236.1" r="2.5" fill="#D3D3D3"/><circle cx="1222.0" cy="298.5" r="2.5" fill="#DCC9A3"/><circle cx="1274.5" cy="219.5" r="2.5" fill="#DCC9A3"/><circle cx="1204.4" cy="165.3" r="2.5" fill="#DCC9A3"/><circle cx="871.6" cy="304.1" r="2.5" fill="#A6BEA6"/><circle cx="1201.9" cy="162.3" r="2.5" fill="#D3D3D3"/><circle cx="1212.3" cy="270.7" r="2.5" fill="#DCC9A3"/><circle cx="977.0" cy="426.8" r="2.5" fill="#A6BEA6"/><circle cx="923.6" cy="357.1" r="2.5" fill="#A6BEA6"/><circle cx="878.9" cy="417.7" r="2.5" fill="#A6BEA6"/><circle cx="1169.7" cy="278.5" r="2.5" fill="#DCC9A3"/><circle cx="922.9" cy="268.8" r="2.5" fill="#D3D3D3"/><circle cx="1277.5" cy="263.4" r="2.5" fill="#DCC9A3"/><circle cx="908.2" cy="262.2" r="2.5" fill="#D3D3D3"/><circle cx="1262.6" cy="264.4" r="2.5" fill="#FFA500"/><circle cx="936.1" cy="430.1" r="2.5" fill="#A6BEA6"/><circle cx="1138.4" cy="264.8" r="2.5" fill="#FFA500"/><circle cx="906.7" cy="255.5" r="2.5" fill="#D3D3D3"/><circle cx="1261.4" cy="189.1" r="2.5" fill="#DCC9A3"/><circle cx="1251.1" cy="185.5" r="2.5" fill="#FFA500"/><circle cx="1091.5" cy="169.0" r="2.5" fill="#FFA500"/><circle cx="1278.5" cy="289.0" r="2.5" fill="#DCC9A3"/><circle cx="965.7" cy="429.5" r="2.5" fill="#A6BEA6"/><circle cx="844.2" cy="378.7" r="2.5" fill="#A6BEA6"/><circle cx="1111.6" cy="170.6" r="2.5" fill="#D3D3D3"/><circle cx="825.0" cy="371.1" r="2.5" fill="#A6BEA6"/><circle cx="838.9" cy="395.6" r="2.5" fill="#A6BEA6"/><circle cx="1157.4" cy="271.1" r="2.5" fill="#D3D3D3"/><circle cx="1091.9" cy="172.7" r="2.5" fill="#D3D3D3"/><circle cx="932.2" cy="431.7" r="2.5" fill="#A6BEA6"/><circle cx="897.8" cy="281.0" r="2.5" fill="#D3D3D3"/><circle cx="1259.5" cy="262.5" r="2.5" fill="#FFA500"/><circle cx="941.2" cy="443.5" r="2.5" fill="#A6BEA6"/><circle cx="1288.2" cy="262.4" r="2.5" fill="#FFA500"/><circle cx="911.9" cy="382.4" r="2.5" fill="#A6BEA6"/><circle cx="1170.9" cy="162.2" r="2.5" fill="#D3D3D3"/><circle cx="927.1" cy="312.4" r="2.5" fill="#D3D3D3"/><circle cx="972.9" cy="412.0" r="2.5" fill="#A6BEA6"/><circle cx="1263.4" cy="190.8" r="2.5" fill="#FFA500"/><circle cx="906.3" cy="310.4" r="2.5" fill="#D3D3D3"/><circle cx="1265.5" cy="207.0" r="2.5" fill="#DCC9A3"/><circle cx="1140.7" cy="158.7" r="2.5" fill="#DCC9A3"/><circle cx="1207.3" cy="295.1" r="2.5" fill="#FFA500"/><circle cx="965.4" cy="432.8" r="2.5" fill="#A6BEA6"/><circle cx="932.8" cy="312.3" r="2.5" fill="#A6BEA6"/><circle cx="934.1" cy="272.0" r="2.5" fill="#A6BEA6"/><circle cx="944.2" cy="234.6" r="2.5" fill="#D3D3D3"/><circle cx="1261.0" cy="192.1" r="2.5" fill="#DCC9A3"/><circle cx="1226.2" cy="289.3" r="2.5" fill="#DCC9A3"/><circle cx="1123.1" cy="162.0" r="2.5" fill="#DCC9A3"/><circle cx="912.6" cy="384.5" r="2.5" fill="#A6BEA6"/><circle cx="879.2" cy="227.0" r="2.5" fill="#D3D3D3"/><circle cx="1199.9" cy="158.5" r="2.5" fill="#D3D3D3"/><circle cx="938.5" cy="303.4" r="2.5" fill="#D3D3D3"/><circle cx="907.8" cy="214.5" r="2.5" fill="#D3D3D3"/><circle cx="1256.3" cy="206.8" r="2.5" fill="#DCC9A3"/><circle cx="1277.5" cy="272.5" r="2.5" fill="#FFA500"/><circle cx="888.5" cy="414.1" r="2.5" fill="#A6BEA6"/><circle cx="941.1" cy="258.2" r="2.5" fill="#D3D3D3"/><circle cx="951.5" cy="394.8" r="2.5" fill="#A6BEA6"/><circle cx="829.5" cy="342.0" r="2.5" fill="#A6BEA6"/><circle cx="835.5" cy="350.0" r="2.5" fill="#A6BEA6"/><circle cx="970.6" cy="429.5" r="2.5" fill="#DCC9A3"/><circle cx="821.6" cy="360.8" r="2.5" fill="#A6BEA6"/><circle cx="880.7" cy="272.7" r="2.5" fill="#D3D3D3"/><circle cx="890.8" cy="329.3" r="2.5" fill="#A6BEA6"/><circle cx="829.6" cy="378.4" r="2.5" fill="#A6BEA6"/><circle cx="921.6" cy="237.0" r="2.5" fill="#D3D3D3"/><circle cx="947.4" cy="295.1" r="2.5" fill="#D3D3D3"/><circle cx="887.7" cy="418.9" r="2.5" fill="#A6BEA6"/><circle cx="1254.3" cy="292.0" r="2.5" fill="#FFA500"/><circle cx="843.0" cy="335.3" r="2.5" fill="#D3D3D3"/><circle cx="1094.6" cy="174.2" r="2.5" fill="#DCC9A3"/><circle cx="912.3" cy="214.4" r="2.5" fill="#A6BEA6"/><circle cx="1182.7" cy="154.9" r="2.5" fill="#DCC9A3"/><circle cx="968.5" cy="311.0" r="2.5" fill="#D3D3D3"/><circle cx="935.1" cy="283.5" r="2.5" fill="#A6BEA6"/><circle cx="884.2" cy="265.2" r="2.5" fill="#D3D3D3"/><circle cx="1267.0" cy="213.3" r="2.5" fill="#DCC9A3"/><circle cx="1265.5" cy="280.1" r="2.5" fill="#DCC9A3"/><circle cx="826.1" cy="380.0" r="2.5" fill="#D3D3D3"/><circle cx="851.4" cy="417.2" r="2.5" fill="#A6BEA6"/><circle cx="885.0" cy="238.9" r="2.5" fill="#D3D3D3"/><circle cx="903.0" cy="406.9" r="2.5" fill="#A6BEA6"/><circle cx="1161.9" cy="153.9" r="2.5" fill="#D3D3D3"/><circle cx="1266.8" cy="200.8" r="2.5" fill="#DCC9A3"/><circle cx="1100.3" cy="176.9" r="2.5" fill="#D3D3D3"/><circle cx="905.3" cy="293.0" r="2.5" fill="#D3D3D3"/><circle cx="1144.4" cy="154.3" r="2.5" fill="#D3D3D3"/><circle cx="947.4" cy="419.0" r="2.5" fill="#D3D3D3"/><circle cx="917.8" cy="370.7" r="2.5" fill="#D3D3D3"/><circle cx="1158.6" cy="154.9" r="2.5" fill="#D3D3D3"/><circle cx="909.6" cy="312.1" r="2.5" fill="#D3D3D3"/><circle cx="892.3" cy="328.4" r="2.5" fill="#D3D3D3"/><circle cx="946.8" cy="441.9" r="2.5" fill="#A6BEA6"/><circle cx="976.8" cy="430.3" r="2.5" fill="#A6BEA6"/><circle cx="1187.8" cy="159.6" r="2.5" fill="#D3D3D3"/><circle cx="939.4" cy="442.7" r="2.5" fill="#D3D3D3"/><circle cx="832.7" cy="355.1" r="2.5" fill="#A6BEA6"/><circle cx="969.6" cy="438.9" r="2.5" fill="#D3D3D3"/><circle cx="1289.1" cy="266.2" r="2.5" fill="#FFA500"/><circle cx="835.0" cy="394.1" r="2.5" fill="#A6BEA6"/><circle cx="1214.9" cy="165.1" r="2.5" fill="#FFA500"/><circle cx="870.8" cy="351.7" r="2.5" fill="#A6BEA6"/><circle cx="1116.7" cy="170.3" r="2.5" fill="#DCC9A3"/><circle cx="882.1" cy="294.6" r="2.5" fill="#D3D3D3"/><circle cx="1090.7" cy="170.1" r="2.5" fill="#FFA500"/><circle cx="1281.7" cy="240.7" r="2.5" fill="#FFA500"/><circle cx="927.1" cy="431.2" r="2.5" fill="#A6BEA6"/><circle cx="947.7" cy="272.7" r="2.5" fill="#D3D3D3"/><circle cx="870.8" cy="299.5" r="2.5" fill="#D3D3D3"/><circle cx="1269.4" cy="192.2" r="2.5" fill="#D3D3D3"/><circle cx="878.7" cy="222.4" r="2.5" fill="#D3D3D3"/><circle cx="973.4" cy="429.0" r="2.5" fill="#A6BEA6"/><circle cx="1168.3" cy="154.2" r="2.5" fill="#DCC9A3"/><circle cx="932.7" cy="266.2" r="2.5" fill="#D3D3D3"/><circle cx="895.9" cy="293.9" r="2.5" fill="#D3D3D3"/><circle cx="991.1" cy="321.3" r="2.5" fill="#A6BEA6"/><circle cx="1277.6" cy="202.9" r="2.5" fill="#DCC9A3"/><circle cx="946.1" cy="257.7" r="2.5" fill="#D3D3D3"/><circle cx="1000.0" cy="321.5" r="2.5" fill="#FFA500"/><circle cx="1186.5" cy="155.6" r="2.5" fill="#DCC9A3"/><circle cx="882.0" cy="291.3" r="2.5" fill="#D3D3D3"/><circle cx="943.0" cy="445.4" r="2.5" fill="#A6BEA6"/><circle cx="966.5" cy="431.6" r="2.5" fill="#A6BEA6"/><circle cx="949.0" cy="431.2" r="2.5" fill="#D3D3D3"/><circle cx="907.8" cy="271.9" r="2.5" fill="#A6BEA6"/><circle cx="952.2" cy="438.5" r="2.5" fill="#C6C69A"/><circle cx="899.2" cy="411.9" r="2.5" fill="#A6BEA6"/><circle cx="867.7" cy="348.7" r="2.5" fill="#A6BEA6"/><circle cx="957.4" cy="424.1" r="2.5" fill="#A6BEA6"/><circle cx="900.8" cy="265.8" r="2.5" fill="#D3D3D3"/><circle cx="935.1" cy="278.4" r="2.5" fill="#D3D3D3"/><circle cx="968.0" cy="423.0" r="2.5" fill="#A6BEA6"/><circle cx="1115.4" cy="184.5" r="2.5" fill="#DCC9A3"/><circle cx="947.9" cy="234.4" r="2.5" fill="#D3D3D3"/><circle cx="906.7" cy="413.5" r="2.5" fill="#A6BEA6"/><circle cx="1265.7" cy="280.1" r="2.5" fill="#FFA500"/><circle cx="928.6" cy="275.6" r="2.5" fill="#D3D3D3"/><circle cx="875.1" cy="423.4" r="2.5" fill="#A6BEA6"/><circle cx="1283.9" cy="276.1" r="2.5" fill="#FFA500"/><circle cx="1171.4" cy="284.2" r="2.5" fill="#FFA500"/><circle cx="1277.7" cy="288.3" r="2.5" fill="#FFA500"/><circle cx="940.7" cy="231.3" r="2.5" fill="#D3D3D3"/><circle cx="883.4" cy="325.1" r="2.5" fill="#A6BEA6"/><circle cx="881.4" cy="249.3" r="2.5" fill="#A6BEA6"/><circle cx="934.6" cy="276.7" r="2.5" fill="#D3D3D3"/><circle cx="922.4" cy="304.6" r="2.5" fill="#D3D3D3"/><circle cx="1160.7" cy="161.2" r="2.5" fill="#DCC9A3"/><circle cx="974.8" cy="425.2" r="2.5" fill="#A6BEA6"/><circle cx="922.3" cy="431.6" r="2.5" fill="#A6BEA6"/><circle cx="1275.2" cy="287.5" r="2.5" fill="#FFA500"/><circle cx="1147.3" cy="259.1" r="2.5" fill="#FFA500"/><circle cx="894.0" cy="231.4" r="2.5" fill="#D3D3D3"/><circle cx="830.3" cy="383.2" r="2.5" fill="#A6BEA6"/><circle cx="1275.2" cy="197.5" r="2.5" fill="#DCC9A3"/><circle cx="1103.3" cy="186.4" r="2.5" fill="#D3D3D3"/><circle cx="1150.7" cy="265.9" r="2.5" fill="#FFA500"/><circle cx="938.6" cy="243.9" r="2.5" fill="#D3D3D3"/><circle cx="916.4" cy="425.8" r="2.5" fill="#A6BEA6"/><circle cx="914.7" cy="222.5" r="2.5" fill="#D3D3D3"/><circle cx="1113.7" cy="173.5" r="2.5" fill="#FFA500"/><circle cx="819.8" cy="353.1" r="2.5" fill="#A6BEA6"/><circle cx="965.1" cy="411.6" r="2.5" fill="#D3D3D3"/><circle cx="1267.8" cy="250.9" r="2.5" fill="#FFA500"/><circle cx="966.9" cy="428.9" r="2.5" fill="#A6BEA6"/><circle cx="836.9" cy="378.5" r="2.5" fill="#A6BEA6"/><circle cx="922.7" cy="424.6" r="2.5" fill="#A6BEA6"/><circle cx="1216.7" cy="304.8" r="2.5" fill="#D3D3D3"/><circle cx="890.0" cy="417.9" r="2.5" fill="#A6BEA6"/><circle cx="1135.2" cy="163.7" r="2.5" fill="#DCC9A3"/><circle cx="831.0" cy="384.9" r="2.5" fill="#D3D3D3"/><circle cx="1270.2" cy="223.1" r="2.5" fill="#FFA500"/><circle cx="904.2" cy="208.6" r="2.5" fill="#D3D3D3"/><circle cx="920.9" cy="248.7" r="2.5" fill="#D3D3D3"/><circle cx="878.4" cy="286.0" r="2.5" fill="#D3D3D3"/><circle cx="938.3" cy="291.2" r="2.5" fill="#D3D3D3"/><circle cx="840.5" cy="349.5" r="2.5" fill="#D3D3D3"/><circle cx="1171.1" cy="276.7" r="2.5" fill="#DCC9A3"/><circle cx="912.6" cy="310.0" r="2.5" fill="#D3D3D3"/><circle cx="909.5" cy="218.0" r="2.5" fill="#D3D3D3"/><circle cx="1219.9" cy="301.4" r="2.5" fill="#FFA500"/><circle cx="971.1" cy="413.0" r="2.5" fill="#A6BEA6"/><circle cx="943.7" cy="230.0" r="2.5" fill="#A6BEA6"/><circle cx="1184.6" cy="275.9" r="2.5" fill="#FFA500"/><circle cx="1282.3" cy="277.4" r="2.5" fill="#FFA500"/><circle cx="1251.7" cy="191.1" r="2.5" fill="#FFA500"/><circle cx="877.7" cy="352.2" r="2.5" fill="#D3D3D3"/><circle cx="1263.8" cy="293.1" r="2.5" fill="#D3D3D3"/><circle cx="1125.3" cy="159.4" r="2.5" fill="#FFA500"/><circle cx="1195.0" cy="287.5" r="2.5" fill="#D3D3D3"/><circle cx="1231.0" cy="254.4" r="2.5" fill="#DCC9A3"/><circle cx="864.1" cy="308.7" r="2.5" fill="#A6BEA6"/><circle cx="896.5" cy="310.8" r="2.5" fill="#D3D3D3"/><circle cx="1103.2" cy="185.8" r="2.5" fill="#D3D3D3"/><circle cx="1170.8" cy="154.8" r="2.5" fill="#D3D3D3"/><circle cx="1138.2" cy="159.2" r="2.5" fill="#DCC9A3"/><circle cx="1231.1" cy="302.3" r="2.5" fill="#DCC9A3"/><circle cx="924.4" cy="414.0" r="2.5" fill="#A6BEA6"/><circle cx="1141.2" cy="146.2" r="2.5" fill="#FFA500"/><circle cx="1216.3" cy="304.2" r="2.5" fill="#FFA500"/><circle cx="846.3" cy="416.1" r="2.5" fill="#A6BEA6"/><circle cx="1270.7" cy="289.3" r="2.5" fill="#FFA500"/><circle cx="1249.2" cy="296.5" r="2.5" fill="#FFA500"/><circle cx="1265.0" cy="291.2" r="2.5" fill="#FFA500"/><circle cx="1258.5" cy="254.6" r="2.5" fill="#FFA500"/><circle cx="1181.8" cy="276.2" r="2.5" fill="#FFA500"/><circle cx="1207.8" cy="265.6" r="2.5" fill="#D3D3D3"/><circle cx="922.6" cy="255.7" r="2.5" fill="#DCC9A3"/><circle cx="1118.4" cy="167.3" r="2.5" fill="#FFA500"/><circle cx="1167.2" cy="159.4" r="2.5" fill="#D3D3D3"/><circle cx="1155.6" cy="158.1" r="2.5" fill="#D3D3D3"/><circle cx="927.7" cy="428.1" r="2.5" fill="#D3D3D3"/><circle cx="1248.8" cy="294.0" r="2.5" fill="#FFA500"/><circle cx="915.5" cy="316.4" r="2.5" fill="#D3D3D3"/><circle cx="949.5" cy="247.6" r="2.5" fill="#D3D3D3"/><circle cx="972.6" cy="426.7" r="2.5" fill="#A6BEA6"/><circle cx="1116.8" cy="168.9" r="2.5" fill="#FFA500"/><circle cx="921.3" cy="348.8" r="2.5" fill="#A6BEA6"/><circle cx="874.7" cy="286.6" r="2.5" fill="#D3D3D3"/><circle cx="927.7" cy="284.7" r="2.5" fill="#D3D3D3"/><circle cx="1126.2" cy="161.1" r="2.5" fill="#DCC9A3"/><circle cx="900.5" cy="287.2" r="2.5" fill="#A6BEA6"/><circle cx="1254.3" cy="275.8" r="2.5" fill="#FFA500"/><circle cx="1211.8" cy="297.4" r="2.5" fill="#D3D3D3"/><circle cx="967.0" cy="405.4" r="2.5" fill="#A6BEA6"/><circle cx="926.5" cy="265.2" r="2.5" fill="#D3D3D3"/><circle cx="924.6" cy="226.8" r="2.5" fill="#D3D3D3"/><circle cx="879.3" cy="288.5" r="2.5" fill="#A6BEA6"/><circle cx="954.9" cy="435.0" r="2.5" fill="#A6BEA6"/><circle cx="841.7" cy="312.5" r="2.5" fill="#D3D3D3"/><circle cx="934.6" cy="434.1" r="2.5" fill="#A6BEA6"/><circle cx="835.4" cy="323.9" r="2.5" fill="#A6BEA6"/><circle cx="993.5" cy="321.2" r="2.5" fill="#FFA500"/><circle cx="944.4" cy="434.1" r="2.5" fill="#D3D3D3"/><circle cx="949.1" cy="233.4" r="2.5" fill="#D3D3D3"/><circle cx="890.7" cy="314.2" r="2.5" fill="#D3D3D3"/><circle cx="1176.9" cy="273.5" r="2.5" fill="#DCC9A3"/><circle cx="828.3" cy="363.5" r="2.5" fill="#A6BEA6"/><circle cx="1281.4" cy="259.8" r="2.5" fill="#FFA500"/><circle cx="950.9" cy="394.5" r="2.5" fill="#DCC9A3"/><circle cx="834.4" cy="385.5" r="2.5" fill="#D3D3D3"/><circle cx="1273.8" cy="200.5" r="2.5" fill="#DCC9A3"/><circle cx="1261.0" cy="188.4" r="2.5" fill="#FFA500"/><circle cx="872.3" cy="366.1" r="2.5" fill="#D3D3D3"/><circle cx="913.1" cy="212.8" r="2.5" fill="#D3D3D3"/><circle cx="1112.6" cy="169.6" r="2.5" fill="#D3D3D3"/><circle cx="1264.4" cy="211.5" r="2.5" fill="#DCC9A3"/><circle cx="937.7" cy="242.1" r="2.5" fill="#D3D3D3"/><circle cx="910.4" cy="212.7" r="2.5" fill="#D3D3D3"/><circle cx="922.9" cy="244.0" r="2.5" fill="#D3D3D3"/><circle cx="1215.5" cy="167.7" r="2.5" fill="#DCC9A3"/><circle cx="1197.8" cy="162.9" r="2.5" fill="#DCC9A3"/><circle cx="1144.1" cy="158.4" r="2.5" fill="#FFA500"/><circle cx="864.7" cy="421.2" r="2.5" fill="#A6BEA6"/><circle cx="835.6" cy="358.1" r="2.5" fill="#D3D3D3"/><circle cx="937.3" cy="261.9" r="2.5" fill="#D3D3D3"/><circle cx="1184.2" cy="292.7" r="2.5" fill="#FFA500"/><circle cx="1098.3" cy="178.2" r="2.5" fill="#D3D3D3"/><circle cx="937.3" cy="259.1" r="2.5" fill="#D3D3D3"/><circle cx="948.2" cy="381.1" r="2.5" fill="#A6BEA6"/><circle cx="863.8" cy="414.3" r="2.5" fill="#D3D3D3"/><circle cx="1093.5" cy="179.6" r="2.5" fill="#D3D3D3"/><circle cx="1180.8" cy="273.6" r="2.5" fill="#FFA500"/><circle cx="913.2" cy="237.6" r="2.5" fill="#D3D3D3"/><circle cx="926.8" cy="256.2" r="2.5" fill="#D3D3D3"/><circle cx="1183.3" cy="156.8" r="2.5" fill="#DCC9A3"/><circle cx="917.2" cy="395.2" r="2.5" fill="#A6BEA6"/><circle cx="1148.4" cy="256.1" r="2.5" fill="#FFA500"/><circle cx="973.2" cy="422.6" r="2.5" fill="#D3D3D3"/><circle cx="943.6" cy="260.9" r="2.5" fill="#D3D3D3"/><circle cx="1168.0" cy="275.8" r="2.5" fill="#FFA500"/><circle cx="885.6" cy="421.1" r="2.5" fill="#A6BEA6"/><circle cx="1157.3" cy="152.0" r="2.5" fill="#DCC9A3"/><circle cx="887.5" cy="288.3" r="2.5" fill="#D3D3D3"/><circle cx="1256.2" cy="291.1" r="2.5" fill="#FFA500"/><circle cx="946.3" cy="432.7" r="2.5" fill="#A6BEA6"/><circle cx="1265.0" cy="209.6" r="2.5" fill="#FFA500"/><circle cx="937.6" cy="303.1" r="2.5" fill="#D3D3D3"/><circle cx="903.0" cy="268.6" r="2.5" fill="#D3D3D3"/><circle cx="1095.1" cy="174.4" r="2.5" fill="#D3D3D3"/><circle cx="910.0" cy="290.8" r="2.5" fill="#D3D3D3"/><circle cx="1160.5" cy="274.0" r="2.5" fill="#D3D3D3"/><circle cx="847.8" cy="351.5" r="2.5" fill="#D3D3D3"/><circle cx="874.3" cy="357.8" r="2.5" fill="#DCC9A3"/><circle cx="844.7" cy="385.3" r="2.5" fill="#A6BEA6"/><circle cx="1105.3" cy="164.6" r="2.5" fill="#DCC9A3"/><circle cx="881.4" cy="266.4" r="2.5" fill="#A6BEA6"/><circle cx="918.4" cy="432.2" r="2.5" fill="#D3D3D3"/><circle cx="891.9" cy="286.7" r="2.5" fill="#D3D3D3"/><circle cx="827.0" cy="347.6" r="2.5" fill="#A6BEA6"/><circle cx="1261.2" cy="215.1" r="2.5" fill="#DCC9A3"/><circle cx="923.7" cy="295.6" r="2.5" fill="#D3D3D3"/><circle cx="956.2" cy="239.8" r="2.5" fill="#D3D3D3"/><circle cx="1173.3" cy="271.6" r="2.5" fill="#FFA500"/><circle cx="1254.9" cy="296.5" r="2.5" fill="#FFA500"/><circle cx="930.5" cy="256.1" r="2.5" fill="#D3D3D3"/><circle cx="927.9" cy="439.6" r="2.5" fill="#A6BEA6"/><circle cx="942.9" cy="223.2" r="2.5" fill="#D3D3D3"/><circle cx="903.6" cy="298.9" r="2.5" fill="#D3D3D3"/><circle cx="974.8" cy="430.4" r="2.5" fill="#D3D3D3"/><circle cx="1218.6" cy="304.2" r="2.5" fill="#FFA500"/><circle cx="929.2" cy="278.0" r="2.5" fill="#D3D3D3"/><circle cx="1212.1" cy="168.6" r="2.5" fill="#DCC9A3"/><circle cx="1189.6" cy="278.4" r="2.5" fill="#D3D3D3"/><circle cx="1148.1" cy="260.7" r="2.5" fill="#FFA500"/><circle cx="924.7" cy="274.5" r="2.5" fill="#D3D3D3"/><circle cx="907.0" cy="268.3" r="2.5" fill="#D3D3D3"/><circle cx="950.4" cy="386.6" r="2.5" fill="#D3D3D3"/><circle cx="896.9" cy="264.6" r="2.5" fill="#D3D3D3"/><circle cx="938.6" cy="223.2" r="2.5" fill="#D3D3D3"/><circle cx="834.4" cy="383.5" r="2.5" fill="#D3D3D3"/><circle cx="922.1" cy="295.4" r="2.5" fill="#D3D3D3"/><circle cx="861.5" cy="338.4" r="2.5" fill="#D3D3D3"/><circle cx="921.2" cy="360.3" r="2.5" fill="#A6BEA6"/><circle cx="919.1" cy="393.8" r="2.5" fill="#A6BEA6"/><circle cx="900.7" cy="238.0" r="2.5" fill="#D3D3D3"/><circle cx="1271.6" cy="287.5" r="2.5" fill="#FFA500"/><circle cx="934.2" cy="440.4" r="2.5" fill="#A6BEA6"/><circle cx="920.7" cy="365.4" r="2.5" fill="#A6BEA6"/><circle cx="941.4" cy="244.3" r="2.5" fill="#D3D3D3"/><circle cx="883.8" cy="294.8" r="2.5" fill="#D3D3D3"/><circle cx="920.1" cy="359.7" r="2.5" fill="#A6BEA6"/><circle cx="908.5" cy="239.1" r="2.5" fill="#D3D3D3"/><circle cx="850.7" cy="299.9" r="2.5" fill="#A6BEA6"/><circle cx="1264.4" cy="290.9" r="2.5" fill="#FFA500"/><circle cx="921.4" cy="371.4" r="2.5" fill="#A6BEA6"/><circle cx="926.3" cy="304.6" r="2.5" fill="#D3D3D3"/><circle cx="1287.7" cy="259.5" r="2.5" fill="#FFA500"/><circle cx="1193.9" cy="284.0" r="2.5" fill="#FFA500"/><circle cx="1182.5" cy="288.1" r="2.5" fill="#FFA500"/><circle cx="868.4" cy="424.7" r="2.5" fill="#DCC9A3"/><circle cx="1099.7" cy="176.5" r="2.5" fill="#D3D3D3"/><circle cx="920.0" cy="385.5" r="2.5" fill="#A6BEA6"/><circle cx="890.2" cy="286.0" r="2.5" fill="#D3D3D3"/><circle cx="1270.7" cy="257.0" r="2.5" fill="#FFA500"/><circle cx="1277.0" cy="206.2" r="2.5" fill="#DCC9A3"/><circle cx="901.5" cy="324.9" r="2.5" fill="#D3D3D3"/><circle cx="1257.3" cy="295.6" r="2.5" fill="#DCC9A3"/><circle cx="853.3" cy="414.1" r="2.5" fill="#A6BEA6"/><circle cx="830.9" cy="386.0" r="2.5" fill="#A6BEA6"/><circle cx="880.7" cy="347.7" r="2.5" fill="#A6BEA6"/><circle cx="873.7" cy="276.1" r="2.5" fill="#D3D3D3"/><circle cx="1275.0" cy="290.6" r="2.5" fill="#FFA500"/><circle cx="886.0" cy="287.6" r="2.5" fill="#D3D3D3"/><circle cx="1258.8" cy="283.6" r="2.5" fill="#FFA500"/><circle cx="1166.8" cy="157.1" r="2.5" fill="#DCC9A3"/><circle cx="905.5" cy="401.8" r="2.5" fill="#D3D3D3"/><circle cx="1253.5" cy="196.0" r="2.5" fill="#FFA500"/><circle cx="892.7" cy="323.1" r="2.5" fill="#D3D3D3"/><circle cx="846.8" cy="324.6" r="2.5" fill="#D3D3D3"/><circle cx="1256.0" cy="293.8" r="2.5" fill="#FFA500"/><circle cx="881.0" cy="267.9" r="2.5" fill="#D3D3D3"/><circle cx="823.8" cy="357.0" r="2.5" fill="#D3D3D3"/><circle cx="908.7" cy="410.6" r="2.5" fill="#A6BEA6"/><circle cx="876.9" cy="410.6" r="2.5" fill="#A6BEA6"/><circle cx="1287.8" cy="268.8" r="2.5" fill="#FFA500"/><circle cx="968.7" cy="441.1" r="2.5" fill="#A6BEA6"/><circle cx="935.3" cy="230.4" r="2.5" fill="#D3D3D3"/><circle cx="820.8" cy="355.2" r="2.5" fill="#A6BEA6"/><circle cx="885.5" cy="361.0" r="2.5" fill="#D3D3D3"/><circle cx="925.3" cy="437.7" r="2.5" fill="#A6BEA6"/><circle cx="1094.2" cy="169.6" r="2.5" fill="#DCC9A3"/><circle cx="1176.8" cy="270.8" r="2.5" fill="#FFA500"/><circle cx="863.7" cy="349.0" r="2.5" fill="#D3D3D3"/><circle cx="878.1" cy="411.1" r="2.5" fill="#A6BEA6"/><circle cx="939.0" cy="439.4" r="2.5" fill="#DCC9A3"/><circle cx="1261.5" cy="288.5" r="2.5" fill="#FFA500"/><circle cx="1270.9" cy="288.4" r="2.5" fill="#FFA500"/><circle cx="983.5" cy="418.5" r="2.5" fill="#D3D3D3"/><circle cx="937.9" cy="228.5" r="2.5" fill="#A6BEA6"/><circle cx="1162.6" cy="159.7" r="2.5" fill="#D3D3D3"/><circle cx="1258.2" cy="291.7" r="2.5" fill="#FFA500"/><circle cx="1214.5" cy="175.3" r="2.5" fill="#FFA500"/><circle cx="1232.5" cy="296.8" r="2.5" fill="#FFA500"/><circle cx="1210.4" cy="168.4" r="2.5" fill="#DCC9A3"/><circle cx="846.6" cy="320.7" r="2.5" fill="#D3D3D3"/><circle cx="899.6" cy="302.0" r="2.5" fill="#D3D3D3"/><circle cx="1168.6" cy="271.6" r="2.5" fill="#FFA500"/><circle cx="973.7" cy="419.9" r="2.5" fill="#A6BEA6"/><circle cx="880.0" cy="240.2" r="2.5" fill="#D3D3D3"/><circle cx="944.2" cy="442.8" r="2.5" fill="#C6C69A"/><circle cx="885.5" cy="300.4" r="2.5" fill="#D3D3D3"/><circle cx="887.6" cy="246.0" r="2.5" fill="#D3D3D3"/><circle cx="882.1" cy="351.9" r="2.5" fill="#D3D3D3"/><circle cx="1284.3" cy="249.0" r="2.5" fill="#FFA500"/><circle cx="1211.5" cy="169.0" r="2.5" fill="#DCC9A3"/><circle cx="1277.6" cy="280.3" r="2.5" fill="#FFA500"/><circle cx="948.3" cy="235.4" r="2.5" fill="#D3D3D3"/><circle cx="1261.8" cy="259.3" r="2.5" fill="#FFA500"/><circle cx="1153.9" cy="266.0" r="2.5" fill="#FFA500"/><circle cx="873.2" cy="357.7" r="2.5" fill="#D3D3D3"/><circle cx="1266.8" cy="201.0" r="2.5" fill="#D3D3D3"/><circle cx="849.3" cy="417.0" r="2.5" fill="#A6BEA6"/><circle cx="966.4" cy="433.2" r="2.5" fill="#DCC9A3"/><circle cx="1168.5" cy="157.5" r="2.5" fill="#DCC9A3"/><circle cx="964.3" cy="429.7" r="2.5" fill="#A6BEA6"/><circle cx="964.9" cy="433.8" r="2.5" fill="#A6BEA6"/><circle cx="1148.1" cy="258.6" r="2.5" fill="#DCC9A3"/><circle cx="1269.9" cy="271.8" r="2.5" fill="#FFA500"/><circle cx="882.0" cy="262.8" r="2.5" fill="#D3D3D3"/><circle cx="853.5" cy="414.1" r="2.5" fill="#D3D3D3"/><circle cx="1148.6" cy="270.8" r="2.5" fill="#D3D3D3"/><circle cx="1256.2" cy="287.0" r="2.5" fill="#FFA500"/><circle cx="938.4" cy="443.6" r="2.5" fill="#A6BEA6"/><circle cx="1189.8" cy="288.2" r="2.5" fill="#FFA500"/><circle cx="870.0" cy="325.5" r="2.5" fill="#A6BEA6"/><circle cx="913.5" cy="391.9" r="2.5" fill="#D3D3D3"/><circle cx="1110.0" cy="169.2" r="2.5" fill="#FFA500"/><circle cx="1134.5" cy="162.3" r="2.5" fill="#FFA500"/><circle cx="913.1" cy="304.0" r="2.5" fill="#D3D3D3"/><circle cx="1266.9" cy="293.2" r="2.5" fill="#FFA500"/><circle cx="835.8" cy="378.2" r="2.5" fill="#A6BEA6"/><circle cx="882.7" cy="218.1" r="2.5" fill="#D3D3D3"/><circle cx="1139.1" cy="157.4" r="2.5" fill="#DCC9A3"/><circle cx="986.6" cy="415.1" r="2.5" fill="#D3D3D3"/><circle cx="903.5" cy="285.5" r="2.5" fill="#D3D3D3"/><circle cx="883.0" cy="223.6" r="2.5" fill="#D3D3D3"/><circle cx="1215.4" cy="295.2" r="2.5" fill="#FFA500"/><circle cx="868.5" cy="288.6" r="2.5" fill="#D3D3D3"/><circle cx="941.0" cy="269.7" r="2.5" fill="#D3D3D3"/><circle cx="882.6" cy="279.0" r="2.5" fill="#D3D3D3"/><circle cx="1231.1" cy="287.6" r="2.5" fill="#FFA500"/><circle cx="850.2" cy="301.1" r="2.5" fill="#D3D3D3"/><circle cx="1101.1" cy="177.4" r="2.5" fill="#FFA500"/><circle cx="1226.6" cy="299.4" r="2.5" fill="#FFA500"/><circle cx="927.4" cy="257.0" r="2.5" fill="#D3D3D3"/><circle cx="896.7" cy="294.9" r="2.5" fill="#FFA500"/><circle cx="899.7" cy="417.7" r="2.5" fill="#A6BEA6"/><circle cx="882.5" cy="410.1" r="2.5" fill="#D3D3D3"/><circle cx="958.2" cy="440.3" r="2.5" fill="#D3D3D3"/><circle cx="1257.4" cy="280.0" r="2.5" fill="#FFA500"/><circle cx="906.0" cy="211.9" r="2.5" fill="#A6BEA6"/><circle cx="1280.5" cy="557.3" r="2.5" fill="#D3D3D3"/><circle cx="1276.9" cy="557.5" r="2.5" fill="#D3D3D3"/><circle cx="1286.2" cy="557.5" r="2.5" fill="#D3D3D3"/><circle cx="1280.1" cy="559.2" r="2.5" fill="#D3D3D3"/><circle cx="1282.6" cy="560.3" r="2.5" fill="#D3D3D3"/><circle cx="1281.8" cy="558.2" r="2.5" fill="#D3D3D3"/><circle cx="1283.8" cy="557.4" r="2.5" fill="#D3D3D3"/><circle cx="1288.4" cy="558.0" r="2.5" fill="#D3D3D3"/><circle cx="1280.2" cy="559.2" r="2.5" fill="#D3D3D3"/><circle cx="1276.4" cy="559.1" r="2.5" fill="#D3D3D3"/><circle cx="1287.6" cy="557.9" r="2.5" fill="#D3D3D3"/><circle cx="1289.1" cy="558.6" r="2.5" fill="#D3D3D3"/><circle cx="1286.4" cy="558.4" r="2.5" fill="#D3D3D3"/><circle cx="1280.4" cy="557.6" r="2.5" fill="#D3D3D3"/><circle cx="1305.5" cy="562.0" r="2.5" fill="#D3D3D3"/><circle cx="1310.7" cy="565.0" r="2.5" fill="#D3D3D3"/><circle cx="1312.4" cy="564.3" r="2.5" fill="#D3D3D3"/><circle cx="1308.8" cy="561.6" r="2.5" fill="#D3D3D3"/><circle cx="1313.3" cy="566.7" r="2.5" fill="#D3D3D3"/><circle cx="1314.8" cy="565.7" r="2.5" fill="#D3D3D3"/><circle cx="1306.2" cy="561.8" r="2.5" fill="#D3D3D3"/><circle cx="843.5" cy="356.3" r="2.5" fill="#006400"/><circle cx="890.2" cy="219.7" r="2.5" fill="#006400"/><circle cx="922.5" cy="233.6" r="2.5" fill="#006400"/><circle cx="825.7" cy="328.8" r="2.5" fill="#006400"/><circle cx="932.9" cy="418.9" r="2.5" fill="#006400"/><circle cx="954.5" cy="394.2" r="2.5" fill="#006400"/><circle cx="859.3" cy="327.9" r="2.5" fill="#006400"/><circle cx="935.3" cy="260.3" r="2.5" fill="#006400"/><circle cx="827.6" cy="391.4" r="2.5" fill="#006400"/><circle cx="940.6" cy="444.7" r="2.5" fill="#006400"/><circle cx="852.1" cy="341.2" r="2.5" fill="#006400"/><circle cx="900.1" cy="415.6" r="2.5" fill="#006400"/><circle cx="899.4" cy="412.1" r="2.5" fill="#006400"/><circle cx="845.6" cy="371.3" r="2.5" fill="#006400"/><circle cx="971.1" cy="422.5" r="2.5" fill="#006400"/><circle cx="869.9" cy="347.6" r="2.5" fill="#006400"/><circle cx="897.6" cy="273.6" r="2.5" fill="#006400"/><circle cx="881.4" cy="419.5" r="2.5" fill="#006400"/><circle cx="871.6" cy="347.3" r="2.5" fill="#006400"/><circle cx="882.1" cy="330.7" r="2.5" fill="#006400"/><circle cx="962.8" cy="407.4" r="2.5" fill="#006400"/><circle cx="913.8" cy="380.6" r="2.5" fill="#006400"/><circle cx="965.6" cy="424.6" r="2.5" fill="#006400"/><circle cx="961.8" cy="404.1" r="2.5" fill="#006400"/><circle cx="982.9" cy="413.5" r="2.5" fill="#006400"/><circle cx="886.5" cy="353.3" r="2.5" fill="#006400"/><circle cx="878.4" cy="358.8" r="2.5" fill="#006400"/><circle cx="873.5" cy="358.8" r="2.5" fill="#006400"/><circle cx="922.4" cy="324.2" r="2.5" fill="#006400"/><circle cx="849.5" cy="333.4" r="2.5" fill="#006400"/><circle cx="924.6" cy="437.9" r="2.5" fill="#006400"/><circle cx="922.5" cy="357.4" r="2.5" fill="#006400"/><circle cx="891.9" cy="420.7" r="2.5" fill="#006400"/><circle cx="926.1" cy="281.7" r="2.5" fill="#006400"/><circle cx="902.6" cy="211.8" r="2.5" fill="#006400"/><circle cx="980.9" cy="427.0" r="2.5" fill="#006400"/><circle cx="838.1" cy="326.1" r="2.5" fill="#006400"/><circle cx="956.9" cy="390.3" r="2.5" fill="#006400"/><circle cx="974.0" cy="426.1" r="2.5" fill="#006400"/><circle cx="865.0" cy="325.0" r="2.5" fill="#006400"/><circle cx="917.3" cy="387.0" r="2.5" fill="#006400"/><circle cx="883.5" cy="248.8" r="2.5" fill="#006400"/><circle cx="934.2" cy="260.0" r="2.5" fill="#006400"/><circle cx="917.4" cy="222.3" r="2.5" fill="#006400"/><circle cx="866.0" cy="420.3" r="2.5" fill="#006400"/><circle cx="961.0" cy="432.5" r="2.5" fill="#006400"/><circle cx="882.4" cy="423.0" r="2.5" fill="#006400"/><circle cx="832.5" cy="320.3" r="2.5" fill="#006400"/><circle cx="918.9" cy="373.8" r="2.5" fill="#006400"/><circle cx="925.9" cy="439.6" r="2.5" fill="#006400"/><circle cx="895.7" cy="296.3" r="2.5" fill="#006400"/><circle cx="892.9" cy="299.4" r="2.5" fill="#006400"/><circle cx="861.2" cy="424.8" r="2.5" fill="#006400"/><circle cx="924.1" cy="260.0" r="2.5" fill="#006400"/><circle cx="883.3" cy="412.1" r="2.5" fill="#006400"/><circle cx="955.9" cy="383.2" r="2.5" fill="#006400"/><circle cx="927.3" cy="293.9" r="2.5" fill="#006400"/><circle cx="840.5" cy="417.8" r="2.5" fill="#006400"/><circle cx="881.9" cy="337.4" r="2.5" fill="#006400"/><circle cx="972.9" cy="417.2" r="2.5" fill="#006400"/><circle cx="914.5" cy="367.3" r="2.5" fill="#006400"/><circle cx="888.7" cy="292.7" r="2.5" fill="#006400"/><circle cx="876.9" cy="364.5" r="2.5" fill="#006400"/><circle cx="855.8" cy="314.0" r="2.5" fill="#006400"/><circle cx="884.7" cy="346.8" r="2.5" fill="#006400"/><circle cx="920.5" cy="275.1" r="2.5" fill="#006400"/><circle cx="901.1" cy="232.9" r="2.5" fill="#006400"/><circle cx="895.7" cy="236.5" r="2.5" fill="#006400"/><circle cx="915.0" cy="378.1" r="2.5" fill="#006400"/><circle cx="892.9" cy="337.6" r="2.5" fill="#006400"/><circle cx="831.3" cy="378.4" r="2.5" fill="#006400"/><circle cx="984.9" cy="427.1" r="2.5" fill="#006400"/><circle cx="940.1" cy="235.3" r="2.5" fill="#006400"/><circle cx="922.7" cy="268.5" r="2.5" fill="#006400"/><circle cx="908.6" cy="244.8" r="2.5" fill="#006400"/><circle cx="928.3" cy="269.9" r="2.5" fill="#006400"/><circle cx="965.9" cy="407.0" r="2.5" fill="#006400"/><circle cx="917.6" cy="392.6" r="2.5" fill="#006400"/><circle cx="974.9" cy="432.2" r="2.5" fill="#006400"/><circle cx="922.6" cy="350.7" r="2.5" fill="#006400"/><circle cx="841.4" cy="392.5" r="2.5" fill="#006400"/><circle cx="893.9" cy="303.7" r="2.5" fill="#006400"/><circle cx="884.2" cy="340.8" r="2.5" fill="#006400"/><circle cx="946.4" cy="237.4" r="2.5" fill="#006400"/><circle cx="841.5" cy="365.2" r="2.5" fill="#006400"/></g><g clip-path="url(#cg)"><circle cx="879.5" cy="786.2" r="1.35" fill="#64B200"/><circle cx="1315.3" cy="854.5" r="1.35" fill="#00BADE"/><circle cx="921.0" cy="916.0" r="1.35" fill="#00C1A7"/><circle cx="825.5" cy="923.1" r="1.35" fill="#AEA200"/><circle cx="883.1" cy="806.8" r="1.35" fill="#64B200"/><circle cx="824.2" cy="956.4" r="1.35" fill="#AEA200"/><circle cx="1236.3" cy="863.7" r="1.35" fill="#00BD5C"/><circle cx="893.3" cy="859.5" r="1.35" fill="#F8766D"/><circle cx="816.7" cy="933.4" r="1.35" fill="#AEA200"/><circle cx="1253.3" cy="812.6" r="1.35" fill="#00BD5C"/><circle cx="915.6" cy="828.2" r="1.35" fill="#F8766D"/><circle cx="889.7" cy="806.6" r="1.35" fill="#64B200"/><circle cx="1249.1" cy="864.8" r="1.35" fill="#00BD5C"/><circle cx="887.8" cy="798.9" r="1.35" fill="#64B200"/><circle cx="1107.8" cy="757.1" r="1.35" fill="#DB8E00"/><circle cx="1178.7" cy="833.8" r="1.35" fill="#00BD5C"/><circle cx="829.1" cy="921.3" r="1.35" fill="#AEA200"/><circle cx="846.3" cy="903.8" r="1.35" fill="#AEA200"/><circle cx="1171.4" cy="832.4" r="1.35" fill="#00BD5C"/><circle cx="1164.2" cy="824.6" r="1.35" fill="#00BD5C"/><circle cx="1200.1" cy="850.1" r="1.35" fill="#00BD5C"/><circle cx="1316.0" cy="823.1" r="1.35" fill="#00BADE"/><circle cx="1266.7" cy="867.0" r="1.35" fill="#00BD5C"/><circle cx="881.4" cy="786.2" r="1.35" fill="#64B200"/><circle cx="968.5" cy="997.6" r="1.35" fill="#00A6FF"/><circle cx="830.7" cy="924.8" r="1.35" fill="#AEA200"/><circle cx="1142.0" cy="731.0" r="1.35" fill="#DB8E00"/><circle cx="1303.6" cy="781.4" r="1.35" fill="#B385FF"/><circle cx="837.7" cy="985.3" r="1.35" fill="#00C1A7"/><circle cx="1163.5" cy="715.8" r="1.35" fill="#DB8E00"/><circle cx="1297.5" cy="815.3" r="1.35" fill="#00BADE"/><circle cx="1281.2" cy="863.4" r="1.35" fill="#00BADE"/><circle cx="913.6" cy="796.8" r="1.35" fill="#64B200"/><circle cx="933.4" cy="864.0" r="1.35" fill="#F8766D"/><circle cx="1129.5" cy="740.2" r="1.35" fill="#DB8E00"/><circle cx="1319.0" cy="810.1" r="1.35" fill="#00BADE"/><circle cx="885.1" cy="973.4" r="1.35" fill="#00C1A7"/><circle cx="880.3" cy="876.4" r="1.35" fill="#F8766D"/><circle cx="1300.8" cy="856.9" r="1.35" fill="#00BADE"/><circle cx="948.1" cy="822.3" r="1.35" fill="#64B200"/><circle cx="1281.3" cy="859.8" r="1.35" fill="#00BADE"/><circle cx="886.5" cy="972.0" r="1.35" fill="#00C1A7"/><circle cx="902.2" cy="890.5" r="1.35" fill="#F8766D"/><circle cx="1307.3" cy="828.5" r="1.35" fill="#00BADE"/><circle cx="896.1" cy="837.5" r="1.35" fill="#F8766D"/><circle cx="1183.4" cy="835.7" r="1.35" fill="#00BD5C"/><circle cx="945.5" cy="797.3" r="1.35" fill="#64B200"/><circle cx="870.7" cy="852.5" r="1.35" fill="#F8766D"/><circle cx="907.4" cy="866.8" r="1.35" fill="#F8766D"/><circle cx="861.2" cy="981.3" r="1.35" fill="#00C1A7"/><circle cx="815.8" cy="905.3" r="1.35" fill="#AEA200"/><circle cx="939.5" cy="798.0" r="1.35" fill="#64B200"/><circle cx="1288.3" cy="764.0" r="1.35" fill="#B385FF"/><circle cx="1118.3" cy="751.6" r="1.35" fill="#DB8E00"/><circle cx="920.7" cy="978.4" r="1.35" fill="#00A6FF"/><circle cx="1173.6" cy="715.6" r="1.35" fill="#DB8E00"/><circle cx="948.5" cy="853.3" r="1.35" fill="#F8766D"/><circle cx="865.4" cy="985.4" r="1.35" fill="#00C1A7"/><circle cx="1281.7" cy="753.4" r="1.35" fill="#B385FF"/><circle cx="987.1" cy="988.5" r="1.35" fill="#00A6FF"/><circle cx="877.2" cy="795.7" r="1.35" fill="#64B200"/><circle cx="945.4" cy="792.2" r="1.35" fill="#64B200"/><circle cx="1226.0" cy="726.5" r="1.35" fill="#DB8E00"/><circle cx="915.8" cy="791.1" r="1.35" fill="#64B200"/><circle cx="1276.3" cy="863.1" r="1.35" fill="#00BADE"/><circle cx="917.6" cy="800.0" r="1.35" fill="#64B200"/><circle cx="1203.6" cy="845.3" r="1.35" fill="#00BD5C"/><circle cx="1001.5" cy="887.2" r="1.35" fill="#00C1A7"/><circle cx="936.2" cy="798.2" r="1.35" fill="#64B200"/><circle cx="809.2" cy="894.1" r="1.35" fill="#AEA200"/><circle cx="1113.2" cy="735.5" r="1.35" fill="#DB8E00"/><circle cx="929.2" cy="983.3" r="1.35" fill="#00A6FF"/><circle cx="1173.1" cy="835.7" r="1.35" fill="#00BD5C"/><circle cx="838.2" cy="910.2" r="1.35" fill="#AEA200"/><circle cx="824.8" cy="890.8" r="1.35" fill="#AEA200"/><circle cx="881.2" cy="865.1" r="1.35" fill="#F8766D"/><circle cx="1225.1" cy="849.7" r="1.35" fill="#00BD5C"/><circle cx="1306.5" cy="856.8" r="1.35" fill="#00BADE"/><circle cx="863.7" cy="923.0" r="1.35" fill="#EF67EB"/><circle cx="886.0" cy="855.1" r="1.35" fill="#F8766D"/><circle cx="1117.0" cy="738.2" r="1.35" fill="#DB8E00"/><circle cx="1160.5" cy="729.0" r="1.35" fill="#DB8E00"/><circle cx="1320.0" cy="800.9" r="1.35" fill="#00BADE"/><circle cx="937.5" cy="803.9" r="1.35" fill="#64B200"/><circle cx="858.8" cy="844.4" r="1.35" fill="#F8766D"/><circle cx="848.6" cy="873.2" r="1.35" fill="#AEA200"/><circle cx="823.1" cy="918.1" r="1.35" fill="#AEA200"/><circle cx="1285.1" cy="860.4" r="1.35" fill="#00BADE"/><circle cx="974.1" cy="881.4" r="1.35" fill="#00C1A7"/><circle cx="1289.1" cy="757.3" r="1.35" fill="#B385FF"/><circle cx="928.4" cy="983.6" r="1.35" fill="#00A6FF"/><circle cx="808.6" cy="899.2" r="1.35" fill="#AEA200"/><circle cx="814.2" cy="894.2" r="1.35" fill="#AEA200"/><circle cx="1177.1" cy="830.5" r="1.35" fill="#00BD5C"/><circle cx="978.5" cy="996.2" r="1.35" fill="#00A6FF"/><circle cx="912.8" cy="990.9" r="1.35" fill="#00A6FF"/><circle cx="936.0" cy="998.6" r="1.35" fill="#00A6FF"/><circle cx="1216.3" cy="859.6" r="1.35" fill="#00BD5C"/><circle cx="1294.2" cy="814.1" r="1.35" fill="#00BADE"/><circle cx="941.4" cy="820.4" r="1.35" fill="#64B200"/><circle cx="968.1" cy="974.7" r="1.35" fill="#EF67EB"/><circle cx="1295.0" cy="817.7" r="1.35" fill="#00BADE"/><circle cx="1130.6" cy="748.6" r="1.35" fill="#DB8E00"/><circle cx="953.3" cy="958.8" r="1.35" fill="#EF67EB"/><circle cx="944.5" cy="981.5" r="1.35" fill="#00A6FF"/><circle cx="1315.4" cy="853.5" r="1.35" fill="#00BADE"/><circle cx="909.0" cy="851.3" r="1.35" fill="#F8766D"/><circle cx="816.7" cy="944.1" r="1.35" fill="#AEA200"/><circle cx="1322.3" cy="838.2" r="1.35" fill="#00BADE"/><circle cx="813.9" cy="948.3" r="1.35" fill="#AEA200"/><circle cx="1175.1" cy="830.3" r="1.35" fill="#00BD5C"/><circle cx="885.5" cy="833.2" r="1.35" fill="#F8766D"/><circle cx="940.2" cy="818.9" r="1.35" fill="#64B200"/><circle cx="836.8" cy="980.9" r="1.35" fill="#00C1A7"/><circle cx="1293.2" cy="767.0" r="1.35" fill="#B385FF"/><circle cx="1301.2" cy="853.6" r="1.35" fill="#00BADE"/><circle cx="1287.8" cy="859.5" r="1.35" fill="#00BADE"/><circle cx="821.5" cy="887.1" r="1.35" fill="#AEA200"/><circle cx="862.9" cy="919.3" r="1.35" fill="#EF67EB"/><circle cx="846.9" cy="893.3" r="1.35" fill="#AEA200"/><circle cx="1311.0" cy="769.4" r="1.35" fill="#B385FF"/><circle cx="963.7" cy="975.5" r="1.35" fill="#EF67EB"/><circle cx="962.8" cy="986.7" r="1.35" fill="#00A6FF"/><circle cx="829.6" cy="941.4" r="1.35" fill="#AEA200"/><circle cx="1201.5" cy="852.4" r="1.35" fill="#00BD5C"/><circle cx="898.7" cy="804.4" r="1.35" fill="#64B200"/><circle cx="1293.6" cy="839.3" r="1.35" fill="#00BADE"/><circle cx="1294.9" cy="841.4" r="1.35" fill="#00BADE"/><circle cx="892.8" cy="806.8" r="1.35" fill="#64B200"/><circle cx="912.5" cy="933.3" r="1.35" fill="#00C1A7"/><circle cx="846.8" cy="920.4" r="1.35" fill="#EF67EB"/><circle cx="1217.6" cy="731.3" r="1.35" fill="#DB8E00"/><circle cx="1280.3" cy="752.7" r="1.35" fill="#B385FF"/><circle cx="873.3" cy="868.7" r="1.35" fill="#F8766D"/><circle cx="976.5" cy="983.5" r="1.35" fill="#00A6FF"/><circle cx="829.9" cy="911.0" r="1.35" fill="#AEA200"/><circle cx="926.4" cy="993.8" r="1.35" fill="#00A6FF"/><circle cx="985.9" cy="987.5" r="1.35" fill="#00A6FF"/><circle cx="879.2" cy="923.6" r="1.35" fill="#EF67EB"/><circle cx="1217.3" cy="856.9" r="1.35" fill="#00BD5C"/><circle cx="829.4" cy="906.5" r="1.35" fill="#AEA200"/><circle cx="1307.0" cy="789.2" r="1.35" fill="#B385FF"/><circle cx="1250.7" cy="865.0" r="1.35" fill="#00BD5C"/><circle cx="811.9" cy="899.2" r="1.35" fill="#AEA200"/><circle cx="1304.8" cy="782.1" r="1.35" fill="#B385FF"/><circle cx="928.4" cy="991.2" r="1.35" fill="#00A6FF"/><circle cx="951.8" cy="805.4" r="1.35" fill="#64B200"/><circle cx="1244.1" cy="858.5" r="1.35" fill="#00BD5C"/><circle cx="1302.5" cy="834.9" r="1.35" fill="#00BADE"/><circle cx="854.3" cy="920.8" r="1.35" fill="#EF67EB"/><circle cx="873.2" cy="784.6" r="1.35" fill="#64B200"/><circle cx="1120.3" cy="738.6" r="1.35" fill="#DB8E00"/><circle cx="915.6" cy="861.5" r="1.35" fill="#F8766D"/><circle cx="1293.0" cy="778.9" r="1.35" fill="#B385FF"/><circle cx="1305.3" cy="770.1" r="1.35" fill="#B385FF"/><circle cx="867.0" cy="845.7" r="1.35" fill="#F8766D"/><circle cx="922.3" cy="991.6" r="1.35" fill="#00A6FF"/><circle cx="1186.3" cy="829.9" r="1.35" fill="#00BD5C"/><circle cx="1268.1" cy="866.5" r="1.35" fill="#00BD5C"/><circle cx="961.5" cy="962.0" r="1.35" fill="#EF67EB"/><circle cx="1313.7" cy="767.4" r="1.35" fill="#B385FF"/><circle cx="931.9" cy="826.4" r="1.35" fill="#F8766D"/><circle cx="842.1" cy="908.5" r="1.35" fill="#AEA200"/><circle cx="811.4" cy="956.0" r="1.35" fill="#AEA200"/><circle cx="958.2" cy="1000.9" r="1.35" fill="#00A6FF"/><circle cx="1301.4" cy="806.4" r="1.35" fill="#00BADE"/><circle cx="920.6" cy="980.8" r="1.35" fill="#00A6FF"/><circle cx="1298.1" cy="851.4" r="1.35" fill="#00BADE"/><circle cx="947.8" cy="995.6" r="1.35" fill="#00A6FF"/><circle cx="1112.7" cy="744.8" r="1.35" fill="#DB8E00"/><circle cx="895.2" cy="880.4" r="1.35" fill="#F8766D"/><circle cx="906.7" cy="805.5" r="1.35" fill="#64B200"/><circle cx="1179.0" cy="716.4" r="1.35" fill="#DB8E00"/><circle cx="919.8" cy="826.6" r="1.35" fill="#F8766D"/><circle cx="886.9" cy="807.1" r="1.35" fill="#64B200"/><circle cx="934.5" cy="996.3" r="1.35" fill="#00A6FF"/><circle cx="1285.0" cy="755.3" r="1.35" fill="#B385FF"/><circle cx="1192.7" cy="845.4" r="1.35" fill="#00BD5C"/><circle cx="937.9" cy="1008.7" r="1.35" fill="#00A6FF"/><circle cx="1146.7" cy="730.2" r="1.35" fill="#DB8E00"/><circle cx="828.1" cy="892.9" r="1.35" fill="#AEA200"/><circle cx="971.7" cy="991.7" r="1.35" fill="#00A6FF"/><circle cx="863.8" cy="871.1" r="1.35" fill="#F8766D"/><circle cx="1218.6" cy="726.0" r="1.35" fill="#DB8E00"/><circle cx="905.6" cy="852.9" r="1.35" fill="#F8766D"/><circle cx="1104.2" cy="748.3" r="1.35" fill="#DB8E00"/><circle cx="805.4" cy="925.4" r="1.35" fill="#AEA200"/><circle cx="966.9" cy="982.1" r="1.35" fill="#00A6FF"/><circle cx="811.4" cy="948.3" r="1.35" fill="#AEA200"/><circle cx="860.4" cy="904.7" r="1.35" fill="#AEA200"/><circle cx="1304.8" cy="833.7" r="1.35" fill="#00BADE"/><circle cx="969.5" cy="992.3" r="1.35" fill="#00A6FF"/><circle cx="860.5" cy="847.6" r="1.35" fill="#F8766D"/><circle cx="916.2" cy="921.9" r="1.35" fill="#00C1A7"/><circle cx="1296.5" cy="794.5" r="1.35" fill="#00BADE"/><circle cx="954.3" cy="986.8" r="1.35" fill="#00A6FF"/><circle cx="1101.1" cy="752.6" r="1.35" fill="#DB8E00"/><circle cx="929.6" cy="825.5" r="1.35" fill="#F8766D"/><circle cx="912.2" cy="914.9" r="1.35" fill="#00C1A7"/><circle cx="838.8" cy="906.4" r="1.35" fill="#AEA200"/><circle cx="805.8" cy="910.6" r="1.35" fill="#AEA200"/><circle cx="886.6" cy="792.4" r="1.35" fill="#64B200"/><circle cx="1164.1" cy="817.4" r="1.35" fill="#00BD5C"/><circle cx="892.4" cy="979.9" r="1.35" fill="#00C1A7"/><circle cx="905.0" cy="801.4" r="1.35" fill="#64B200"/><circle cx="1118.8" cy="738.1" r="1.35" fill="#DB8E00"/><circle cx="900.5" cy="859.6" r="1.35" fill="#F8766D"/><circle cx="804.7" cy="906.7" r="1.35" fill="#AEA200"/><circle cx="1282.0" cy="857.2" r="1.35" fill="#00BADE"/><circle cx="928.3" cy="852.7" r="1.35" fill="#F8766D"/><circle cx="1312.4" cy="843.0" r="1.35" fill="#00BADE"/><circle cx="1143.0" cy="727.6" r="1.35" fill="#DB8E00"/><circle cx="805.7" cy="913.7" r="1.35" fill="#AEA200"/><circle cx="993.1" cy="888.2" r="1.35" fill="#00C1A7"/><circle cx="888.3" cy="811.2" r="1.35" fill="#64B200"/><circle cx="896.1" cy="862.4" r="1.35" fill="#F8766D"/><circle cx="1306.5" cy="854.4" r="1.35" fill="#00BADE"/><circle cx="898.0" cy="835.4" r="1.35" fill="#F8766D"/><circle cx="1322.3" cy="802.2" r="1.35" fill="#00BADE"/><circle cx="855.1" cy="926.4" r="1.35" fill="#EF67EB"/><circle cx="1323.2" cy="830.6" r="1.35" fill="#00BADE"/><circle cx="812.4" cy="952.7" r="1.35" fill="#AEA200"/><circle cx="1155.5" cy="722.3" r="1.35" fill="#DB8E00"/><circle cx="919.0" cy="800.1" r="1.35" fill="#64B200"/><circle cx="912.8" cy="924.3" r="1.35" fill="#00C1A7"/><circle cx="962.6" cy="997.1" r="1.35" fill="#00A6FF"/><circle cx="829.8" cy="957.1" r="1.35" fill="#AEA200"/><circle cx="941.3" cy="811.6" r="1.35" fill="#64B200"/><circle cx="1310.4" cy="837.6" r="1.35" fill="#00BADE"/><circle cx="1186.7" cy="725.2" r="1.35" fill="#DB8E00"/><circle cx="880.0" cy="836.0" r="1.35" fill="#F8766D"/><circle cx="850.6" cy="889.4" r="1.35" fill="#AEA200"/><circle cx="1306.9" cy="851.9" r="1.35" fill="#00BADE"/><circle cx="1209.2" cy="855.2" r="1.35" fill="#00BD5C"/><circle cx="953.4" cy="811.1" r="1.35" fill="#64B200"/><circle cx="865.4" cy="905.5" r="1.35" fill="#AEA200"/><circle cx="1168.8" cy="823.0" r="1.35" fill="#00BD5C"/><circle cx="1291.3" cy="768.8" r="1.35" fill="#B385FF"/><circle cx="901.8" cy="976.8" r="1.35" fill="#00C1A7"/><circle cx="889.8" cy="780.2" r="1.35" fill="#64B200"/><circle cx="1106.7" cy="750.3" r="1.35" fill="#DB8E00"/><circle cx="941.0" cy="799.3" r="1.35" fill="#64B200"/><circle cx="817.9" cy="929.6" r="1.35" fill="#AEA200"/><circle cx="848.3" cy="987.9" r="1.35" fill="#00C1A7"/><circle cx="967.2" cy="993.9" r="1.35" fill="#00A6FF"/><circle cx="1236.5" cy="817.1" r="1.35" fill="#00BD5C"/><circle cx="954.0" cy="1000.8" r="1.35" fill="#00A6FF"/><circle cx="888.8" cy="856.0" r="1.35" fill="#F8766D"/><circle cx="891.7" cy="976.5" r="1.35" fill="#00C1A7"/><circle cx="993.1" cy="889.1" r="1.35" fill="#00C1A7"/><circle cx="907.0" cy="945.3" r="1.35" fill="#00C1A7"/><circle cx="1162.3" cy="833.7" r="1.35" fill="#00BD5C"/><circle cx="847.7" cy="884.9" r="1.35" fill="#AEA200"/><circle cx="910.1" cy="988.1" r="1.35" fill="#00A6FF"/><circle cx="1130.5" cy="730.2" r="1.35" fill="#DB8E00"/><circle cx="893.1" cy="794.9" r="1.35" fill="#64B200"/><circle cx="926.3" cy="858.0" r="1.35" fill="#F8766D"/><circle cx="926.8" cy="801.4" r="1.35" fill="#64B200"/><circle cx="903.4" cy="806.9" r="1.35" fill="#64B200"/><circle cx="933.4" cy="797.7" r="1.35" fill="#64B200"/><circle cx="892.2" cy="790.3" r="1.35" fill="#64B200"/><circle cx="957.2" cy="978.8" r="1.35" fill="#00A6FF"/><circle cx="1179.2" cy="723.2" r="1.35" fill="#DB8E00"/><circle cx="1184.3" cy="827.6" r="1.35" fill="#00BD5C"/><circle cx="1299.7" cy="810.6" r="1.35" fill="#00BADE"/><circle cx="1247.8" cy="871.9" r="1.35" fill="#00BD5C"/><circle cx="917.6" cy="848.1" r="1.35" fill="#F8766D"/><circle cx="861.0" cy="836.4" r="1.35" fill="#F8766D"/><circle cx="1210.5" cy="734.9" r="1.35" fill="#DB8E00"/><circle cx="922.1" cy="879.5" r="1.35" fill="#F8766D"/><circle cx="1176.3" cy="823.4" r="1.35" fill="#00BD5C"/><circle cx="879.5" cy="977.4" r="1.35" fill="#00C1A7"/><circle cx="949.6" cy="1002.2" r="1.35" fill="#00A6FF"/><circle cx="835.8" cy="888.8" r="1.35" fill="#AEA200"/><circle cx="831.5" cy="936.2" r="1.35" fill="#AEA200"/><circle cx="1306.3" cy="833.7" r="1.35" fill="#00BADE"/><circle cx="1243.5" cy="872.1" r="1.35" fill="#00BD5C"/><circle cx="961.7" cy="875.5" r="1.35" fill="#00C1A7"/><circle cx="837.0" cy="879.3" r="1.35" fill="#AEA200"/><circle cx="1156.2" cy="723.2" r="1.35" fill="#DB8E00"/><circle cx="868.6" cy="857.2" r="1.35" fill="#F8766D"/><circle cx="849.6" cy="988.5" r="1.35" fill="#00C1A7"/><circle cx="1117.9" cy="739.9" r="1.35" fill="#DB8E00"/><circle cx="1315.6" cy="852.0" r="1.35" fill="#00BADE"/><circle cx="933.5" cy="826.7" r="1.35" fill="#F8766D"/><circle cx="1292.7" cy="842.6" r="1.35" fill="#00BADE"/><circle cx="971.9" cy="986.7" r="1.35" fill="#00A6FF"/><circle cx="1313.0" cy="784.5" r="1.35" fill="#B385FF"/><circle cx="1318.2" cy="849.2" r="1.35" fill="#00BADE"/><circle cx="914.5" cy="914.6" r="1.35" fill="#00C1A7"/><circle cx="871.9" cy="815.5" r="1.35" fill="#64B200"/><circle cx="963.4" cy="966.4" r="1.35" fill="#EF67EB"/><circle cx="1127.2" cy="732.4" r="1.35" fill="#DB8E00"/><circle cx="940.7" cy="1004.1" r="1.35" fill="#00A6FF"/><circle cx="970.8" cy="987.1" r="1.35" fill="#00A6FF"/><circle cx="874.6" cy="870.2" r="1.35" fill="#F8766D"/><circle cx="942.9" cy="827.6" r="1.35" fill="#64B200"/><circle cx="853.6" cy="926.9" r="1.35" fill="#EF67EB"/><circle cx="847.1" cy="993.5" r="1.35" fill="#00C1A7"/><circle cx="1237.4" cy="738.5" r="1.35" fill="#DB8E00"/><circle cx="1331.5" cy="814.7" r="1.35" fill="#00BADE"/><circle cx="1220.9" cy="865.0" r="1.35" fill="#00BD5C"/><circle cx="874.0" cy="975.2" r="1.35" fill="#00C1A7"/><circle cx="802.6" cy="933.5" r="1.35" fill="#AEA200"/><circle cx="980.5" cy="988.5" r="1.35" fill="#00A6FF"/><circle cx="921.1" cy="854.6" r="1.35" fill="#F8766D"/><circle cx="1323.6" cy="819.4" r="1.35" fill="#00BADE"/><circle cx="885.6" cy="801.3" r="1.35" fill="#64B200"/><circle cx="900.8" cy="861.0" r="1.35" fill="#F8766D"/><circle cx="858.7" cy="912.8" r="1.35" fill="#EF67EB"/><circle cx="959.9" cy="956.9" r="1.35" fill="#EF67EB"/><circle cx="946.2" cy="995.9" r="1.35" fill="#00A6FF"/><circle cx="885.5" cy="884.9" r="1.35" fill="#F8766D"/><circle cx="872.1" cy="828.4" r="1.35" fill="#F8766D"/><circle cx="930.0" cy="993.7" r="1.35" fill="#00A6FF"/><circle cx="1106.1" cy="753.8" r="1.35" fill="#DB8E00"/><circle cx="1232.2" cy="735.0" r="1.35" fill="#DB8E00"/><circle cx="814.9" cy="938.4" r="1.35" fill="#AEA200"/><circle cx="1211.5" cy="855.0" r="1.35" fill="#00BD5C"/><circle cx="888.3" cy="795.3" r="1.35" fill="#64B200"/><circle cx="909.0" cy="878.7" r="1.35" fill="#F8766D"/><circle cx="859.5" cy="911.6" r="1.35" fill="#EF67EB"/><circle cx="915.2" cy="978.8" r="1.35" fill="#00A6FF"/><circle cx="930.3" cy="839.9" r="1.35" fill="#F8766D"/><circle cx="1292.9" cy="777.5" r="1.35" fill="#B385FF"/><circle cx="1128.1" cy="752.6" r="1.35" fill="#DB8E00"/><circle cx="858.5" cy="841.2" r="1.35" fill="#F8766D"/><circle cx="938.1" cy="992.7" r="1.35" fill="#00A6FF"/><circle cx="1281.5" cy="856.2" r="1.35" fill="#00BADE"/><circle cx="1170.7" cy="725.6" r="1.35" fill="#DB8E00"/><circle cx="919.0" cy="852.0" r="1.35" fill="#F8766D"/><circle cx="889.7" cy="839.5" r="1.35" fill="#F8766D"/><circle cx="862.0" cy="837.1" r="1.35" fill="#F8766D"/><circle cx="967.4" cy="1002.4" r="1.35" fill="#00A6FF"/><circle cx="1305.9" cy="766.8" r="1.35" fill="#B385FF"/><circle cx="1216.4" cy="728.3" r="1.35" fill="#DB8E00"/><circle cx="1188.1" cy="831.9" r="1.35" fill="#00BD5C"/><circle cx="871.6" cy="983.8" r="1.35" fill="#00C1A7"/><circle cx="860.7" cy="912.4" r="1.35" fill="#EF67EB"/><circle cx="850.2" cy="874.0" r="1.35" fill="#AEA200"/><circle cx="1205.6" cy="846.2" r="1.35" fill="#00BD5C"/><circle cx="1178.7" cy="832.4" r="1.35" fill="#00BD5C"/><circle cx="909.9" cy="788.6" r="1.35" fill="#64B200"/><circle cx="944.8" cy="1009.7" r="1.35" fill="#00A6FF"/><circle cx="1294.6" cy="835.2" r="1.35" fill="#00BADE"/><circle cx="963.4" cy="983.7" r="1.35" fill="#00A6FF"/><circle cx="874.3" cy="892.3" r="1.35" fill="#AEA200"/><circle cx="1162.9" cy="829.5" r="1.35" fill="#00BD5C"/><circle cx="847.8" cy="865.3" r="1.35" fill="#AEA200"/><circle cx="1307.0" cy="851.1" r="1.35" fill="#00BADE"/><circle cx="1236.7" cy="738.1" r="1.35" fill="#DB8E00"/><circle cx="1298.1" cy="843.2" r="1.35" fill="#00BADE"/><circle cx="825.2" cy="890.0" r="1.35" fill="#AEA200"/><circle cx="876.5" cy="904.9" r="1.35" fill="#AEA200"/><circle cx="1217.0" cy="855.5" r="1.35" fill="#00BD5C"/><circle cx="890.1" cy="982.7" r="1.35" fill="#00C1A7"/><circle cx="1299.0" cy="827.1" r="1.35" fill="#00BADE"/><circle cx="871.8" cy="891.5" r="1.35" fill="#AEA200"/><circle cx="898.7" cy="774.2" r="1.35" fill="#64B200"/><circle cx="978.2" cy="991.3" r="1.35" fill="#00A6FF"/><circle cx="813.0" cy="926.3" r="1.35" fill="#AEA200"/><circle cx="972.2" cy="882.4" r="1.35" fill="#00C1A7"/><circle cx="976.6" cy="992.1" r="1.35" fill="#00A6FF"/><circle cx="928.5" cy="805.7" r="1.35" fill="#64B200"/><circle cx="872.4" cy="896.0" r="1.35" fill="#AEA200"/><circle cx="899.3" cy="868.4" r="1.35" fill="#F8766D"/><circle cx="874.3" cy="786.4" r="1.35" fill="#64B200"/><circle cx="828.9" cy="932.5" r="1.35" fill="#AEA200"/><circle cx="1249.0" cy="856.3" r="1.35" fill="#00BD5C"/><circle cx="923.3" cy="867.8" r="1.35" fill="#F8766D"/><circle cx="853.3" cy="919.3" r="1.35" fill="#EF67EB"/><circle cx="1191.1" cy="722.1" r="1.35" fill="#DB8E00"/><circle cx="1224.4" cy="732.3" r="1.35" fill="#DB8E00"/><circle cx="861.2" cy="984.0" r="1.35" fill="#00C1A7"/><circle cx="1292.2" cy="778.2" r="1.35" fill="#B385FF"/><circle cx="946.5" cy="820.4" r="1.35" fill="#64B200"/><circle cx="907.2" cy="852.9" r="1.35" fill="#F8766D"/><circle cx="1208.8" cy="729.3" r="1.35" fill="#DB8E00"/><circle cx="1292.2" cy="770.5" r="1.35" fill="#B385FF"/><circle cx="924.3" cy="1001.3" r="1.35" fill="#00A6FF"/><circle cx="1236.7" cy="862.4" r="1.35" fill="#00BD5C"/><circle cx="906.9" cy="880.5" r="1.35" fill="#F8766D"/><circle cx="1262.6" cy="858.7" r="1.35" fill="#00BD5C"/><circle cx="971.5" cy="884.2" r="1.35" fill="#00C1A7"/><circle cx="1180.8" cy="831.6" r="1.35" fill="#00BD5C"/><circle cx="1301.6" cy="853.0" r="1.35" fill="#00BADE"/><circle cx="898.1" cy="812.0" r="1.35" fill="#64B200"/><circle cx="1296.4" cy="855.8" r="1.35" fill="#00BADE"/><circle cx="914.3" cy="813.7" r="1.35" fill="#64B200"/><circle cx="969.6" cy="991.5" r="1.35" fill="#00A6FF"/><circle cx="895.8" cy="795.8" r="1.35" fill="#64B200"/><circle cx="905.7" cy="859.7" r="1.35" fill="#F8766D"/><circle cx="1232.4" cy="729.3" r="1.35" fill="#DB8E00"/><circle cx="1210.4" cy="852.8" r="1.35" fill="#00BD5C"/><circle cx="1263.0" cy="859.2" r="1.35" fill="#00BD5C"/><circle cx="850.8" cy="854.7" r="1.35" fill="#F8766D"/><circle cx="1235.5" cy="737.4" r="1.35" fill="#DB8E00"/><circle cx="981.5" cy="994.4" r="1.35" fill="#00A6FF"/><circle cx="1295.0" cy="819.4" r="1.35" fill="#00BADE"/><circle cx="1189.5" cy="833.5" r="1.35" fill="#00BD5C"/><circle cx="924.5" cy="988.8" r="1.35" fill="#00A6FF"/><circle cx="929.4" cy="854.9" r="1.35" fill="#F8766D"/><circle cx="1314.3" cy="804.7" r="1.35" fill="#00BADE"/><circle cx="885.6" cy="975.0" r="1.35" fill="#00C1A7"/><circle cx="974.4" cy="997.7" r="1.35" fill="#00A6FF"/><circle cx="940.1" cy="995.1" r="1.35" fill="#00A6FF"/><circle cx="972.5" cy="991.7" r="1.35" fill="#00A6FF"/><circle cx="926.0" cy="797.2" r="1.35" fill="#64B200"/><circle cx="1286.8" cy="842.9" r="1.35" fill="#00BADE"/><circle cx="962.6" cy="971.9" r="1.35" fill="#EF67EB"/><circle cx="1241.5" cy="861.9" r="1.35" fill="#00BD5C"/><circle cx="907.8" cy="945.4" r="1.35" fill="#00C1A7"/><circle cx="975.8" cy="1002.2" r="1.35" fill="#00A6FF"/><circle cx="973.1" cy="986.4" r="1.35" fill="#00A6FF"/><circle cx="1242.0" cy="833.6" r="1.35" fill="#00BD5C"/><circle cx="831.4" cy="978.5" r="1.35" fill="#00C1A7"/><circle cx="877.0" cy="826.9" r="1.35" fill="#F8766D"/><circle cx="1285.7" cy="862.0" r="1.35" fill="#00BADE"/><circle cx="1311.4" cy="787.6" r="1.35" fill="#B385FF"/><circle cx="873.7" cy="985.1" r="1.35" fill="#00C1A7"/><circle cx="908.2" cy="791.7" r="1.35" fill="#64B200"/><circle cx="1283.5" cy="755.9" r="1.35" fill="#B385FF"/><circle cx="965.8" cy="988.8" r="1.35" fill="#00A6FF"/><circle cx="1306.1" cy="846.7" r="1.35" fill="#00BADE"/><circle cx="1217.0" cy="859.9" r="1.35" fill="#00BD5C"/><circle cx="881.6" cy="817.3" r="1.35" fill="#64B200"/><circle cx="917.2" cy="988.4" r="1.35" fill="#00A6FF"/><circle cx="1219.1" cy="733.5" r="1.35" fill="#DB8E00"/><circle cx="949.3" cy="818.5" r="1.35" fill="#64B200"/><circle cx="906.8" cy="890.1" r="1.35" fill="#F8766D"/><circle cx="1187.6" cy="827.6" r="1.35" fill="#00BD5C"/><circle cx="877.5" cy="926.4" r="1.35" fill="#EF67EB"/><circle cx="1237.0" cy="818.1" r="1.35" fill="#00BD5C"/><circle cx="916.6" cy="788.0" r="1.35" fill="#64B200"/><circle cx="816.5" cy="943.4" r="1.35" fill="#AEA200"/><circle cx="1147.2" cy="725.2" r="1.35" fill="#DB8E00"/><circle cx="904.8" cy="833.2" r="1.35" fill="#F8766D"/><circle cx="845.5" cy="903.3" r="1.35" fill="#AEA200"/><circle cx="813.5" cy="931.0" r="1.35" fill="#AEA200"/><circle cx="889.7" cy="784.8" r="1.35" fill="#64B200"/><circle cx="840.1" cy="858.9" r="1.35" fill="#AEA200"/><circle cx="932.7" cy="842.8" r="1.35" fill="#F8766D"/><circle cx="961.5" cy="968.6" r="1.35" fill="#EF67EB"/><circle cx="817.8" cy="888.5" r="1.35" fill="#AEA200"/><circle cx="1303.8" cy="834.1" r="1.35" fill="#00BADE"/><circle cx="1174.3" cy="821.7" r="1.35" fill="#00BD5C"/><circle cx="1281.0" cy="820.6" r="1.35" fill="#00BD5C"/><circle cx="1153.3" cy="727.9" r="1.35" fill="#DB8E00"/><circle cx="831.8" cy="930.2" r="1.35" fill="#AEA200"/><circle cx="1324.0" cy="805.4" r="1.35" fill="#00BADE"/><circle cx="896.5" cy="843.0" r="1.35" fill="#F8766D"/><circle cx="883.3" cy="896.9" r="1.35" fill="#AEA200"/><circle cx="803.6" cy="934.5" r="1.35" fill="#AEA200"/><circle cx="1309.9" cy="814.0" r="1.35" fill="#00BADE"/><circle cx="982.0" cy="993.4" r="1.35" fill="#00A6FF"/><circle cx="908.7" cy="959.7" r="1.35" fill="#00C1A7"/><circle cx="920.5" cy="870.6" r="1.35" fill="#F8766D"/><circle cx="868.0" cy="887.0" r="1.35" fill="#AEA200"/><circle cx="941.8" cy="856.0" r="1.35" fill="#F8766D"/><circle cx="1257.9" cy="829.6" r="1.35" fill="#00BD5C"/><circle cx="870.4" cy="795.0" r="1.35" fill="#64B200"/><circle cx="985.1" cy="977.9" r="1.35" fill="#00A6FF"/><circle cx="877.3" cy="918.3" r="1.35" fill="#EF67EB"/><circle cx="880.1" cy="818.7" r="1.35" fill="#64B200"/><circle cx="880.8" cy="812.5" r="1.35" fill="#64B200"/><circle cx="936.4" cy="1007.3" r="1.35" fill="#00A6FF"/><circle cx="899.7" cy="877.4" r="1.35" fill="#F8766D"/><circle cx="1245.5" cy="810.9" r="1.35" fill="#00BD5C"/><circle cx="1246.0" cy="862.6" r="1.35" fill="#00BD5C"/><circle cx="859.3" cy="917.3" r="1.35" fill="#EF67EB"/><circle cx="1318.9" cy="840.1" r="1.35" fill="#00BADE"/><circle cx="853.0" cy="854.1" r="1.35" fill="#F8766D"/><circle cx="960.6" cy="998.3" r="1.35" fill="#00A6FF"/><circle cx="868.3" cy="923.8" r="1.35" fill="#EF67EB"/><circle cx="834.4" cy="882.0" r="1.35" fill="#AEA200"/><circle cx="924.5" cy="981.5" r="1.35" fill="#00A6FF"/><circle cx="841.2" cy="983.0" r="1.35" fill="#00C1A7"/><circle cx="1162.4" cy="722.1" r="1.35" fill="#DB8E00"/><circle cx="925.2" cy="866.3" r="1.35" fill="#F8766D"/><circle cx="840.2" cy="977.3" r="1.35" fill="#00C1A7"/><circle cx="1280.3" cy="858.9" r="1.35" fill="#00BADE"/><circle cx="1309.7" cy="770.0" r="1.35" fill="#B385FF"/><circle cx="940.5" cy="827.2" r="1.35" fill="#64B200"/><circle cx="942.2" cy="1005.6" r="1.35" fill="#00A6FF"/><circle cx="969.5" cy="997.3" r="1.35" fill="#00A6FF"/><circle cx="960.9" cy="996.4" r="1.35" fill="#00A6FF"/><circle cx="923.3" cy="993.0" r="1.35" fill="#00A6FF"/><circle cx="892.8" cy="858.6" r="1.35" fill="#F8766D"/><circle cx="818.5" cy="905.3" r="1.35" fill="#AEA200"/><circle cx="1189.6" cy="727.0" r="1.35" fill="#DB8E00"/><circle cx="947.3" cy="993.2" r="1.35" fill="#00A6FF"/><circle cx="1176.3" cy="837.2" r="1.35" fill="#00BD5C"/><circle cx="900.9" cy="796.5" r="1.35" fill="#64B200"/><circle cx="966.2" cy="988.2" r="1.35" fill="#00A6FF"/><circle cx="807.7" cy="924.6" r="1.35" fill="#AEA200"/><circle cx="844.7" cy="879.0" r="1.35" fill="#AEA200"/><circle cx="1221.2" cy="852.9" r="1.35" fill="#00BD5C"/><circle cx="820.8" cy="950.9" r="1.35" fill="#AEA200"/><circle cx="1160.0" cy="729.2" r="1.35" fill="#DB8E00"/><circle cx="805.9" cy="909.7" r="1.35" fill="#AEA200"/><circle cx="883.1" cy="828.7" r="1.35" fill="#F8766D"/><circle cx="840.6" cy="891.5" r="1.35" fill="#AEA200"/><circle cx="1251.6" cy="858.2" r="1.35" fill="#00BD5C"/><circle cx="1163.3" cy="722.3" r="1.35" fill="#DB8E00"/><circle cx="1105.8" cy="741.9" r="1.35" fill="#DB8E00"/><circle cx="1302.5" cy="777.8" r="1.35" fill="#B385FF"/><circle cx="862.8" cy="923.8" r="1.35" fill="#EF67EB"/><circle cx="944.5" cy="997.6" r="1.35" fill="#00A6FF"/><circle cx="917.4" cy="889.6" r="1.35" fill="#F8766D"/><circle cx="912.9" cy="994.4" r="1.35" fill="#00A6FF"/><circle cx="1287.6" cy="855.6" r="1.35" fill="#00BADE"/><circle cx="835.9" cy="898.6" r="1.35" fill="#AEA200"/><circle cx="1151.1" cy="725.5" r="1.35" fill="#DB8E00"/><circle cx="973.6" cy="995.8" r="1.35" fill="#00A6FF"/><circle cx="937.4" cy="793.4" r="1.35" fill="#64B200"/><circle cx="1307.0" cy="771.2" r="1.35" fill="#B385FF"/><circle cx="1307.6" cy="823.5" r="1.35" fill="#00BADE"/><circle cx="983.3" cy="981.8" r="1.35" fill="#00A6FF"/><circle cx="825.9" cy="943.0" r="1.35" fill="#AEA200"/><circle cx="1243.7" cy="740.5" r="1.35" fill="#DB8E00"/><circle cx="919.9" cy="1002.0" r="1.35" fill="#00A6FF"/><circle cx="1129.2" cy="752.8" r="1.35" fill="#DB8E00"/><circle cx="939.7" cy="817.3" r="1.35" fill="#64B200"/><circle cx="1256.8" cy="856.7" r="1.35" fill="#00BD5C"/><circle cx="951.2" cy="980.5" r="1.35" fill="#00A6FF"/><circle cx="917.5" cy="922.5" r="1.35" fill="#00C1A7"/><circle cx="826.0" cy="956.8" r="1.35" fill="#AEA200"/><circle cx="864.2" cy="875.4" r="1.35" fill="#AEA200"/><circle cx="967.5" cy="989.9" r="1.35" fill="#00A6FF"/><circle cx="883.3" cy="985.0" r="1.35" fill="#00C1A7"/><circle cx="936.0" cy="811.5" r="1.35" fill="#64B200"/><circle cx="1111.2" cy="759.5" r="1.35" fill="#DB8E00"/><circle cx="915.1" cy="917.8" r="1.35" fill="#00C1A7"/><circle cx="1299.3" cy="764.3" r="1.35" fill="#B385FF"/><circle cx="1201.2" cy="723.1" r="1.35" fill="#DB8E00"/><circle cx="898.3" cy="851.7" r="1.35" fill="#F8766D"/><circle cx="1110.2" cy="758.7" r="1.35" fill="#DB8E00"/><circle cx="1261.4" cy="867.4" r="1.35" fill="#00BD5C"/><circle cx="913.5" cy="785.8" r="1.35" fill="#64B200"/><circle cx="921.6" cy="847.6" r="1.35" fill="#F8766D"/><circle cx="1264.9" cy="808.8" r="1.35" fill="#00BD5C"/><circle cx="1221.9" cy="857.0" r="1.35" fill="#00BD5C"/><circle cx="908.6" cy="955.0" r="1.35" fill="#00C1A7"/><circle cx="893.6" cy="984.5" r="1.35" fill="#00C1A7"/><circle cx="895.3" cy="778.5" r="1.35" fill="#64B200"/><circle cx="981.6" cy="985.0" r="1.35" fill="#00A6FF"/><circle cx="835.8" cy="901.7" r="1.35" fill="#AEA200"/><circle cx="937.9" cy="793.0" r="1.35" fill="#64B200"/><circle cx="1316.9" cy="845.8" r="1.35" fill="#00BADE"/><circle cx="956.1" cy="809.1" r="1.35" fill="#64B200"/><circle cx="840.3" cy="874.6" r="1.35" fill="#AEA200"/><circle cx="1160.5" cy="725.3" r="1.35" fill="#DB8E00"/><circle cx="846.1" cy="985.1" r="1.35" fill="#00C1A7"/><circle cx="976.6" cy="989.9" r="1.35" fill="#00A6FF"/><circle cx="815.8" cy="891.7" r="1.35" fill="#AEA200"/><circle cx="1191.1" cy="842.8" r="1.35" fill="#00BD5C"/><circle cx="1168.7" cy="823.9" r="1.35" fill="#00BD5C"/><circle cx="870.5" cy="869.5" r="1.35" fill="#F8766D"/><circle cx="963.5" cy="963.3" r="1.35" fill="#EF67EB"/><circle cx="1234.1" cy="736.7" r="1.35" fill="#DB8E00"/><circle cx="1129.3" cy="732.8" r="1.35" fill="#DB8E00"/><circle cx="857.9" cy="914.5" r="1.35" fill="#EF67EB"/><circle cx="856.8" cy="893.5" r="1.35" fill="#AEA200"/><circle cx="890.7" cy="858.0" r="1.35" fill="#F8766D"/><circle cx="1302.1" cy="776.1" r="1.35" fill="#B385FF"/><circle cx="955.6" cy="961.7" r="1.35" fill="#EF67EB"/><circle cx="887.4" cy="811.6" r="1.35" fill="#64B200"/><circle cx="982.9" cy="991.3" r="1.35" fill="#00A6FF"/><circle cx="973.2" cy="994.4" r="1.35" fill="#00A6FF"/><circle cx="1295.0" cy="768.0" r="1.35" fill="#B385FF"/><circle cx="1315.7" cy="809.5" r="1.35" fill="#00BADE"/><circle cx="874.0" cy="792.2" r="1.35" fill="#64B200"/><circle cx="863.6" cy="838.0" r="1.35" fill="#F8766D"/><circle cx="1240.6" cy="871.6" r="1.35" fill="#00BD5C"/><circle cx="1327.8" cy="815.2" r="1.35" fill="#00BADE"/><circle cx="1223.0" cy="726.1" r="1.35" fill="#DB8E00"/><circle cx="1194.9" cy="727.8" r="1.35" fill="#DB8E00"/><circle cx="1289.1" cy="857.8" r="1.35" fill="#00BADE"/><circle cx="1197.4" cy="730.0" r="1.35" fill="#DB8E00"/><circle cx="1303.7" cy="756.3" r="1.35" fill="#B385FF"/><circle cx="943.6" cy="1007.8" r="1.35" fill="#00A6FF"/><circle cx="1206.2" cy="727.6" r="1.35" fill="#DB8E00"/><circle cx="875.0" cy="858.7" r="1.35" fill="#F8766D"/><circle cx="880.2" cy="802.9" r="1.35" fill="#64B200"/><circle cx="883.1" cy="783.0" r="1.35" fill="#64B200"/><circle cx="864.1" cy="981.6" r="1.35" fill="#00C1A7"/><circle cx="868.2" cy="848.1" r="1.35" fill="#F8766D"/><circle cx="924.9" cy="825.8" r="1.35" fill="#F8766D"/><circle cx="1161.9" cy="829.9" r="1.35" fill="#00BD5C"/><circle cx="851.5" cy="927.1" r="1.35" fill="#EF67EB"/><circle cx="1177.9" cy="826.8" r="1.35" fill="#00BD5C"/><circle cx="960.9" cy="959.3" r="1.35" fill="#EF67EB"/><circle cx="1298.3" cy="794.2" r="1.35" fill="#00BADE"/><circle cx="1291.1" cy="755.0" r="1.35" fill="#B385FF"/><circle cx="913.1" cy="846.4" r="1.35" fill="#F8766D"/><circle cx="823.2" cy="891.4" r="1.35" fill="#AEA200"/><circle cx="892.5" cy="785.3" r="1.35" fill="#64B200"/><circle cx="1299.1" cy="852.8" r="1.35" fill="#00BADE"/><circle cx="887.1" cy="884.8" r="1.35" fill="#F8766D"/><circle cx="944.2" cy="1010.6" r="1.35" fill="#00A6FF"/><circle cx="979.6" cy="987.8" r="1.35" fill="#00A6FF"/><circle cx="913.1" cy="947.8" r="1.35" fill="#00C1A7"/><circle cx="1212.4" cy="847.3" r="1.35" fill="#00BD5C"/><circle cx="875.5" cy="979.1" r="1.35" fill="#00C1A7"/><circle cx="918.1" cy="794.3" r="1.35" fill="#64B200"/><circle cx="956.1" cy="955.0" r="1.35" fill="#EF67EB"/><circle cx="1302.8" cy="851.0" r="1.35" fill="#00BADE"/><circle cx="937.4" cy="997.3" r="1.35" fill="#00A6FF"/><circle cx="1331.2" cy="822.2" r="1.35" fill="#00BADE"/><circle cx="1201.8" cy="846.6" r="1.35" fill="#00BD5C"/><circle cx="964.1" cy="985.1" r="1.35" fill="#00A6FF"/><circle cx="881.1" cy="796.5" r="1.35" fill="#64B200"/><circle cx="1174.4" cy="837.8" r="1.35" fill="#00BD5C"/><circle cx="1186.8" cy="730.9" r="1.35" fill="#DB8E00"/><circle cx="975.2" cy="990.3" r="1.35" fill="#00A6FF"/><circle cx="987.1" cy="990.4" r="1.35" fill="#00A6FF"/><circle cx="879.6" cy="861.0" r="1.35" fill="#F8766D"/><circle cx="1137.0" cy="730.5" r="1.35" fill="#DB8E00"/><circle cx="892.5" cy="840.5" r="1.35" fill="#F8766D"/><circle cx="820.2" cy="908.5" r="1.35" fill="#AEA200"/><circle cx="826.1" cy="925.7" r="1.35" fill="#AEA200"/><circle cx="1290.2" cy="768.9" r="1.35" fill="#B385FF"/><circle cx="880.2" cy="806.6" r="1.35" fill="#64B200"/><circle cx="934.9" cy="865.3" r="1.35" fill="#F8766D"/><circle cx="867.7" cy="807.8" r="1.35" fill="#64B200"/><circle cx="1126.5" cy="737.6" r="1.35" fill="#DB8E00"/><circle cx="906.7" cy="824.1" r="1.35" fill="#F8766D"/><circle cx="1300.8" cy="789.7" r="1.35" fill="#B385FF"/><circle cx="913.5" cy="912.8" r="1.35" fill="#00C1A7"/><circle cx="919.4" cy="794.1" r="1.35" fill="#64B200"/><circle cx="871.2" cy="895.1" r="1.35" fill="#AEA200"/><circle cx="1115.4" cy="742.5" r="1.35" fill="#DB8E00"/><circle cx="853.2" cy="890.4" r="1.35" fill="#AEA200"/><circle cx="941.1" cy="992.4" r="1.35" fill="#00A6FF"/><circle cx="933.4" cy="1002.1" r="1.35" fill="#00A6FF"/><circle cx="846.1" cy="922.8" r="1.35" fill="#EF67EB"/><circle cx="862.0" cy="981.0" r="1.35" fill="#00C1A7"/><circle cx="890.1" cy="979.8" r="1.35" fill="#00C1A7"/><circle cx="989.7" cy="889.2" r="1.35" fill="#00C1A7"/><circle cx="856.1" cy="981.7" r="1.35" fill="#00C1A7"/><circle cx="823.6" cy="890.6" r="1.35" fill="#AEA200"/><circle cx="1175.3" cy="821.7" r="1.35" fill="#00BD5C"/><circle cx="911.5" cy="915.9" r="1.35" fill="#00C1A7"/><circle cx="1217.5" cy="853.8" r="1.35" fill="#00BD5C"/><circle cx="911.7" cy="951.6" r="1.35" fill="#00C1A7"/><circle cx="951.8" cy="1010.4" r="1.35" fill="#00A6FF"/><circle cx="1123.8" cy="747.1" r="1.35" fill="#DB8E00"/><circle cx="839.0" cy="867.0" r="1.35" fill="#AEA200"/><circle cx="1203.5" cy="734.6" r="1.35" fill="#DB8E00"/><circle cx="977.3" cy="997.5" r="1.35" fill="#00A6FF"/><circle cx="802.7" cy="933.0" r="1.35" fill="#AEA200"/><circle cx="824.3" cy="901.8" r="1.35" fill="#AEA200"/><circle cx="856.1" cy="857.1" r="1.35" fill="#F8766D"/><circle cx="961.9" cy="957.8" r="1.35" fill="#EF67EB"/><circle cx="919.0" cy="825.2" r="1.35" fill="#F8766D"/><circle cx="947.1" cy="951.3" r="1.35" fill="#EF67EB"/><circle cx="931.1" cy="824.1" r="1.35" fill="#F8766D"/><circle cx="1284.0" cy="858.7" r="1.35" fill="#00BADE"/><circle cx="1303.9" cy="787.8" r="1.35" fill="#B385FF"/><circle cx="974.7" cy="990.5" r="1.35" fill="#00A6FF"/><circle cx="873.9" cy="815.0" r="1.35" fill="#64B200"/><circle cx="859.5" cy="882.3" r="1.35" fill="#AEA200"/><circle cx="889.4" cy="981.4" r="1.35" fill="#00C1A7"/><circle cx="1103.9" cy="751.9" r="1.35" fill="#DB8E00"/><circle cx="873.1" cy="826.3" r="1.35" fill="#F8766D"/><circle cx="933.1" cy="814.1" r="1.35" fill="#64B200"/><circle cx="956.9" cy="964.8" r="1.35" fill="#EF67EB"/><circle cx="1259.4" cy="858.1" r="1.35" fill="#00BD5C"/><circle cx="1207.0" cy="732.6" r="1.35" fill="#DB8E00"/><circle cx="937.5" cy="845.3" r="1.35" fill="#F8766D"/><circle cx="964.7" cy="964.1" r="1.35" fill="#EF67EB"/><circle cx="941.5" cy="829.4" r="1.35" fill="#F8766D"/><circle cx="954.8" cy="815.4" r="1.35" fill="#64B200"/><circle cx="1255.0" cy="871.1" r="1.35" fill="#00BD5C"/><circle cx="905.0" cy="782.8" r="1.35" fill="#64B200"/><circle cx="818.6" cy="889.3" r="1.35" fill="#AEA200"/><circle cx="880.9" cy="832.4" r="1.35" fill="#F8766D"/><circle cx="1212.8" cy="723.5" r="1.35" fill="#DB8E00"/><circle cx="902.4" cy="800.7" r="1.35" fill="#64B200"/><circle cx="1244.7" cy="744.8" r="1.35" fill="#DB8E00"/><circle cx="1287.8" cy="759.2" r="1.35" fill="#B385FF"/><circle cx="876.8" cy="844.0" r="1.35" fill="#F8766D"/><circle cx="935.1" cy="793.1" r="1.35" fill="#64B200"/><circle cx="1249.1" cy="820.3" r="1.35" fill="#00BD5C"/><circle cx="884.4" cy="987.4" r="1.35" fill="#00C1A7"/><circle cx="830.8" cy="988.8" r="1.35" fill="#00C1A7"/><circle cx="911.2" cy="832.2" r="1.35" fill="#F8766D"/><circle cx="1161.0" cy="827.1" r="1.35" fill="#00BD5C"/><circle cx="930.7" cy="826.1" r="1.35" fill="#F8766D"/><circle cx="984.7" cy="890.0" r="1.35" fill="#00C1A7"/><circle cx="1242.7" cy="826.9" r="1.35" fill="#00BD5C"/><circle cx="1298.6" cy="790.3" r="1.35" fill="#B385FF"/><circle cx="886.2" cy="786.0" r="1.35" fill="#64B200"/><circle cx="1111.0" cy="737.5" r="1.35" fill="#DB8E00"/><circle cx="860.1" cy="856.7" r="1.35" fill="#F8766D"/><circle cx="883.2" cy="983.3" r="1.35" fill="#00C1A7"/><circle cx="875.9" cy="844.9" r="1.35" fill="#F8766D"/><circle cx="1312.8" cy="854.2" r="1.35" fill="#00BADE"/><circle cx="1193.0" cy="724.2" r="1.35" fill="#DB8E00"/><circle cx="1222.9" cy="732.4" r="1.35" fill="#DB8E00"/><circle cx="1305.7" cy="826.5" r="1.35" fill="#00BADE"/><circle cx="911.8" cy="788.9" r="1.35" fill="#64B200"/><circle cx="854.3" cy="984.6" r="1.35" fill="#00C1A7"/><circle cx="1302.7" cy="777.0" r="1.35" fill="#B385FF"/><circle cx="1131.2" cy="741.8" r="1.35" fill="#DB8E00"/><circle cx="1287.5" cy="860.4" r="1.35" fill="#00BADE"/><circle cx="873.5" cy="986.3" r="1.35" fill="#00C1A7"/><circle cx="960.6" cy="996.7" r="1.35" fill="#00A6FF"/><circle cx="931.4" cy="868.4" r="1.35" fill="#F8766D"/><circle cx="814.6" cy="939.0" r="1.35" fill="#AEA200"/><circle cx="915.2" cy="1000.5" r="1.35" fill="#00A6FF"/><circle cx="1231.5" cy="868.4" r="1.35" fill="#00BD5C"/><circle cx="942.6" cy="947.8" r="1.35" fill="#EF67EB"/><circle cx="1218.4" cy="864.9" r="1.35" fill="#00BD5C"/><circle cx="914.2" cy="786.7" r="1.35" fill="#64B200"/><circle cx="838.2" cy="866.5" r="1.35" fill="#AEA200"/><circle cx="881.8" cy="902.6" r="1.35" fill="#AEA200"/><circle cx="872.7" cy="987.2" r="1.35" fill="#00C1A7"/><circle cx="1305.7" cy="772.2" r="1.35" fill="#B385FF"/><circle cx="866.2" cy="903.5" r="1.35" fill="#AEA200"/><circle cx="816.8" cy="885.8" r="1.35" fill="#AEA200"/><circle cx="987.3" cy="982.2" r="1.35" fill="#00A6FF"/><circle cx="1103.8" cy="750.5" r="1.35" fill="#DB8E00"/><circle cx="825.4" cy="924.2" r="1.35" fill="#AEA200"/><circle cx="1302.9" cy="821.5" r="1.35" fill="#00BADE"/><circle cx="851.6" cy="877.5" r="1.35" fill="#AEA200"/><circle cx="938.7" cy="800.0" r="1.35" fill="#64B200"/><circle cx="851.6" cy="882.4" r="1.35" fill="#AEA200"/><circle cx="1318.1" cy="845.8" r="1.35" fill="#00BADE"/><circle cx="910.7" cy="929.6" r="1.35" fill="#00C1A7"/><circle cx="1188.6" cy="841.8" r="1.35" fill="#00BD5C"/><circle cx="1244.6" cy="871.8" r="1.35" fill="#00BD5C"/><circle cx="1300.4" cy="810.8" r="1.35" fill="#00BADE"/><circle cx="819.3" cy="918.8" r="1.35" fill="#AEA200"/><circle cx="1173.2" cy="833.6" r="1.35" fill="#00BD5C"/><circle cx="929.2" cy="869.0" r="1.35" fill="#F8766D"/><circle cx="969.3" cy="881.7" r="1.35" fill="#00C1A7"/><circle cx="935.7" cy="990.2" r="1.35" fill="#00A6FF"/><circle cx="1169.4" cy="831.3" r="1.35" fill="#00BD5C"/><circle cx="908.8" cy="945.9" r="1.35" fill="#00C1A7"/><circle cx="816.9" cy="962.9" r="1.35" fill="#AEA200"/><circle cx="913.6" cy="938.6" r="1.35" fill="#00C1A7"/><circle cx="945.4" cy="828.4" r="1.35" fill="#64B200"/><circle cx="1163.3" cy="721.8" r="1.35" fill="#DB8E00"/><circle cx="1156.4" cy="728.7" r="1.35" fill="#DB8E00"/><circle cx="921.4" cy="1003.7" r="1.35" fill="#00A6FF"/><circle cx="1099.1" cy="745.4" r="1.35" fill="#DB8E00"/><circle cx="887.6" cy="862.0" r="1.35" fill="#F8766D"/><circle cx="1294.9" cy="846.1" r="1.35" fill="#00BADE"/><circle cx="854.6" cy="848.1" r="1.35" fill="#F8766D"/><circle cx="866.3" cy="982.4" r="1.35" fill="#00C1A7"/><circle cx="896.7" cy="805.8" r="1.35" fill="#64B200"/><circle cx="873.1" cy="987.7" r="1.35" fill="#00C1A7"/><circle cx="1323.8" cy="837.1" r="1.35" fill="#00BADE"/><circle cx="874.4" cy="866.5" r="1.35" fill="#F8766D"/><circle cx="824.4" cy="936.5" r="1.35" fill="#AEA200"/><circle cx="888.6" cy="830.6" r="1.35" fill="#F8766D"/><circle cx="1331.0" cy="816.0" r="1.35" fill="#00BADE"/><circle cx="919.8" cy="919.7" r="1.35" fill="#00C1A7"/><circle cx="915.1" cy="979.9" r="1.35" fill="#00A6FF"/><circle cx="1285.1" cy="857.9" r="1.35" fill="#00BADE"/><circle cx="1190.4" cy="720.4" r="1.35" fill="#DB8E00"/><circle cx="895.7" cy="781.4" r="1.35" fill="#64B200"/><circle cx="877.5" cy="785.0" r="1.35" fill="#64B200"/><circle cx="875.4" cy="845.4" r="1.35" fill="#F8766D"/><circle cx="853.8" cy="980.4" r="1.35" fill="#00C1A7"/><circle cx="943.8" cy="856.9" r="1.35" fill="#F8766D"/><circle cx="926.2" cy="1003.8" r="1.35" fill="#00A6FF"/><circle cx="884.5" cy="865.1" r="1.35" fill="#F8766D"/><circle cx="872.7" cy="907.1" r="1.35" fill="#AEA200"/><circle cx="1283.2" cy="857.7" r="1.35" fill="#00BADE"/><circle cx="828.5" cy="985.7" r="1.35" fill="#00C1A7"/><circle cx="950.5" cy="813.5" r="1.35" fill="#64B200"/><circle cx="963.5" cy="968.4" r="1.35" fill="#EF67EB"/><circle cx="1290.1" cy="762.1" r="1.35" fill="#B385FF"/><circle cx="943.7" cy="834.4" r="1.35" fill="#F8766D"/><circle cx="1319.2" cy="850.9" r="1.35" fill="#00BADE"/><circle cx="1291.4" cy="857.4" r="1.35" fill="#00BADE"/><circle cx="921.6" cy="847.4" r="1.35" fill="#F8766D"/><circle cx="1250.2" cy="862.3" r="1.35" fill="#00BD5C"/><circle cx="994.9" cy="886.8" r="1.35" fill="#00C1A7"/><circle cx="1189.5" cy="833.7" r="1.35" fill="#00BD5C"/><circle cx="973.9" cy="988.2" r="1.35" fill="#00A6FF"/><circle cx="864.1" cy="983.5" r="1.35" fill="#00C1A7"/><circle cx="923.3" cy="979.3" r="1.35" fill="#00A6FF"/><circle cx="1293.6" cy="773.3" r="1.35" fill="#B385FF"/><circle cx="932.8" cy="869.6" r="1.35" fill="#F8766D"/><circle cx="982.1" cy="993.9" r="1.35" fill="#00A6FF"/><circle cx="1286.0" cy="858.8" r="1.35" fill="#00BADE"/><circle cx="993.0" cy="885.6" r="1.35" fill="#00C1A7"/><circle cx="963.4" cy="992.2" r="1.35" fill="#00A6FF"/><circle cx="1316.9" cy="852.8" r="1.35" fill="#00BADE"/><circle cx="930.6" cy="824.5" r="1.35" fill="#F8766D"/><circle cx="897.4" cy="888.6" r="1.35" fill="#F8766D"/><circle cx="875.4" cy="834.9" r="1.35" fill="#F8766D"/><circle cx="1320.5" cy="847.2" r="1.35" fill="#00BADE"/><circle cx="867.6" cy="912.4" r="1.35" fill="#EF67EB"/><circle cx="880.6" cy="792.6" r="1.35" fill="#64B200"/><circle cx="835.1" cy="986.0" r="1.35" fill="#00C1A7"/><circle cx="939.6" cy="1009.0" r="1.35" fill="#00A6FF"/><circle cx="946.1" cy="980.3" r="1.35" fill="#00A6FF"/><circle cx="926.0" cy="872.1" r="1.35" fill="#F8766D"/><circle cx="841.7" cy="898.1" r="1.35" fill="#AEA200"/><circle cx="912.6" cy="984.8" r="1.35" fill="#00A6FF"/><circle cx="848.4" cy="907.0" r="1.35" fill="#AEA200"/><circle cx="1281.4" cy="859.2" r="1.35" fill="#00BADE"/><circle cx="1134.6" cy="729.1" r="1.35" fill="#DB8E00"/><circle cx="944.0" cy="814.1" r="1.35" fill="#64B200"/><circle cx="1124.9" cy="734.0" r="1.35" fill="#DB8E00"/><circle cx="872.9" cy="982.8" r="1.35" fill="#00C1A7"/><circle cx="887.5" cy="978.4" r="1.35" fill="#00C1A7"/><circle cx="861.1" cy="908.0" r="1.35" fill="#AEA200"/><circle cx="1311.6" cy="809.4" r="1.35" fill="#00BADE"/><circle cx="830.4" cy="952.9" r="1.35" fill="#AEA200"/><circle cx="869.9" cy="848.8" r="1.35" fill="#F8766D"/><circle cx="849.0" cy="989.1" r="1.35" fill="#00C1A7"/><circle cx="916.3" cy="925.0" r="1.35" fill="#00C1A7"/><circle cx="950.6" cy="810.2" r="1.35" fill="#64B200"/><circle cx="833.0" cy="921.0" r="1.35" fill="#AEA200"/><circle cx="813.3" cy="889.3" r="1.35" fill="#AEA200"/><circle cx="1303.7" cy="782.5" r="1.35" fill="#B385FF"/><circle cx="855.5" cy="899.3" r="1.35" fill="#AEA200"/><circle cx="1297.5" cy="808.3" r="1.35" fill="#00BADE"/><circle cx="1200.7" cy="724.3" r="1.35" fill="#DB8E00"/><circle cx="1248.6" cy="871.8" r="1.35" fill="#00BD5C"/><circle cx="919.4" cy="826.1" r="1.35" fill="#F8766D"/><circle cx="866.5" cy="839.9" r="1.35" fill="#F8766D"/><circle cx="911.7" cy="937.1" r="1.35" fill="#00C1A7"/><circle cx="875.4" cy="852.3" r="1.35" fill="#F8766D"/><circle cx="1126.7" cy="739.0" r="1.35" fill="#DB8E00"/><circle cx="966.0" cy="974.5" r="1.35" fill="#EF67EB"/><circle cx="871.0" cy="893.6" r="1.35" fill="#AEA200"/><circle cx="910.7" cy="871.4" r="1.35" fill="#F8766D"/><circle cx="1297.8" cy="789.1" r="1.35" fill="#B385FF"/><circle cx="915.4" cy="851.6" r="1.35" fill="#F8766D"/><circle cx="850.1" cy="927.2" r="1.35" fill="#EF67EB"/><circle cx="981.2" cy="991.1" r="1.35" fill="#00A6FF"/><circle cx="952.5" cy="995.2" r="1.35" fill="#00A6FF"/><circle cx="899.6" cy="870.8" r="1.35" fill="#F8766D"/><circle cx="893.3" cy="821.5" r="1.35" fill="#F8766D"/><circle cx="914.1" cy="927.3" r="1.35" fill="#00C1A7"/><circle cx="864.1" cy="929.4" r="1.35" fill="#EF67EB"/><circle cx="1314.6" cy="857.2" r="1.35" fill="#00BADE"/><circle cx="1119.2" cy="738.9" r="1.35" fill="#DB8E00"/><circle cx="834.4" cy="868.1" r="1.35" fill="#AEA200"/><circle cx="921.9" cy="834.5" r="1.35" fill="#F8766D"/><circle cx="1237.1" cy="868.1" r="1.35" fill="#00BD5C"/><circle cx="1180.3" cy="830.2" r="1.35" fill="#00BD5C"/><circle cx="1213.1" cy="847.8" r="1.35" fill="#00BD5C"/><circle cx="1293.3" cy="772.2" r="1.35" fill="#B385FF"/><circle cx="927.3" cy="805.0" r="1.35" fill="#64B200"/><circle cx="904.4" cy="820.2" r="1.35" fill="#F8766D"/><circle cx="950.5" cy="999.1" r="1.35" fill="#00A6FF"/><circle cx="889.9" cy="973.4" r="1.35" fill="#00C1A7"/><circle cx="891.6" cy="888.6" r="1.35" fill="#F8766D"/><circle cx="899.4" cy="855.4" r="1.35" fill="#F8766D"/><circle cx="1308.2" cy="857.4" r="1.35" fill="#00BADE"/><circle cx="978.3" cy="996.2" r="1.35" fill="#00A6FF"/><circle cx="1306.6" cy="790.2" r="1.35" fill="#B385FF"/><circle cx="1315.1" cy="853.5" r="1.35" fill="#00BADE"/><circle cx="1219.5" cy="861.7" r="1.35" fill="#00BD5C"/><circle cx="1306.8" cy="832.1" r="1.35" fill="#00BADE"/><circle cx="1157.1" cy="730.8" r="1.35" fill="#DB8E00"/><circle cx="1202.9" cy="835.7" r="1.35" fill="#00BD5C"/><circle cx="1190.7" cy="840.2" r="1.35" fill="#00BD5C"/><circle cx="1111.9" cy="734.2" r="1.35" fill="#DB8E00"/><circle cx="929.6" cy="878.1" r="1.35" fill="#F8766D"/><circle cx="1276.9" cy="827.4" r="1.35" fill="#00BD5C"/><circle cx="1291.6" cy="853.7" r="1.35" fill="#00BADE"/><circle cx="1198.6" cy="728.7" r="1.35" fill="#DB8E00"/><circle cx="1153.4" cy="732.8" r="1.35" fill="#DB8E00"/><circle cx="1298.3" cy="826.0" r="1.35" fill="#00BADE"/><circle cx="978.4" cy="994.2" r="1.35" fill="#00A6FF"/><circle cx="937.6" cy="803.1" r="1.35" fill="#64B200"/><circle cx="1105.5" cy="743.6" r="1.35" fill="#DB8E00"/><circle cx="902.5" cy="841.0" r="1.35" fill="#F8766D"/><circle cx="1315.0" cy="851.5" r="1.35" fill="#00BADE"/><circle cx="848.6" cy="984.8" r="1.35" fill="#00C1A7"/><circle cx="895.0" cy="806.7" r="1.35" fill="#64B200"/><circle cx="1181.7" cy="723.4" r="1.35" fill="#DB8E00"/><circle cx="1108.3" cy="751.9" r="1.35" fill="#DB8E00"/><circle cx="822.0" cy="928.7" r="1.35" fill="#AEA200"/><circle cx="825.1" cy="967.7" r="1.35" fill="#AEA200"/><circle cx="833.2" cy="915.4" r="1.35" fill="#AEA200"/><circle cx="975.6" cy="1000.1" r="1.35" fill="#00A6FF"/><circle cx="1281.0" cy="859.6" r="1.35" fill="#00BADE"/><circle cx="1312.2" cy="855.6" r="1.35" fill="#00BADE"/><circle cx="978.8" cy="979.4" r="1.35" fill="#00A6FF"/><circle cx="840.4" cy="869.9" r="1.35" fill="#AEA200"/><circle cx="908.9" cy="875.6" r="1.35" fill="#F8766D"/><circle cx="952.9" cy="814.3" r="1.35" fill="#64B200"/><circle cx="1313.9" cy="850.7" r="1.35" fill="#00BADE"/><circle cx="1153.0" cy="721.3" r="1.35" fill="#DB8E00"/><circle cx="843.0" cy="886.3" r="1.35" fill="#AEA200"/><circle cx="1314.0" cy="782.7" r="1.35" fill="#B385FF"/><circle cx="1194.9" cy="832.8" r="1.35" fill="#00BD5C"/><circle cx="1305.2" cy="769.6" r="1.35" fill="#B385FF"/><circle cx="887.0" cy="835.5" r="1.35" fill="#F8766D"/><circle cx="873.7" cy="976.5" r="1.35" fill="#00C1A7"/><circle cx="1296.9" cy="838.8" r="1.35" fill="#00BADE"/><circle cx="954.9" cy="947.9" r="1.35" fill="#EF67EB"/><circle cx="881.0" cy="778.9" r="1.35" fill="#64B200"/><circle cx="922.9" cy="859.7" r="1.35" fill="#F8766D"/><circle cx="869.2" cy="842.7" r="1.35" fill="#F8766D"/><circle cx="1323.5" cy="839.7" r="1.35" fill="#00BADE"/><circle cx="1190.7" cy="844.8" r="1.35" fill="#00BD5C"/><circle cx="880.6" cy="791.7" r="1.35" fill="#64B200"/><circle cx="825.8" cy="982.1" r="1.35" fill="#00C1A7"/><circle cx="920.2" cy="802.1" r="1.35" fill="#64B200"/><circle cx="1202.4" cy="845.9" r="1.35" fill="#00BD5C"/><circle cx="1283.9" cy="859.6" r="1.35" fill="#00BADE"/><circle cx="1248.4" cy="871.2" r="1.35" fill="#00BD5C"/><circle cx="924.0" cy="846.3" r="1.35" fill="#F8766D"/><circle cx="1311.5" cy="858.9" r="1.35" fill="#00BADE"/><circle cx="852.1" cy="985.6" r="1.35" fill="#00C1A7"/><circle cx="883.8" cy="844.9" r="1.35" fill="#F8766D"/><circle cx="1174.6" cy="826.9" r="1.35" fill="#00BD5C"/><circle cx="1298.0" cy="829.7" r="1.35" fill="#00BADE"/><circle cx="875.1" cy="830.0" r="1.35" fill="#F8766D"/><circle cx="1193.3" cy="724.5" r="1.35" fill="#DB8E00"/><circle cx="922.7" cy="1001.4" r="1.35" fill="#00A6FF"/><circle cx="1237.3" cy="728.8" r="1.35" fill="#DB8E00"/><circle cx="893.9" cy="778.9" r="1.35" fill="#64B200"/><circle cx="863.1" cy="872.5" r="1.35" fill="#F8766D"/><circle cx="872.7" cy="883.1" r="1.35" fill="#AEA200"/><circle cx="914.3" cy="798.6" r="1.35" fill="#64B200"/><circle cx="1299.7" cy="761.1" r="1.35" fill="#B385FF"/><circle cx="871.5" cy="873.2" r="1.35" fill="#F8766D"/><circle cx="1108.3" cy="738.7" r="1.35" fill="#DB8E00"/><circle cx="948.0" cy="822.3" r="1.35" fill="#64B200"/><circle cx="876.2" cy="804.5" r="1.35" fill="#64B200"/><circle cx="1313.0" cy="785.1" r="1.35" fill="#B385FF"/><circle cx="872.1" cy="902.7" r="1.35" fill="#AEA200"/><circle cx="961.7" cy="998.9" r="1.35" fill="#00A6FF"/><circle cx="1292.5" cy="860.2" r="1.35" fill="#00BADE"/><circle cx="1328.8" cy="812.1" r="1.35" fill="#00BADE"/><circle cx="1298.3" cy="766.5" r="1.35" fill="#B385FF"/><circle cx="949.4" cy="801.3" r="1.35" fill="#64B200"/><circle cx="947.7" cy="806.7" r="1.35" fill="#64B200"/><circle cx="891.0" cy="800.1" r="1.35" fill="#64B200"/><circle cx="1120.7" cy="739.6" r="1.35" fill="#DB8E00"/><circle cx="878.7" cy="781.0" r="1.35" fill="#64B200"/><circle cx="1226.9" cy="726.7" r="1.35" fill="#DB8E00"/><circle cx="973.4" cy="993.5" r="1.35" fill="#00A6FF"/><circle cx="869.3" cy="828.1" r="1.35" fill="#F8766D"/><circle cx="964.2" cy="1002.7" r="1.35" fill="#00A6FF"/><circle cx="824.7" cy="916.5" r="1.35" fill="#AEA200"/><circle cx="877.6" cy="807.2" r="1.35" fill="#64B200"/><circle cx="929.5" cy="855.9" r="1.35" fill="#F8766D"/><circle cx="973.9" cy="981.5" r="1.35" fill="#00A6FF"/><circle cx="1298.1" cy="801.0" r="1.35" fill="#00BADE"/><circle cx="1296.9" cy="802.5" r="1.35" fill="#00BADE"/><circle cx="837.3" cy="910.1" r="1.35" fill="#AEA200"/><circle cx="974.4" cy="985.0" r="1.35" fill="#00A6FF"/><circle cx="929.5" cy="985.3" r="1.35" fill="#00A6FF"/><circle cx="923.7" cy="850.1" r="1.35" fill="#F8766D"/><circle cx="1249.1" cy="861.1" r="1.35" fill="#00BD5C"/><circle cx="933.9" cy="1007.9" r="1.35" fill="#00A6FF"/><circle cx="1263.6" cy="868.0" r="1.35" fill="#00BD5C"/><circle cx="863.4" cy="903.6" r="1.35" fill="#AEA200"/><circle cx="865.7" cy="985.7" r="1.35" fill="#00C1A7"/><circle cx="941.2" cy="825.6" r="1.35" fill="#64B200"/><circle cx="853.3" cy="858.2" r="1.35" fill="#F8766D"/><circle cx="942.7" cy="991.9" r="1.35" fill="#00A6FF"/><circle cx="1301.3" cy="755.5" r="1.35" fill="#B385FF"/><circle cx="1112.0" cy="752.5" r="1.35" fill="#DB8E00"/><circle cx="854.6" cy="868.5" r="1.35" fill="#AEA200"/><circle cx="872.5" cy="807.6" r="1.35" fill="#64B200"/><circle cx="1263.3" cy="855.9" r="1.35" fill="#00BD5C"/><circle cx="897.2" cy="802.5" r="1.35" fill="#64B200"/><circle cx="1252.6" cy="864.2" r="1.35" fill="#00BD5C"/><circle cx="1311.4" cy="786.1" r="1.35" fill="#B385FF"/><circle cx="1232.9" cy="732.5" r="1.35" fill="#DB8E00"/><circle cx="860.6" cy="869.7" r="1.35" fill="#AEA200"/><circle cx="1230.2" cy="729.5" r="1.35" fill="#DB8E00"/><circle cx="1241.8" cy="836.7" r="1.35" fill="#00BD5C"/><circle cx="978.5" cy="991.0" r="1.35" fill="#00A6FF"/><circle cx="918.8" cy="922.1" r="1.35" fill="#00C1A7"/><circle cx="868.8" cy="982.0" r="1.35" fill="#00C1A7"/><circle cx="1194.1" cy="844.4" r="1.35" fill="#00BD5C"/><circle cx="918.0" cy="834.8" r="1.35" fill="#F8766D"/><circle cx="1314.8" cy="829.4" r="1.35" fill="#00BADE"/><circle cx="901.5" cy="828.3" r="1.35" fill="#F8766D"/><circle cx="1298.1" cy="830.5" r="1.35" fill="#00BADE"/><circle cx="932.8" cy="994.3" r="1.35" fill="#00A6FF"/><circle cx="1159.1" cy="830.8" r="1.35" fill="#00BD5C"/><circle cx="899.9" cy="821.7" r="1.35" fill="#F8766D"/><circle cx="1296.7" cy="756.0" r="1.35" fill="#B385FF"/><circle cx="1285.2" cy="752.5" r="1.35" fill="#B385FF"/><circle cx="1106.6" cy="736.2" r="1.35" fill="#DB8E00"/><circle cx="1315.9" cy="854.8" r="1.35" fill="#00BADE"/><circle cx="965.9" cy="993.6" r="1.35" fill="#00A6FF"/><circle cx="829.9" cy="943.5" r="1.35" fill="#AEA200"/><circle cx="1129.1" cy="737.7" r="1.35" fill="#DB8E00"/><circle cx="808.5" cy="936.0" r="1.35" fill="#AEA200"/><circle cx="824.0" cy="960.2" r="1.35" fill="#AEA200"/><circle cx="1180.3" cy="837.1" r="1.35" fill="#00BD5C"/><circle cx="1107.1" cy="739.8" r="1.35" fill="#DB8E00"/><circle cx="928.4" cy="995.8" r="1.35" fill="#00A6FF"/><circle cx="889.9" cy="846.9" r="1.35" fill="#F8766D"/><circle cx="1294.6" cy="828.6" r="1.35" fill="#00BADE"/><circle cx="938.5" cy="1007.5" r="1.35" fill="#00A6FF"/><circle cx="1326.7" cy="828.5" r="1.35" fill="#00BADE"/><circle cx="905.7" cy="947.1" r="1.35" fill="#00C1A7"/><circle cx="1195.4" cy="729.4" r="1.35" fill="#DB8E00"/><circle cx="922.8" cy="877.9" r="1.35" fill="#F8766D"/><circle cx="973.9" cy="976.4" r="1.35" fill="#EF67EB"/><circle cx="1298.9" cy="757.7" r="1.35" fill="#B385FF"/><circle cx="899.5" cy="876.0" r="1.35" fill="#F8766D"/><circle cx="1301.3" cy="773.7" r="1.35" fill="#B385FF"/><circle cx="1161.7" cy="725.9" r="1.35" fill="#DB8E00"/><circle cx="1236.2" cy="860.8" r="1.35" fill="#00BD5C"/><circle cx="965.5" cy="997.0" r="1.35" fill="#00A6FF"/><circle cx="929.1" cy="877.8" r="1.35" fill="#F8766D"/><circle cx="908.6" cy="932.2" r="1.35" fill="#00C1A7"/><circle cx="930.5" cy="838.0" r="1.35" fill="#F8766D"/><circle cx="941.8" cy="801.0" r="1.35" fill="#64B200"/><circle cx="1296.3" cy="759.0" r="1.35" fill="#B385FF"/><circle cx="1257.4" cy="855.1" r="1.35" fill="#00BD5C"/><circle cx="1142.0" cy="729.2" r="1.35" fill="#DB8E00"/><circle cx="906.5" cy="949.2" r="1.35" fill="#00C1A7"/><circle cx="869.2" cy="793.5" r="1.35" fill="#64B200"/><circle cx="1227.9" cy="725.8" r="1.35" fill="#DB8E00"/><circle cx="935.5" cy="869.0" r="1.35" fill="#F8766D"/><circle cx="879.7" cy="858.4" r="1.35" fill="#F8766D"/><circle cx="901.1" cy="781.2" r="1.35" fill="#64B200"/><circle cx="1291.0" cy="773.6" r="1.35" fill="#B385FF"/><circle cx="1314.8" cy="838.5" r="1.35" fill="#00BADE"/><circle cx="879.5" cy="978.5" r="1.35" fill="#00C1A7"/><circle cx="938.4" cy="824.3" r="1.35" fill="#64B200"/><circle cx="950.1" cy="959.3" r="1.35" fill="#EF67EB"/><circle cx="813.5" cy="907.2" r="1.35" fill="#AEA200"/><circle cx="820.2" cy="915.1" r="1.35" fill="#AEA200"/><circle cx="866.6" cy="929.4" r="1.35" fill="#EF67EB"/><circle cx="971.3" cy="993.7" r="1.35" fill="#00A6FF"/><circle cx="804.7" cy="925.7" r="1.35" fill="#AEA200"/><circle cx="842.9" cy="879.5" r="1.35" fill="#AEA200"/><circle cx="870.8" cy="838.7" r="1.35" fill="#F8766D"/><circle cx="882.1" cy="894.6" r="1.35" fill="#AEA200"/><circle cx="813.7" cy="943.1" r="1.35" fill="#AEA200"/><circle cx="916.5" cy="803.3" r="1.35" fill="#64B200"/><circle cx="945.4" cy="860.8" r="1.35" fill="#F8766D"/><circle cx="878.6" cy="983.2" r="1.35" fill="#00C1A7"/><circle cx="1288.8" cy="857.7" r="1.35" fill="#00BADE"/><circle cx="828.6" cy="900.6" r="1.35" fill="#AEA200"/><circle cx="1110.1" cy="741.3" r="1.35" fill="#DB8E00"/><circle cx="906.2" cy="781.0" r="1.35" fill="#64B200"/><circle cx="1208.6" cy="722.2" r="1.35" fill="#DB8E00"/><circle cx="969.0" cy="876.5" r="1.35" fill="#00C1A7"/><circle cx="931.6" cy="849.3" r="1.35" fill="#F8766D"/><circle cx="874.7" cy="831.2" r="1.35" fill="#F8766D"/><circle cx="1302.9" cy="780.0" r="1.35" fill="#B385FF"/><circle cx="1301.3" cy="846.0" r="1.35" fill="#00BADE"/><circle cx="809.7" cy="944.7" r="1.35" fill="#AEA200"/><circle cx="838.0" cy="981.6" r="1.35" fill="#00C1A7"/><circle cx="875.6" cy="805.2" r="1.35" fill="#64B200"/><circle cx="895.8" cy="971.3" r="1.35" fill="#00C1A7"/><circle cx="1185.4" cy="721.3" r="1.35" fill="#DB8E00"/><circle cx="1302.8" cy="767.6" r="1.35" fill="#B385FF"/><circle cx="1116.5" cy="744.0" r="1.35" fill="#DB8E00"/><circle cx="898.3" cy="858.7" r="1.35" fill="#F8766D"/><circle cx="1165.8" cy="721.6" r="1.35" fill="#DB8E00"/><circle cx="945.4" cy="983.3" r="1.35" fill="#00A6FF"/><circle cx="912.3" cy="935.6" r="1.35" fill="#00C1A7"/><circle cx="1181.7" cy="722.2" r="1.35" fill="#DB8E00"/><circle cx="903.1" cy="877.6" r="1.35" fill="#F8766D"/><circle cx="875.3" cy="912.0" r="1.35" fill="#EF67EB"/><circle cx="883.8" cy="893.7" r="1.35" fill="#AEA200"/><circle cx="944.7" cy="1005.9" r="1.35" fill="#00A6FF"/><circle cx="978.3" cy="994.5" r="1.35" fill="#00A6FF"/><circle cx="1214.4" cy="726.9" r="1.35" fill="#DB8E00"/><circle cx="936.5" cy="1006.8" r="1.35" fill="#00A6FF"/><circle cx="817.1" cy="920.2" r="1.35" fill="#AEA200"/><circle cx="970.2" cy="1003.0" r="1.35" fill="#00A6FF"/><circle cx="1327.7" cy="832.2" r="1.35" fill="#00BADE"/><circle cx="819.7" cy="958.6" r="1.35" fill="#AEA200"/><circle cx="1244.7" cy="732.3" r="1.35" fill="#DB8E00"/><circle cx="859.7" cy="916.8" r="1.35" fill="#EF67EB"/><circle cx="1134.8" cy="737.5" r="1.35" fill="#DB8E00"/><circle cx="872.4" cy="860.4" r="1.35" fill="#F8766D"/><circle cx="1105.7" cy="737.3" r="1.35" fill="#DB8E00"/><circle cx="1319.5" cy="807.0" r="1.35" fill="#00BADE"/><circle cx="922.7" cy="995.4" r="1.35" fill="#00A6FF"/><circle cx="945.8" cy="838.7" r="1.35" fill="#F8766D"/><circle cx="859.7" cy="865.2" r="1.35" fill="#F8766D"/><circle cx="915.3" cy="841.1" r="1.35" fill="#F8766D"/><circle cx="1305.7" cy="759.1" r="1.35" fill="#B385FF"/><circle cx="868.5" cy="789.0" r="1.35" fill="#64B200"/><circle cx="974.5" cy="993.2" r="1.35" fill="#00A6FF"/><circle cx="1192.6" cy="721.6" r="1.35" fill="#DB8E00"/><circle cx="929.0" cy="832.2" r="1.35" fill="#F8766D"/><circle cx="887.8" cy="859.6" r="1.35" fill="#F8766D"/><circle cx="994.3" cy="886.8" r="1.35" fill="#00C1A7"/><circle cx="1314.9" cy="769.6" r="1.35" fill="#B385FF"/><circle cx="944.0" cy="823.8" r="1.35" fill="#64B200"/><circle cx="1004.3" cy="886.9" r="1.35" fill="#00C1A7"/><circle cx="1213.0" cy="722.9" r="1.35" fill="#DB8E00"/><circle cx="872.3" cy="857.1" r="1.35" fill="#F8766D"/><circle cx="940.5" cy="1009.4" r="1.35" fill="#00A6FF"/><circle cx="966.8" cy="995.8" r="1.35" fill="#00A6FF"/><circle cx="893.6" cy="799.3" r="1.35" fill="#64B200"/><circle cx="947.2" cy="995.3" r="1.35" fill="#00A6FF"/><circle cx="901.1" cy="837.9" r="1.35" fill="#F8766D"/><circle cx="950.8" cy="1002.6" r="1.35" fill="#00A6FF"/><circle cx="891.5" cy="976.3" r="1.35" fill="#00C1A7"/><circle cx="856.3" cy="913.8" r="1.35" fill="#EF67EB"/><circle cx="956.7" cy="988.3" r="1.35" fill="#00A6FF"/><circle cx="893.3" cy="831.9" r="1.35" fill="#F8766D"/><circle cx="887.6" cy="802.9" r="1.35" fill="#64B200"/><circle cx="931.7" cy="844.3" r="1.35" fill="#F8766D"/><circle cx="968.4" cy="987.2" r="1.35" fill="#00A6FF"/><circle cx="1133.3" cy="751.5" r="1.35" fill="#DB8E00"/><circle cx="946.0" cy="800.8" r="1.35" fill="#64B200"/><circle cx="899.9" cy="977.8" r="1.35" fill="#00C1A7"/><circle cx="1301.6" cy="846.0" r="1.35" fill="#00BADE"/><circle cx="924.4" cy="841.5" r="1.35" fill="#F8766D"/><circle cx="864.5" cy="987.6" r="1.35" fill="#00C1A7"/><circle cx="1321.9" cy="842.0" r="1.35" fill="#00BADE"/><circle cx="1196.1" cy="850.0" r="1.35" fill="#00BD5C"/><circle cx="1315.0" cy="854.1" r="1.35" fill="#00BADE"/><circle cx="937.9" cy="797.8" r="1.35" fill="#64B200"/><circle cx="873.8" cy="890.5" r="1.35" fill="#AEA200"/><circle cx="871.6" cy="815.5" r="1.35" fill="#64B200"/><circle cx="931.1" cy="842.6" r="1.35" fill="#F8766D"/><circle cx="917.5" cy="870.2" r="1.35" fill="#F8766D"/><circle cx="1184.0" cy="728.4" r="1.35" fill="#DB8E00"/><circle cx="976.0" cy="989.4" r="1.35" fill="#00A6FF"/><circle cx="917.4" cy="995.8" r="1.35" fill="#00A6FF"/><circle cx="1312.1" cy="853.3" r="1.35" fill="#00BADE"/><circle cx="1169.1" cy="825.2" r="1.35" fill="#00BD5C"/><circle cx="885.6" cy="797.8" r="1.35" fill="#64B200"/><circle cx="814.4" cy="947.9" r="1.35" fill="#AEA200"/><circle cx="1312.2" cy="764.4" r="1.35" fill="#B385FF"/><circle cx="909.2" cy="942.9" r="1.35" fill="#00C1A7"/><circle cx="1119.9" cy="753.3" r="1.35" fill="#DB8E00"/><circle cx="1172.9" cy="831.9" r="1.35" fill="#00BD5C"/><circle cx="935.6" cy="810.2" r="1.35" fill="#64B200"/><circle cx="910.7" cy="990.0" r="1.35" fill="#00A6FF"/><circle cx="908.8" cy="789.1" r="1.35" fill="#64B200"/><circle cx="1131.5" cy="740.6" r="1.35" fill="#DB8E00"/><circle cx="802.6" cy="918.2" r="1.35" fill="#AEA200"/><circle cx="965.2" cy="976.0" r="1.35" fill="#EF67EB"/><circle cx="1303.9" cy="817.1" r="1.35" fill="#00BADE"/><circle cx="967.2" cy="993.1" r="1.35" fill="#00A6FF"/><circle cx="821.8" cy="943.3" r="1.35" fill="#AEA200"/><circle cx="917.8" cy="988.8" r="1.35" fill="#00A6FF"/><circle cx="1246.8" cy="870.4" r="1.35" fill="#00BD5C"/><circle cx="884.5" cy="902.9" r="1.35" fill="#AEA200"/><circle cx="881.2" cy="982.3" r="1.35" fill="#00C1A7"/><circle cx="1155.6" cy="730.9" r="1.35" fill="#DB8E00"/><circle cx="815.5" cy="943.2" r="1.35" fill="#AEA200"/><circle cx="815.2" cy="949.6" r="1.35" fill="#AEA200"/><circle cx="1306.6" cy="789.7" r="1.35" fill="#B385FF"/><circle cx="897.1" cy="775.3" r="1.35" fill="#64B200"/><circle cx="915.8" cy="815.0" r="1.35" fill="#64B200"/><circle cx="868.2" cy="851.9" r="1.35" fill="#F8766D"/><circle cx="935.2" cy="857.0" r="1.35" fill="#F8766D"/><circle cx="825.8" cy="914.6" r="1.35" fill="#AEA200"/><circle cx="1195.7" cy="842.6" r="1.35" fill="#00BD5C"/><circle cx="906.5" cy="875.5" r="1.35" fill="#F8766D"/><circle cx="903.1" cy="784.6" r="1.35" fill="#64B200"/><circle cx="1250.3" cy="867.1" r="1.35" fill="#00BD5C"/><circle cx="972.0" cy="977.4" r="1.35" fill="#00A6FF"/><circle cx="941.3" cy="796.5" r="1.35" fill="#64B200"/><circle cx="1210.8" cy="841.9" r="1.35" fill="#00BD5C"/><circle cx="1320.1" cy="843.3" r="1.35" fill="#00BADE"/><circle cx="1285.9" cy="758.0" r="1.35" fill="#B385FF"/><circle cx="867.4" cy="917.3" r="1.35" fill="#EF67EB"/><circle cx="1299.4" cy="858.9" r="1.35" fill="#00BADE"/><circle cx="1144.5" cy="726.7" r="1.35" fill="#DB8E00"/><circle cx="1222.5" cy="853.3" r="1.35" fill="#00BD5C"/><circle cx="1262.8" cy="820.6" r="1.35" fill="#00BD5C"/><circle cx="852.3" cy="874.2" r="1.35" fill="#AEA200"/><circle cx="888.5" cy="876.4" r="1.35" fill="#F8766D"/><circle cx="1119.7" cy="752.7" r="1.35" fill="#DB8E00"/><circle cx="1195.4" cy="722.2" r="1.35" fill="#DB8E00"/><circle cx="1158.9" cy="726.4" r="1.35" fill="#DB8E00"/><circle cx="1262.8" cy="868.0" r="1.35" fill="#00BD5C"/><circle cx="919.7" cy="978.4" r="1.35" fill="#00A6FF"/><circle cx="987.3" cy="991.4" r="1.35" fill="#00A6FF"/><circle cx="1162.2" cy="713.6" r="1.35" fill="#DB8E00"/><circle cx="937.3" cy="801.7" r="1.35" fill="#64B200"/><circle cx="1246.2" cy="869.8" r="1.35" fill="#00BD5C"/><circle cx="832.3" cy="980.4" r="1.35" fill="#00C1A7"/><circle cx="1307.1" cy="855.1" r="1.35" fill="#00BADE"/><circle cx="1283.1" cy="862.2" r="1.35" fill="#00BADE"/><circle cx="1300.8" cy="857.0" r="1.35" fill="#00BADE"/><circle cx="1293.5" cy="820.7" r="1.35" fill="#00BADE"/><circle cx="1207.6" cy="842.1" r="1.35" fill="#00BD5C"/><circle cx="1236.7" cy="831.7" r="1.35" fill="#00BD5C"/><circle cx="917.7" cy="834.5" r="1.35" fill="#F8766D"/><circle cx="917.6" cy="821.8" r="1.35" fill="#F8766D"/><circle cx="1136.7" cy="734.5" r="1.35" fill="#DB8E00"/><circle cx="1191.3" cy="726.6" r="1.35" fill="#DB8E00"/><circle cx="1178.3" cy="725.4" r="1.35" fill="#DB8E00"/><circle cx="923.3" cy="992.3" r="1.35" fill="#00A6FF"/><circle cx="1282.6" cy="859.8" r="1.35" fill="#00BADE"/><circle cx="909.7" cy="881.9" r="1.35" fill="#F8766D"/><circle cx="947.8" cy="813.9" r="1.35" fill="#64B200"/><circle cx="902.0" cy="811.1" r="1.35" fill="#64B200"/><circle cx="973.7" cy="990.9" r="1.35" fill="#00A6FF"/><circle cx="1135.0" cy="736.0" r="1.35" fill="#DB8E00"/><circle cx="916.2" cy="913.9" r="1.35" fill="#00C1A7"/><circle cx="864.0" cy="852.4" r="1.35" fill="#F8766D"/><circle cx="923.4" cy="850.6" r="1.35" fill="#F8766D"/><circle cx="1145.5" cy="728.4" r="1.35" fill="#DB8E00"/><circle cx="892.9" cy="853.0" r="1.35" fill="#F8766D"/><circle cx="1288.7" cy="841.7" r="1.35" fill="#00BADE"/><circle cx="1241.2" cy="863.1" r="1.35" fill="#00BD5C"/><circle cx="967.3" cy="969.8" r="1.35" fill="#EF67EB"/><circle cx="922.1" cy="831.3" r="1.35" fill="#F8766D"/><circle cx="920.0" cy="793.3" r="1.35" fill="#64B200"/><circle cx="869.3" cy="854.3" r="1.35" fill="#F8766D"/><circle cx="953.8" cy="999.2" r="1.35" fill="#00A6FF"/><circle cx="827.2" cy="878.1" r="1.35" fill="#AEA200"/><circle cx="931.1" cy="998.2" r="1.35" fill="#00A6FF"/><circle cx="820.1" cy="889.3" r="1.35" fill="#AEA200"/><circle cx="997.0" cy="886.6" r="1.35" fill="#00C1A7"/><circle cx="942.0" cy="998.3" r="1.35" fill="#00A6FF"/><circle cx="947.4" cy="799.8" r="1.35" fill="#64B200"/><circle cx="881.9" cy="879.7" r="1.35" fill="#F8766D"/><circle cx="1202.2" cy="839.5" r="1.35" fill="#00BD5C"/><circle cx="812.1" cy="928.4" r="1.35" fill="#AEA200"/><circle cx="1319.1" cy="825.9" r="1.35" fill="#00BADE"/><circle cx="949.4" cy="959.1" r="1.35" fill="#EF67EB"/><circle cx="819.0" cy="950.2" r="1.35" fill="#AEA200"/><circle cx="1310.6" cy="767.3" r="1.35" fill="#B385FF"/><circle cx="1296.3" cy="755.4" r="1.35" fill="#B385FF"/><circle cx="861.5" cy="931.0" r="1.35" fill="#EF67EB"/><circle cx="907.0" cy="779.5" r="1.35" fill="#64B200"/><circle cx="1130.3" cy="736.7" r="1.35" fill="#DB8E00"/><circle cx="1300.1" cy="778.2" r="1.35" fill="#B385FF"/><circle cx="934.5" cy="808.4" r="1.35" fill="#64B200"/><circle cx="904.1" cy="779.3" r="1.35" fill="#64B200"/><circle cx="918.0" cy="810.3" r="1.35" fill="#64B200"/><circle cx="1245.4" cy="734.9" r="1.35" fill="#DB8E00"/><circle cx="1225.5" cy="730.1" r="1.35" fill="#DB8E00"/><circle cx="1165.4" cy="725.7" r="1.35" fill="#DB8E00"/><circle cx="852.9" cy="985.5" r="1.35" fill="#00C1A7"/><circle cx="820.3" cy="923.1" r="1.35" fill="#AEA200"/><circle cx="924.1" cy="835.9" r="1.35" fill="#F8766D"/><circle cx="934.2" cy="828.0" r="1.35" fill="#F8766D"/><circle cx="1210.4" cy="858.4" r="1.35" fill="#00BD5C"/><circle cx="1114.3" cy="745.3" r="1.35" fill="#DB8E00"/><circle cx="934.1" cy="825.2" r="1.35" fill="#F8766D"/><circle cx="946.3" cy="945.8" r="1.35" fill="#EF67EB"/><circle cx="851.9" cy="978.7" r="1.35" fill="#00C1A7"/><circle cx="1108.8" cy="746.7" r="1.35" fill="#DB8E00"/><circle cx="1206.6" cy="839.5" r="1.35" fill="#00BD5C"/><circle cx="907.2" cy="803.9" r="1.35" fill="#64B200"/><circle cx="922.4" cy="822.4" r="1.35" fill="#F8766D"/><circle cx="1209.3" cy="724.1" r="1.35" fill="#DB8E00"/><circle cx="911.6" cy="959.8" r="1.35" fill="#00C1A7"/><circle cx="1170.3" cy="822.2" r="1.35" fill="#00BD5C"/><circle cx="974.3" cy="986.8" r="1.35" fill="#00A6FF"/><circle cx="941.1" cy="827.0" r="1.35" fill="#64B200"/><circle cx="966.1" cy="971.5" r="1.35" fill="#EF67EB"/><circle cx="1192.3" cy="841.7" r="1.35" fill="#00BD5C"/><circle cx="876.2" cy="985.4" r="1.35" fill="#00C1A7"/><circle cx="1180.3" cy="719.3" r="1.35" fill="#DB8E00"/><circle cx="878.4" cy="854.1" r="1.35" fill="#F8766D"/><circle cx="1290.9" cy="856.9" r="1.35" fill="#00BADE"/><circle cx="944.2" cy="996.9" r="1.35" fill="#00A6FF"/><circle cx="1300.7" cy="776.3" r="1.35" fill="#B385FF"/><circle cx="934.4" cy="868.7" r="1.35" fill="#F8766D"/><circle cx="895.8" cy="834.6" r="1.35" fill="#F8766D"/><circle cx="1110.6" cy="741.5" r="1.35" fill="#DB8E00"/><circle cx="903.6" cy="856.5" r="1.35" fill="#F8766D"/><circle cx="1183.9" cy="840.0" r="1.35" fill="#00BD5C"/><circle cx="834.0" cy="916.6" r="1.35" fill="#AEA200"/><circle cx="863.6" cy="922.8" r="1.35" fill="#EF67EB"/><circle cx="830.6" cy="950.0" r="1.35" fill="#AEA200"/><circle cx="912.1" cy="957.2" r="1.35" fill="#00C1A7"/><circle cx="1122.1" cy="731.8" r="1.35" fill="#DB8E00"/><circle cx="871.6" cy="832.5" r="1.35" fill="#F8766D"/><circle cx="913.0" cy="996.4" r="1.35" fill="#00A6FF"/><circle cx="883.3" cy="852.5" r="1.35" fill="#F8766D"/><circle cx="810.7" cy="912.7" r="1.35" fill="#AEA200"/><circle cx="1296.5" cy="781.7" r="1.35" fill="#B385FF"/><circle cx="918.9" cy="861.3" r="1.35" fill="#F8766D"/><circle cx="955.2" cy="806.1" r="1.35" fill="#64B200"/><circle cx="1198.1" cy="837.6" r="1.35" fill="#00BD5C"/><circle cx="1289.4" cy="862.2" r="1.35" fill="#00BADE"/><circle cx="926.5" cy="822.3" r="1.35" fill="#F8766D"/><circle cx="923.6" cy="1003.6" r="1.35" fill="#00A6FF"/><circle cx="940.4" cy="789.7" r="1.35" fill="#64B200"/><circle cx="896.5" cy="864.5" r="1.35" fill="#F8766D"/><circle cx="976.1" cy="994.6" r="1.35" fill="#00A6FF"/><circle cx="1248.8" cy="869.8" r="1.35" fill="#00BD5C"/><circle cx="925.1" cy="843.9" r="1.35" fill="#F8766D"/><circle cx="1241.6" cy="735.7" r="1.35" fill="#DB8E00"/><circle cx="1216.4" cy="844.3" r="1.35" fill="#00BD5C"/><circle cx="1170.0" cy="826.8" r="1.35" fill="#00BD5C"/><circle cx="920.0" cy="840.5" r="1.35" fill="#F8766D"/><circle cx="900.2" cy="834.4" r="1.35" fill="#F8766D"/><circle cx="948.8" cy="951.3" r="1.35" fill="#EF67EB"/><circle cx="889.0" cy="830.7" r="1.35" fill="#F8766D"/><circle cx="935.6" cy="789.7" r="1.35" fill="#64B200"/><circle cx="819.0" cy="948.2" r="1.35" fill="#AEA200"/><circle cx="917.1" cy="861.1" r="1.35" fill="#F8766D"/><circle cx="849.4" cy="903.6" r="1.35" fill="#AEA200"/><circle cx="916.1" cy="925.3" r="1.35" fill="#00C1A7"/><circle cx="913.7" cy="958.4" r="1.35" fill="#00C1A7"/><circle cx="976.2" cy="996.4" r="1.35" fill="#00A6FF"/><circle cx="893.1" cy="804.4" r="1.35" fill="#64B200"/><circle cx="917.6" cy="915.8" r="1.35" fill="#00C1A7"/><circle cx="1308.1" cy="853.3" r="1.35" fill="#00BADE"/><circle cx="930.6" cy="1004.5" r="1.35" fill="#00A6FF"/><circle cx="915.6" cy="930.4" r="1.35" fill="#00C1A7"/><circle cx="938.7" cy="810.6" r="1.35" fill="#64B200"/><circle cx="874.2" cy="860.5" r="1.35" fill="#F8766D"/><circle cx="914.8" cy="924.7" r="1.35" fill="#00C1A7"/><circle cx="901.9" cy="805.4" r="1.35" fill="#64B200"/><circle cx="837.3" cy="865.6" r="1.35" fill="#AEA200"/><circle cx="1300.0" cy="856.7" r="1.35" fill="#00BADE"/><circle cx="826.9" cy="957.1" r="1.35" fill="#AEA200"/><circle cx="916.3" cy="936.3" r="1.35" fill="#00C1A7"/><circle cx="921.9" cy="870.2" r="1.35" fill="#F8766D"/><circle cx="1326.2" cy="825.6" r="1.35" fill="#00BADE"/><circle cx="1221.2" cy="849.8" r="1.35" fill="#00BD5C"/><circle cx="1208.4" cy="853.9" r="1.35" fill="#00BD5C"/><circle cx="857.1" cy="988.9" r="1.35" fill="#00C1A7"/><circle cx="1115.8" cy="743.6" r="1.35" fill="#DB8E00"/><circle cx="914.8" cy="950.2" r="1.35" fill="#00C1A7"/><circle cx="881.4" cy="851.8" r="1.35" fill="#F8766D"/><circle cx="1307.1" cy="823.1" r="1.35" fill="#00BADE"/><circle cx="1314.2" cy="773.0" r="1.35" fill="#B385FF"/><circle cx="894.0" cy="890.2" r="1.35" fill="#F8766D"/><circle cx="1292.2" cy="861.3" r="1.35" fill="#00BADE"/><circle cx="840.1" cy="978.5" r="1.35" fill="#00C1A7"/><circle cx="815.1" cy="950.6" r="1.35" fill="#AEA200"/><circle cx="870.8" cy="912.8" r="1.35" fill="#EF67EB"/><circle cx="863.0" cy="842.0" r="1.35" fill="#F8766D"/><circle cx="1311.9" cy="856.4" r="1.35" fill="#00BADE"/><circle cx="876.7" cy="853.4" r="1.35" fill="#F8766D"/><circle cx="1293.8" cy="849.4" r="1.35" fill="#00BADE"/><circle cx="1190.9" cy="724.3" r="1.35" fill="#DB8E00"/><circle cx="898.5" cy="966.3" r="1.35" fill="#00C1A7"/><circle cx="1287.9" cy="762.9" r="1.35" fill="#B385FF"/><circle cx="884.2" cy="888.5" r="1.35" fill="#F8766D"/><circle cx="832.8" cy="889.9" r="1.35" fill="#AEA200"/><circle cx="1290.7" cy="859.5" r="1.35" fill="#00BADE"/><circle cx="871.2" cy="833.9" r="1.35" fill="#F8766D"/><circle cx="807.2" cy="922.0" r="1.35" fill="#AEA200"/><circle cx="902.1" cy="975.0" r="1.35" fill="#00C1A7"/><circle cx="866.6" cy="975.0" r="1.35" fill="#00C1A7"/><circle cx="1326.3" cy="834.9" r="1.35" fill="#00BADE"/><circle cx="885.6" cy="869.3" r="1.35" fill="#F8766D"/><circle cx="969.2" cy="1005.1" r="1.35" fill="#00A6FF"/><circle cx="931.9" cy="796.8" r="1.35" fill="#64B200"/><circle cx="803.8" cy="920.2" r="1.35" fill="#AEA200"/><circle cx="876.2" cy="926.0" r="1.35" fill="#EF67EB"/><circle cx="920.7" cy="1001.8" r="1.35" fill="#00A6FF"/><circle cx="1109.6" cy="736.7" r="1.35" fill="#DB8E00"/><circle cx="1202.1" cy="836.8" r="1.35" fill="#00BD5C"/><circle cx="851.8" cy="914.1" r="1.35" fill="#EF67EB"/><circle cx="867.9" cy="975.5" r="1.35" fill="#00C1A7"/><circle cx="936.0" cy="1003.5" r="1.35" fill="#00A6FF"/><circle cx="1296.8" cy="854.3" r="1.35" fill="#00BADE"/><circle cx="1307.3" cy="854.2" r="1.35" fill="#00BADE"/><circle cx="985.8" cy="982.8" r="1.35" fill="#00A6FF"/><circle cx="874.7" cy="906.0" r="1.35" fill="#AEA200"/><circle cx="934.8" cy="795.0" r="1.35" fill="#64B200"/><circle cx="1186.2" cy="727.0" r="1.35" fill="#DB8E00"/><circle cx="1293.1" cy="857.5" r="1.35" fill="#00BADE"/><circle cx="1244.3" cy="742.3" r="1.35" fill="#DB8E00"/><circle cx="1264.4" cy="862.5" r="1.35" fill="#00BD5C"/><circle cx="1239.6" cy="735.5" r="1.35" fill="#DB8E00"/><circle cx="832.6" cy="886.1" r="1.35" fill="#AEA200"/><circle cx="891.9" cy="867.6" r="1.35" fill="#F8766D"/><circle cx="1192.9" cy="837.6" r="1.35" fill="#00BD5C"/><circle cx="974.9" cy="984.2" r="1.35" fill="#00A6FF"/><circle cx="944.3" cy="803.7" r="1.35" fill="#64B200"/><circle cx="870.0" cy="806.6" r="1.35" fill="#64B200"/><circle cx="941.8" cy="1006.9" r="1.35" fill="#00A6FF"/><circle cx="876.2" cy="866.0" r="1.35" fill="#F8766D"/><circle cx="878.5" cy="812.2" r="1.35" fill="#64B200"/><circle cx="872.4" cy="917.0" r="1.35" fill="#EF67EB"/><circle cx="1322.3" cy="815.2" r="1.35" fill="#00BADE"/><circle cx="1240.9" cy="736.1" r="1.35" fill="#DB8E00"/><circle cx="1314.9" cy="846.2" r="1.35" fill="#00BADE"/><circle cx="946.4" cy="801.8" r="1.35" fill="#64B200"/><circle cx="1297.2" cy="825.4" r="1.35" fill="#00BADE"/><circle cx="1176.5" cy="832.0" r="1.35" fill="#00BD5C"/><circle cx="862.4" cy="922.7" r="1.35" fill="#EF67EB"/><circle cx="1302.7" cy="767.8" r="1.35" fill="#B385FF"/><circle cx="835.7" cy="981.3" r="1.35" fill="#00C1A7"/><circle cx="966.7" cy="997.4" r="1.35" fill="#00A6FF"/><circle cx="1192.8" cy="724.8" r="1.35" fill="#DB8E00"/><circle cx="964.3" cy="993.9" r="1.35" fill="#00A6FF"/><circle cx="965.0" cy="997.9" r="1.35" fill="#00A6FF"/><circle cx="1170.0" cy="824.7" r="1.35" fill="#00BD5C"/><circle cx="1306.2" cy="837.7" r="1.35" fill="#00BADE"/><circle cx="872.2" cy="828.9" r="1.35" fill="#F8766D"/><circle cx="840.4" cy="978.4" r="1.35" fill="#00C1A7"/><circle cx="1170.5" cy="836.8" r="1.35" fill="#00BD5C"/><circle cx="1290.9" cy="852.8" r="1.35" fill="#00BADE"/><circle cx="935.3" cy="1007.6" r="1.35" fill="#00A6FF"/><circle cx="1216.6" cy="854.0" r="1.35" fill="#00BD5C"/><circle cx="858.8" cy="890.8" r="1.35" fill="#AEA200"/><circle cx="826.9" cy="930.1" r="1.35" fill="#AEA200"/><circle cx="907.5" cy="956.5" r="1.35" fill="#00C1A7"/><circle cx="1127.4" cy="736.4" r="1.35" fill="#DB8E00"/><circle cx="1154.8" cy="729.6" r="1.35" fill="#DB8E00"/><circle cx="907.1" cy="869.6" r="1.35" fill="#F8766D"/><circle cx="1302.9" cy="859.0" r="1.35" fill="#00BADE"/><circle cx="820.5" cy="942.9" r="1.35" fill="#AEA200"/><circle cx="873.1" cy="784.7" r="1.35" fill="#64B200"/><circle cx="1159.9" cy="724.7" r="1.35" fill="#DB8E00"/><circle cx="989.3" cy="979.5" r="1.35" fill="#00A6FF"/><circle cx="896.3" cy="851.3" r="1.35" fill="#F8766D"/><circle cx="873.3" cy="790.1" r="1.35" fill="#64B200"/><circle cx="1245.2" cy="860.9" r="1.35" fill="#00BD5C"/><circle cx="857.1" cy="854.4" r="1.35" fill="#F8766D"/><circle cx="938.3" cy="835.7" r="1.35" fill="#F8766D"/><circle cx="872.9" cy="844.9" r="1.35" fill="#F8766D"/><circle cx="1262.8" cy="853.4" r="1.35" fill="#00BD5C"/><circle cx="836.6" cy="866.7" r="1.35" fill="#AEA200"/><circle cx="1117.4" cy="744.5" r="1.35" fill="#DB8E00"/><circle cx="1257.7" cy="865.1" r="1.35" fill="#00BD5C"/><circle cx="923.1" cy="823.1" r="1.35" fill="#F8766D"/><circle cx="888.7" cy="860.6" r="1.35" fill="#F8766D"/><circle cx="892.0" cy="982.0" r="1.35" fill="#00C1A7"/><circle cx="872.8" cy="974.6" r="1.35" fill="#00C1A7"/><circle cx="957.4" cy="1004.4" r="1.35" fill="#00A6FF"/><circle cx="1292.3" cy="845.9" r="1.35" fill="#00BADE"/><circle cx="899.1" cy="778.5" r="1.35" fill="#64B200"/><circle cx="1318.0" cy="1120.0" r="1.35" fill="#FF63B6"/><circle cx="1314.0" cy="1120.2" r="1.35" fill="#FF63B6"/><circle cx="1324.4" cy="1120.2" r="1.35" fill="#FF63B6"/><circle cx="1317.7" cy="1121.9" r="1.35" fill="#FF63B6"/><circle cx="1320.5" cy="1123.0" r="1.35" fill="#FF63B6"/><circle cx="1319.6" cy="1120.9" r="1.35" fill="#FF63B6"/><circle cx="1321.8" cy="1120.1" r="1.35" fill="#FF63B6"/><circle cx="1327.0" cy="1120.7" r="1.35" fill="#FF63B6"/><circle cx="1317.8" cy="1121.9" r="1.35" fill="#FF63B6"/><circle cx="1313.5" cy="1121.9" r="1.35" fill="#FF63B6"/><circle cx="1326.0" cy="1120.6" r="1.35" fill="#FF63B6"/><circle cx="1327.8" cy="1121.3" r="1.35" fill="#FF63B6"/><circle cx="1324.7" cy="1121.1" r="1.35" fill="#FF63B6"/><circle cx="1318.0" cy="1120.3" r="1.35" fill="#FF63B6"/><circle cx="1346.0" cy="1124.7" r="1.35" fill="#FF63B6"/><circle cx="1351.9" cy="1127.7" r="1.35" fill="#FF63B6"/><circle cx="1353.8" cy="1127.0" r="1.35" fill="#FF63B6"/><circle cx="1349.7" cy="1124.3" r="1.35" fill="#FF63B6"/><circle cx="1354.8" cy="1129.3" r="1.35" fill="#FF63B6"/><circle cx="1356.5" cy="1128.4" r="1.35" fill="#FF63B6"/><circle cx="1346.8" cy="1124.5" r="1.35" fill="#FF63B6"/></g>
<text x="293.5" y="39.7" font-size="50" font-weight="bold" text-anchor="start" fill="#000">5 dpi</text>
<text x="995.8" y="36.4" font-size="50" font-weight="bold" text-anchor="start" fill="#000">14 dpi</text>
<line x1="53.10" y1="109.50" x2="53.10" y2="606.50" stroke="#000" stroke-width="1.8"/>
<line x1="52.20" y1="605.60" x2="652.30" y2="605.60" stroke="#000" stroke-width="1.8"/>
<line x1="114.70" y1="605.60" x2="114.70" y2="610.60" stroke="#000" stroke-width="1.8"/>
<text x="114.7" y="628.8" font-size="19" text-anchor="middle" fill="#000">−10</text>
<line x1="284.50" y1="605.60" x2="284.50" y2="610.60" stroke="#000" stroke-width="1.8"/>
<text x="284.5" y="628.8" font-size="19" text-anchor="middle" fill="#000">−5</text>
<line x1="454.30" y1="605.60" x2="454.30" y2="610.60" stroke="#000" stroke-width="1.8"/>
<text x="454.3" y="628.8" font-size="19" text-anchor="middle" fill="#000">0</text>
<line x1="624.10" y1="605.60" x2="624.10" y2="610.60" stroke="#000" stroke-width="1.8"/>
<text x="624.1" y="628.8" font-size="19" text-anchor="middle" fill="#000">5</text>
<line x1="48.10" y1="162.50" x2="53.10" y2="162.50" stroke="#000" stroke-width="1.8"/>
<text x="44.3" y="169.5" font-size="19" text-anchor="end" fill="#000">5</text>
<line x1="48.10" y1="312.40" x2="53.10" y2="312.40" stroke="#000" stroke-width="1.8"/>
<text x="44.3" y="319.4" font-size="19" text-anchor="end" fill="#000">0</text>
<line x1="48.10" y1="462.80" x2="53.10" y2="462.80" stroke="#000" stroke-width="1.8"/>
<text x="44.3" y="469.8" font-size="19" text-anchor="end" fill="#000">−5</text>
<text x="351.5" y="655.8" font-size="21.8" text-anchor="middle" fill="#000">UMAP_1</text>
<text x="17.0" y="357.0" font-size="21.8" text-anchor="middle" fill="#000" transform="rotate(-90 17.0 357.0)">UMAP_2</text>
<text x="69.5" y="119.0" font-size="51" font-weight="bold" text-anchor="start" fill="#000">a</text>
<text x="256.1" y="108.5" font-size="27.7" font-weight="bold" text-anchor="start" fill="#000">Rtkn2 / Lamp3</text>
<line x1="773.40" y1="107.10" x2="773.40" y2="606.20" stroke="#000" stroke-width="1.8"/>
<line x1="772.50" y1="605.30" x2="1365.70" y2="605.30" stroke="#000" stroke-width="1.8"/>
<line x1="886.60" y1="605.30" x2="886.60" y2="610.30" stroke="#000" stroke-width="1.8"/>
<text x="886.6" y="628.5" font-size="19" text-anchor="middle" fill="#000">−5</text>
<line x1="1027.20" y1="605.30" x2="1027.20" y2="610.30" stroke="#000" stroke-width="1.8"/>
<text x="1027.2" y="628.5" font-size="19" text-anchor="middle" fill="#000">0</text>
<line x1="1168.80" y1="605.30" x2="1168.80" y2="610.30" stroke="#000" stroke-width="1.8"/>
<text x="1168.8" y="628.5" font-size="19" text-anchor="middle" fill="#000">5</text>
<line x1="1310.90" y1="605.30" x2="1310.90" y2="610.30" stroke="#000" stroke-width="1.8"/>
<text x="1310.9" y="628.5" font-size="19" text-anchor="middle" fill="#000">10</text>
<line x1="768.40" y1="178.20" x2="773.40" y2="178.20" stroke="#000" stroke-width="1.8"/>
<text x="764.6" y="185.2" font-size="19" text-anchor="end" fill="#000">5</text>
<line x1="768.40" y1="296.80" x2="773.40" y2="296.80" stroke="#000" stroke-width="1.8"/>
<text x="764.6" y="303.8" font-size="19" text-anchor="end" fill="#000">0</text>
<line x1="768.40" y1="415.90" x2="773.40" y2="415.90" stroke="#000" stroke-width="1.8"/>
<text x="764.6" y="422.9" font-size="19" text-anchor="end" fill="#000">−5</text>
<line x1="768.40" y1="535.00" x2="773.40" y2="535.00" stroke="#000" stroke-width="1.8"/>
<text x="764.6" y="542.0" font-size="19" text-anchor="end" fill="#000">−10</text>
<text x="1069.5" y="655.8" font-size="21.8" text-anchor="middle" fill="#000">UMAP_1</text>
<text x="725.8" y="356.6" font-size="21.8" text-anchor="middle" fill="#000" transform="rotate(-90 725.8 356.6)">UMAP_2</text>
<text x="787.1" y="119.9" font-size="51" font-weight="bold" text-anchor="start" fill="#000">f</text>
<text x="972.7" y="108.5" font-size="27.7" font-weight="bold" text-anchor="start" fill="#000">Rtkn2 / Lamp3</text>
<line x1="51.60" y1="693.80" x2="51.60" y2="1150.10" stroke="#000" stroke-width="1.8"/>
<line x1="50.70" y1="1149.20" x2="663.40" y2="1149.20" stroke="#000" stroke-width="1.8"/>
<line x1="95.60" y1="1149.20" x2="95.60" y2="1154.20" stroke="#000" stroke-width="1.8"/>
<text x="0" y="0" font-size="21.5" text-anchor="middle" fill="#000" transform="translate(95.6 1178.5) scale(0.8 1)">−10</text>
<line x1="282.40" y1="1149.20" x2="282.40" y2="1154.20" stroke="#000" stroke-width="1.8"/>
<text x="0" y="0" font-size="21.5" text-anchor="middle" fill="#000" transform="translate(282.4 1178.5) scale(0.8 1)">−5</text>
<line x1="469.50" y1="1149.20" x2="469.50" y2="1154.20" stroke="#000" stroke-width="1.8"/>
<text x="0" y="0" font-size="21.5" text-anchor="middle" fill="#000" transform="translate(469.5 1178.5) scale(0.8 1)">0</text>
<line x1="656.40" y1="1149.20" x2="656.40" y2="1154.20" stroke="#000" stroke-width="1.8"/>
<text x="0" y="0" font-size="21.5" text-anchor="middle" fill="#000" transform="translate(656.4 1178.5) scale(0.8 1)">5</text>
<line x1="46.60" y1="724.70" x2="51.60" y2="724.70" stroke="#000" stroke-width="1.8"/>
<text x="0" y="0" font-size="21.5" text-anchor="end" fill="#000" transform="translate(42.8 731.2) scale(0.8 1)">5</text>
<line x1="46.60" y1="869.60" x2="51.60" y2="869.60" stroke="#000" stroke-width="1.8"/>
<text x="0" y="0" font-size="21.5" text-anchor="end" fill="#000" transform="translate(42.8 876.1) scale(0.8 1)">0</text>
<line x1="46.60" y1="1013.50" x2="51.60" y2="1013.50" stroke="#000" stroke-width="1.8"/>
<text x="0" y="0" font-size="21.5" text-anchor="end" fill="#000" transform="translate(42.8 1020.0) scale(0.8 1)">−5</text>
<text x="365.0" y="1189.6" font-size="21.8" text-anchor="middle" fill="#000">UMAP_1</text>
<text x="21.9" y="913.0" font-size="21.8" text-anchor="middle" fill="#000" transform="rotate(-90 21.9 913)">UMAP_2</text>
<text x="67.5" y="716.2" font-size="51" font-weight="bold" text-anchor="start" fill="#000">b</text>
<line x1="776.40" y1="693.80" x2="776.40" y2="1150.10" stroke="#000" stroke-width="1.8"/>
<line x1="775.50" y1="1149.20" x2="1379.80" y2="1149.20" stroke="#000" stroke-width="1.8"/>
<line x1="878.20" y1="1149.20" x2="878.20" y2="1154.20" stroke="#000" stroke-width="1.8"/>
<text x="878.2" y="1172.4" font-size="20.5" text-anchor="middle" fill="#000">-5</text>
<line x1="1034.70" y1="1149.20" x2="1034.70" y2="1154.20" stroke="#000" stroke-width="1.8"/>
<text x="1034.7" y="1172.4" font-size="20.5" text-anchor="middle" fill="#000">0</text>
<line x1="1192.30" y1="1149.20" x2="1192.30" y2="1154.20" stroke="#000" stroke-width="1.8"/>
<text x="1192.3" y="1172.4" font-size="20.5" text-anchor="middle" fill="#000">5</text>
<line x1="1349.80" y1="1149.20" x2="1349.80" y2="1154.20" stroke="#000" stroke-width="1.8"/>
<text x="1349.8" y="1172.4" font-size="20.5" text-anchor="middle" fill="#000">10</text>
<line x1="771.40" y1="745.30" x2="776.40" y2="745.30" stroke="#000" stroke-width="1.8"/>
<text x="767.6" y="752.3" font-size="20.5" text-anchor="end" fill="#000">5</text>
<line x1="771.40" y1="862.50" x2="776.40" y2="862.50" stroke="#000" stroke-width="1.8"/>
<text x="767.6" y="869.5" font-size="20.5" text-anchor="end" fill="#000">0</text>
<line x1="771.40" y1="979.70" x2="776.40" y2="979.70" stroke="#000" stroke-width="1.8"/>
<text x="767.6" y="986.7" font-size="20.5" text-anchor="end" fill="#000">-5</text>
<line x1="771.40" y1="1097.00" x2="776.40" y2="1097.00" stroke="#000" stroke-width="1.8"/>
<text x="767.6" y="1104.0" font-size="20.5" text-anchor="end" fill="#000">-10</text>
<text x="1086.0" y="1189.6" font-size="21.8" text-anchor="middle" fill="#000">UMAP_1</text>
<text x="738.8" y="913.0" font-size="21.8" text-anchor="middle" fill="#000" transform="rotate(-90 738.8 913)">UMAP_2</text>
<text x="787.0" y="705.6" font-size="51" font-weight="bold" text-anchor="start" fill="#000">g</text>
<text x="577.4" y="761.1" font-size="28" text-anchor="middle" fill="#000">0</text>
<text x="142.0" y="820.0" font-size="28" text-anchor="middle" fill="#000">2</text>
<text x="316.5" y="835.0" font-size="28" text-anchor="middle" fill="#000">6</text>
<text x="509.0" y="859.0" font-size="28" text-anchor="middle" fill="#000">5</text>
<text x="601.9" y="864.2" font-size="28" text-anchor="middle" fill="#000">3</text>
<text x="588.4" y="1006.6" font-size="28" text-anchor="middle" fill="#000">1</text>
<text x="575.7" y="1100.4" font-size="28" text-anchor="middle" fill="#000">4</text>
<text x="1158.5" y="745.0" font-size="28" text-anchor="middle" fill="#000">1</text>
<text x="1302.4" y="784.9" font-size="28" text-anchor="middle" fill="#000">8</text>
<text x="909.6" y="813.0" font-size="28" text-anchor="middle" fill="#000">3</text>
<text x="903.0" y="864.6" font-size="28" text-anchor="middle" fill="#000">0</text>
<text x="1304.8" y="848.2" font-size="28" text-anchor="middle" fill="#000">6</text>
<text x="1220.4" y="859.9" font-size="28" text-anchor="middle" fill="#000">4</text>
<text x="827.5" y="913.8" font-size="28" text-anchor="middle" fill="#000">2</text>
<text x="939.1" y="956.0" font-size="28" text-anchor="middle" fill="#000">9</text>
<text x="898.3" y="981.8" font-size="28" text-anchor="middle" fill="#000">5</text>
<text x="962.5" y="1005.2" font-size="28" text-anchor="middle" fill="#000">7</text>
<text x="1336.7" y="1134.1" font-size="28" text-anchor="middle" fill="#000">10</text>
<rect x="73.00" y="1622.11" width="65.40" height="0.49" fill="#BEBEBE" stroke="#000" stroke-width="1"/>
<rect x="229.94" y="1327.86" width="65.40" height="294.74" fill="#FF0000" stroke="#000" stroke-width="1"/>
<rect x="308.41" y="1620.96" width="65.40" height="1.64" fill="#BEBEBE" stroke="#000" stroke-width="1"/>
<rect x="465.35" y="1613.16" width="65.40" height="9.44" fill="#BEBEBE" stroke="#000" stroke-width="1"/>
<rect x="543.82" y="1255.61" width="65.40" height="366.99" fill="#FF0000" stroke="#000" stroke-width="1"/>
<line x1="42.20" y1="1622.60" x2="630.00" y2="1622.60" stroke="#333" stroke-width="1.0"/>
<line x1="51.50" y1="1622.60" x2="51.50" y2="1293.70" stroke="#222" stroke-width="1.0"/>
<line x1="42.20" y1="1622.60" x2="51.50" y2="1622.60" stroke="#222" stroke-width="1.0"/>
<text x="30.3" y="1622.6" font-size="15.5" font-weight="bold" text-anchor="middle" fill="#000" transform="rotate(-90 30.33 1622.6)">0</text>
<line x1="42.20" y1="1540.50" x2="51.50" y2="1540.50" stroke="#222" stroke-width="1.0"/>
<text x="30.3" y="1540.5" font-size="15.5" font-weight="bold" text-anchor="middle" fill="#000" transform="rotate(-90 30.33 1540.5)">2</text>
<line x1="42.20" y1="1458.40" x2="51.50" y2="1458.40" stroke="#222" stroke-width="1.0"/>
<text x="30.3" y="1458.4" font-size="15.5" font-weight="bold" text-anchor="middle" fill="#000" transform="rotate(-90 30.33 1458.3999999999999)">4</text>
<line x1="42.20" y1="1376.30" x2="51.50" y2="1376.30" stroke="#222" stroke-width="1.0"/>
<text x="30.3" y="1376.3" font-size="15.5" font-weight="bold" text-anchor="middle" fill="#000" transform="rotate(-90 30.33 1376.3)">6</text>
<line x1="42.20" y1="1294.20" x2="51.50" y2="1294.20" stroke="#222" stroke-width="1.0"/>
<text x="30.3" y="1294.2" font-size="15.5" font-weight="bold" text-anchor="middle" fill="#000" transform="rotate(-90 30.33 1294.1999999999998)">8</text>
<text x="105.7" y="1654.4" font-size="20.5" text-anchor="middle" fill="#000">0</text>
<text x="184.2" y="1654.4" font-size="20.5" text-anchor="middle" fill="#000">1</text>
<text x="262.6" y="1654.4" font-size="20.5" text-anchor="middle" fill="#000">2</text>
<text x="341.1" y="1654.4" font-size="20.5" text-anchor="middle" fill="#000">3</text>
<text x="419.6" y="1654.4" font-size="20.5" text-anchor="middle" fill="#000">4</text>
<text x="498.1" y="1654.4" font-size="20.5" text-anchor="middle" fill="#000">5</text>
<text x="576.5" y="1654.4" font-size="20.5" text-anchor="middle" fill="#000">6</text>
<rect x="66.10" y="1279.30" width="10.00" height="10.00" fill="#BEBEBE"/>
<text x="90.5" y="1292.6" font-size="22" font-weight="bold" text-anchor="start" fill="#000">ns</text>
<rect x="66.10" y="1308.60" width="10.00" height="10.00" fill="#FF0000"/>
<text x="90.5" y="1321.9" font-size="22" font-weight="bold" text-anchor="start" fill="#000">sig</text>
<text x="340.4" y="1234.4" font-size="27.7" font-weight="bold" text-anchor="middle" fill="#000">Rtkn2</text>
<text x="69.2" y="1243.2" font-size="51" font-weight="bold" text-anchor="start" fill="#000">c</text>
<rect x="73.00" y="1867.79" width="65.40" height="214.51" fill="#FF0000" stroke="#000" stroke-width="1"/>
<rect x="151.47" y="1945.10" width="65.40" height="137.20" fill="#BEBEBE" stroke="#000" stroke-width="1"/>
<rect x="229.94" y="2069.11" width="65.40" height="13.19" fill="#BEBEBE" stroke="#000" stroke-width="1"/>
<rect x="308.41" y="1793.50" width="65.40" height="288.80" fill="#FF0000" stroke="#000" stroke-width="1"/>
<rect x="386.88" y="1976.18" width="65.40" height="106.12" fill="#BEBEBE" stroke="#000" stroke-width="1"/>
<rect x="465.35" y="1714.67" width="65.40" height="367.63" fill="#FF0000" stroke="#000" stroke-width="1"/>
<rect x="543.82" y="2078.51" width="65.40" height="3.79" fill="#BEBEBE" stroke="#000" stroke-width="1"/>
<line x1="42.20" y1="2082.30" x2="630.00" y2="2082.30" stroke="#333" stroke-width="1.0"/>
<line x1="51.50" y1="2082.30" x2="51.50" y2="1778.60" stroke="#222" stroke-width="1.0"/>
<line x1="42.20" y1="2082.30" x2="51.50" y2="2082.30" stroke="#222" stroke-width="1.0"/>
<text x="30.3" y="2082.3" font-size="15.5" font-weight="bold" text-anchor="middle" fill="#000" transform="rotate(-90 30.33 2082.3)">0</text>
<line x1="42.20" y1="2006.50" x2="51.50" y2="2006.50" stroke="#222" stroke-width="1.0"/>
<text x="30.3" y="2006.5" font-size="15.5" font-weight="bold" text-anchor="middle" fill="#000" transform="rotate(-90 30.33 2006.5000000000002)">10</text>
<line x1="42.20" y1="1930.70" x2="51.50" y2="1930.70" stroke="#222" stroke-width="1.0"/>
<text x="30.3" y="1930.7" font-size="15.5" font-weight="bold" text-anchor="middle" fill="#000" transform="rotate(-90 30.33 1930.7000000000003)">20</text>
<line x1="42.20" y1="1854.90" x2="51.50" y2="1854.90" stroke="#222" stroke-width="1.0"/>
<text x="30.3" y="1854.9" font-size="15.5" font-weight="bold" text-anchor="middle" fill="#000" transform="rotate(-90 30.33 1854.9)">30</text>
<line x1="42.20" y1="1779.10" x2="51.50" y2="1779.10" stroke="#222" stroke-width="1.0"/>
<text x="30.3" y="1779.1" font-size="15.5" font-weight="bold" text-anchor="middle" fill="#000" transform="rotate(-90 30.33 1779.1000000000001)">40</text>
<text x="105.7" y="2114.1" font-size="20.5" text-anchor="middle" fill="#000">0</text>
<text x="184.2" y="2114.1" font-size="20.5" text-anchor="middle" fill="#000">1</text>
<text x="262.6" y="2114.1" font-size="20.5" text-anchor="middle" fill="#000">2</text>
<text x="341.1" y="2114.1" font-size="20.5" text-anchor="middle" fill="#000">3</text>
<text x="419.6" y="2114.1" font-size="20.5" text-anchor="middle" fill="#000">4</text>
<text x="498.1" y="2114.1" font-size="20.5" text-anchor="middle" fill="#000">5</text>
<text x="576.5" y="2114.1" font-size="20.5" text-anchor="middle" fill="#000">6</text>
<rect x="66.10" y="1739.30" width="10.00" height="10.00" fill="#BEBEBE"/>
<text x="90.5" y="1752.6" font-size="22" font-weight="bold" text-anchor="start" fill="#000">ns</text>
<rect x="66.10" y="1768.60" width="10.00" height="10.00" fill="#FF0000"/>
<text x="90.5" y="1781.9" font-size="22" font-weight="bold" text-anchor="start" fill="#000">sig</text>
<text x="340.4" y="1694.4" font-size="27.7" font-weight="bold" text-anchor="middle" fill="#000">Lamp3</text>
<text x="69.0" y="1711.6" font-size="51" font-weight="bold" text-anchor="start" fill="#000">d</text>
<rect x="72.00" y="2337.59" width="65.40" height="172.71" fill="#FFA500" stroke="#000" stroke-width="1"/>
<rect x="150.47" y="2400.61" width="65.40" height="109.69" fill="#FFA500" stroke="#000" stroke-width="1"/>
<rect x="228.94" y="2466.97" width="65.40" height="43.33" fill="#006400" stroke="#000" stroke-width="1"/>
<rect x="228.94" y="2456.37" width="65.40" height="10.60" fill="#FFA500" stroke="#000" stroke-width="1"/>
<rect x="307.41" y="2509.69" width="65.40" height="0.61" fill="#006400" stroke="#000" stroke-width="1"/>
<rect x="307.41" y="2278.20" width="65.40" height="231.49" fill="#FFA500" stroke="#000" stroke-width="1"/>
<rect x="385.88" y="2425.46" width="65.40" height="84.84" fill="#FFA500" stroke="#000" stroke-width="1"/>
<rect x="464.35" y="2508.79" width="65.40" height="1.51" fill="#006400" stroke="#000" stroke-width="1"/>
<rect x="464.35" y="2213.97" width="65.40" height="294.82" fill="#FFA500" stroke="#000" stroke-width="1"/>
<rect x="542.82" y="2455.88" width="65.40" height="54.42" fill="#006400" stroke="#000" stroke-width="1"/>
<rect x="542.82" y="2452.73" width="65.40" height="3.15" fill="#FFA500" stroke="#000" stroke-width="1"/>
<line x1="42.20" y1="2510.30" x2="628.00" y2="2510.30" stroke="#333" stroke-width="1.0"/>
<line x1="51.50" y1="2510.30" x2="51.50" y2="2267.40" stroke="#222" stroke-width="1.0"/>
<line x1="42.20" y1="2510.30" x2="51.50" y2="2510.30" stroke="#222" stroke-width="1.0"/>
<text x="30.3" y="2510.3" font-size="15.5" font-weight="bold" text-anchor="middle" fill="#000" transform="rotate(-90 30.33 2510.3)">0</text>
<line x1="42.20" y1="2449.70" x2="51.50" y2="2449.70" stroke="#222" stroke-width="1.0"/>
<text x="30.3" y="2449.7" font-size="15.5" font-weight="bold" text-anchor="middle" fill="#000" transform="rotate(-90 30.33 2449.7000000000003)">10</text>
<line x1="42.20" y1="2389.10" x2="51.50" y2="2389.10" stroke="#222" stroke-width="1.0"/>
<text x="30.3" y="2389.1" font-size="15.5" font-weight="bold" text-anchor="middle" fill="#000" transform="rotate(-90 30.33 2389.1000000000004)">20</text>
<line x1="42.20" y1="2328.50" x2="51.50" y2="2328.50" stroke="#222" stroke-width="1.0"/>
<text x="30.3" y="2328.5" font-size="15.5" font-weight="bold" text-anchor="middle" fill="#000" transform="rotate(-90 30.33 2328.5)">30</text>
<line x1="42.20" y1="2267.90" x2="51.50" y2="2267.90" stroke="#222" stroke-width="1.0"/>
<text x="30.3" y="2267.9" font-size="15.5" font-weight="bold" text-anchor="middle" fill="#000" transform="rotate(-90 30.33 2267.9)">40</text>
<text x="104.7" y="2535.5" font-size="20.5" text-anchor="middle" fill="#000">0</text>
<text x="183.2" y="2535.5" font-size="20.5" text-anchor="middle" fill="#000">1</text>
<text x="261.6" y="2535.5" font-size="20.5" text-anchor="middle" fill="#000">2</text>
<text x="340.1" y="2535.5" font-size="20.5" text-anchor="middle" fill="#000">3</text>
<text x="418.6" y="2535.5" font-size="20.5" text-anchor="middle" fill="#000">4</text>
<text x="497.1" y="2535.5" font-size="20.5" text-anchor="middle" fill="#000">5</text>
<text x="575.5" y="2535.5" font-size="20.5" text-anchor="middle" fill="#000">6</text>
<rect x="66.10" y="2212.70" width="10.00" height="10.00" fill="#006400"/>
<text x="90.5" y="2226.0" font-size="22" font-weight="bold" text-anchor="start" fill="#000">Rtkn2</text>
<rect x="66.10" y="2241.70" width="10.00" height="10.00" fill="#FFA500"/>
<text x="90.5" y="2255.0" font-size="22" font-weight="bold" text-anchor="start" fill="#000">Lamp3</text>
<text x="339.5" y="2166.3" font-size="27.7" font-weight="bold" text-anchor="middle" fill="#000">Rtkn2 / Lamp3</text>
<text x="69.0" y="2177.3" font-size="51" font-weight="bold" text-anchor="start" fill="#000">e</text>
<rect x="804.40" y="1470.55" width="54.30" height="152.35" fill="#BEBEBE" stroke="#000" stroke-width="1"/>
<rect x="869.40" y="1617.26" width="54.30" height="5.64" fill="#BEBEBE" stroke="#000" stroke-width="1"/>
<rect x="934.40" y="1381.85" width="54.30" height="241.05" fill="#FF0000" stroke="#000" stroke-width="1"/>
<rect x="999.40" y="1524.27" width="54.30" height="98.63" fill="#BEBEBE" stroke="#000" stroke-width="1"/>
<rect x="1064.40" y="1618.39" width="54.30" height="4.51" fill="#BEBEBE" stroke="#000" stroke-width="1"/>
<rect x="1129.40" y="1256.36" width="54.30" height="366.54" fill="#FF0000" stroke="#000" stroke-width="1"/>
<rect x="1194.40" y="1622.45" width="54.30" height="0.45" fill="#BEBEBE" stroke="#000" stroke-width="1"/>
<rect x="1259.40" y="1396.52" width="54.30" height="226.38" fill="#FF0000" stroke="#000" stroke-width="1"/>
<rect x="1324.40" y="1622.22" width="54.30" height="0.68" fill="#BEBEBE" stroke="#000" stroke-width="1"/>
<rect x="1389.40" y="1494.70" width="54.30" height="128.20" fill="#BEBEBE" stroke="#000" stroke-width="1"/>
<line x1="764.70" y1="1622.90" x2="1537.00" y2="1622.90" stroke="#333" stroke-width="1.3"/>
<line x1="776.70" y1="1622.90" x2="776.70" y2="1283.70" stroke="#222" stroke-width="1.3"/>
<line x1="764.70" y1="1622.90" x2="776.70" y2="1622.90" stroke="#222" stroke-width="1.3"/>
<text x="748.9" y="1622.9" font-size="19.5" font-weight="bold" text-anchor="middle" fill="#000" transform="rotate(-90 748.9200000000001 1622.9)">0</text>
<line x1="764.70" y1="1510.05" x2="776.70" y2="1510.05" stroke="#222" stroke-width="1.3"/>
<text x="748.9" y="1510.1" font-size="19.5" font-weight="bold" text-anchor="middle" fill="#000" transform="rotate(-90 748.9200000000001 1510.0500000000002)">5</text>
<line x1="764.70" y1="1397.20" x2="776.70" y2="1397.20" stroke="#222" stroke-width="1.3"/>
<text x="748.9" y="1397.2" font-size="19.5" font-weight="bold" text-anchor="middle" fill="#000" transform="rotate(-90 748.9200000000001 1397.2)">10</text>
<line x1="764.70" y1="1284.35" x2="776.70" y2="1284.35" stroke="#222" stroke-width="1.3"/>
<text x="748.9" y="1284.4" font-size="19.5" font-weight="bold" text-anchor="middle" fill="#000" transform="rotate(-90 748.9200000000001 1284.3500000000001)">15</text>
<text x="831.5" y="1653.7" font-size="20.5" text-anchor="middle" fill="#000">0</text>
<text x="896.5" y="1653.7" font-size="20.5" text-anchor="middle" fill="#000">1</text>
<text x="961.5" y="1653.7" font-size="20.5" text-anchor="middle" fill="#000">2</text>
<text x="1026.5" y="1653.7" font-size="20.5" text-anchor="middle" fill="#000">3</text>
<text x="1091.6" y="1653.7" font-size="20.5" text-anchor="middle" fill="#000">4</text>
<text x="1156.6" y="1653.7" font-size="20.5" text-anchor="middle" fill="#000">5</text>
<text x="1221.6" y="1653.7" font-size="20.5" text-anchor="middle" fill="#000">6</text>
<text x="1286.6" y="1653.7" font-size="20.5" text-anchor="middle" fill="#000">7</text>
<text x="1351.6" y="1653.7" font-size="20.5" text-anchor="middle" fill="#000">8</text>
<text x="1416.6" y="1653.7" font-size="20.5" text-anchor="middle" fill="#000">9</text>
<text x="1481.6" y="1653.7" font-size="20.5" text-anchor="middle" fill="#000">10</text>
<rect x="803.70" y="1279.20" width="10.00" height="10.00" fill="#BEBEBE"/>
<text x="828.5" y="1292.5" font-size="22" font-weight="bold" text-anchor="start" fill="#000">ns</text>
<rect x="803.70" y="1308.80" width="10.00" height="10.00" fill="#FF0000"/>
<text x="828.5" y="1322.1" font-size="22" font-weight="bold" text-anchor="start" fill="#000">sig</text>
<text x="1155.7" y="1234.4" font-size="27.7" font-weight="bold" text-anchor="middle" fill="#000">Rtkn2</text>
<text x="783.9" y="1244.3" font-size="51" font-weight="bold" text-anchor="start" fill="#000">h</text>
<rect x="804.40" y="2073.88" width="54.30" height="6.72" fill="#BEBEBE" stroke="#000" stroke-width="1"/>
<rect x="869.40" y="1975.00" width="54.30" height="105.60" fill="#BEBEBE" stroke="#000" stroke-width="1"/>
<rect x="934.40" y="2077.40" width="54.30" height="3.20" fill="#BEBEBE" stroke="#000" stroke-width="1"/>
<rect x="999.40" y="2079.80" width="54.30" height="0.80" fill="#BEBEBE" stroke="#000" stroke-width="1"/>
<rect x="1064.40" y="1736.60" width="54.30" height="344.00" fill="#FF0000" stroke="#000" stroke-width="1"/>
<rect x="1129.40" y="2068.28" width="54.30" height="12.32" fill="#BEBEBE" stroke="#000" stroke-width="1"/>
<rect x="1194.40" y="1713.40" width="54.30" height="367.20" fill="#FF0000" stroke="#000" stroke-width="1"/>
<rect x="1259.40" y="2064.92" width="54.30" height="15.68" fill="#BEBEBE" stroke="#000" stroke-width="1"/>
<rect x="1324.40" y="1893.40" width="54.30" height="187.20" fill="#FF0000" stroke="#000" stroke-width="1"/>
<rect x="1389.40" y="2066.04" width="54.30" height="14.56" fill="#BEBEBE" stroke="#000" stroke-width="1"/>
<line x1="764.70" y1="2080.60" x2="1537.00" y2="2080.60" stroke="#333" stroke-width="1.3"/>
<line x1="776.70" y1="2080.60" x2="776.70" y2="1759.95" stroke="#222" stroke-width="1.3"/>
<line x1="764.70" y1="2080.60" x2="776.70" y2="2080.60" stroke="#222" stroke-width="1.3"/>
<text x="748.9" y="2080.6" font-size="19.5" font-weight="bold" text-anchor="middle" fill="#000" transform="rotate(-90 748.9200000000001 2080.6)">0</text>
<line x1="764.70" y1="2000.60" x2="776.70" y2="2000.60" stroke="#222" stroke-width="1.3"/>
<text x="748.9" y="2000.6" font-size="19.5" font-weight="bold" text-anchor="middle" fill="#000" transform="rotate(-90 748.9200000000001 2000.6)">10</text>
<line x1="764.70" y1="1920.60" x2="776.70" y2="1920.60" stroke="#222" stroke-width="1.3"/>
<text x="748.9" y="1920.6" font-size="19.5" font-weight="bold" text-anchor="middle" fill="#000" transform="rotate(-90 748.9200000000001 1920.6)">20</text>
<line x1="764.70" y1="1840.60" x2="776.70" y2="1840.60" stroke="#222" stroke-width="1.3"/>
<text x="748.9" y="1840.6" font-size="19.5" font-weight="bold" text-anchor="middle" fill="#000" transform="rotate(-90 748.9200000000001 1840.6)">30</text>
<line x1="764.70" y1="1760.60" x2="776.70" y2="1760.60" stroke="#222" stroke-width="1.3"/>
<text x="748.9" y="1760.6" font-size="19.5" font-weight="bold" text-anchor="middle" fill="#000" transform="rotate(-90 748.9200000000001 1760.6)">40</text>
<text x="831.5" y="2111.4" font-size="20.5" text-anchor="middle" fill="#000">0</text>
<text x="896.5" y="2111.4" font-size="20.5" text-anchor="middle" fill="#000">1</text>
<text x="961.5" y="2111.4" font-size="20.5" text-anchor="middle" fill="#000">2</text>
<text x="1026.5" y="2111.4" font-size="20.5" text-anchor="middle" fill="#000">3</text>
<text x="1091.6" y="2111.4" font-size="20.5" text-anchor="middle" fill="#000">4</text>
<text x="1156.6" y="2111.4" font-size="20.5" text-anchor="middle" fill="#000">5</text>
<text x="1221.6" y="2111.4" font-size="20.5" text-anchor="middle" fill="#000">6</text>
<text x="1286.6" y="2111.4" font-size="20.5" text-anchor="middle" fill="#000">7</text>
<text x="1351.6" y="2111.4" font-size="20.5" text-anchor="middle" fill="#000">8</text>
<text x="1416.6" y="2111.4" font-size="20.5" text-anchor="middle" fill="#000">9</text>
<text x="1481.6" y="2111.4" font-size="20.5" text-anchor="middle" fill="#000">10</text>
<rect x="803.70" y="1739.20" width="10.00" height="10.00" fill="#BEBEBE"/>
<text x="828.5" y="1752.5" font-size="22" font-weight="bold" text-anchor="start" fill="#000">ns</text>
<rect x="803.70" y="1768.80" width="10.00" height="10.00" fill="#FF0000"/>
<text x="828.5" y="1782.1" font-size="22" font-weight="bold" text-anchor="start" fill="#000">sig</text>
<text x="1164.1" y="1694.4" font-size="27.7" font-weight="bold" text-anchor="middle" fill="#000">Lamp3</text>
<text x="785.3" y="1711.8" font-size="51" font-weight="bold" text-anchor="start" fill="#000">i</text>
<rect x="804.40" y="2462.20" width="54.30" height="47.60" fill="#006400" stroke="#000" stroke-width="1"/>
<rect x="804.40" y="2456.60" width="54.30" height="5.60" fill="#FFA500" stroke="#000" stroke-width="1"/>
<rect x="869.40" y="2508.05" width="54.30" height="1.75" fill="#006400" stroke="#000" stroke-width="1"/>
<rect x="869.40" y="2415.65" width="54.30" height="92.40" fill="#FFA500" stroke="#000" stroke-width="1"/>
<rect x="934.40" y="2434.62" width="54.30" height="75.18" fill="#006400" stroke="#000" stroke-width="1"/>
<rect x="934.40" y="2431.40" width="54.30" height="3.22" fill="#FFA500" stroke="#000" stroke-width="1"/>
<rect x="999.40" y="2478.30" width="54.30" height="31.50" fill="#006400" stroke="#000" stroke-width="1"/>
<rect x="999.40" y="2477.60" width="54.30" height="0.70" fill="#FFA500" stroke="#000" stroke-width="1"/>
<rect x="1064.40" y="2508.40" width="54.30" height="1.40" fill="#006400" stroke="#000" stroke-width="1"/>
<rect x="1064.40" y="2207.05" width="54.30" height="301.35" fill="#FFA500" stroke="#000" stroke-width="1"/>
<rect x="1129.40" y="2396.05" width="54.30" height="113.75" fill="#006400" stroke="#000" stroke-width="1"/>
<rect x="1129.40" y="2385.20" width="54.30" height="10.85" fill="#FFA500" stroke="#000" stroke-width="1"/>
<rect x="1194.40" y="2188.50" width="54.30" height="321.30" fill="#FFA500" stroke="#000" stroke-width="1"/>
<rect x="1259.40" y="2439.10" width="54.30" height="70.70" fill="#006400" stroke="#000" stroke-width="1"/>
<rect x="1259.40" y="2425.10" width="54.30" height="14.00" fill="#FFA500" stroke="#000" stroke-width="1"/>
<rect x="1324.40" y="2345.30" width="54.30" height="164.50" fill="#FFA500" stroke="#000" stroke-width="1"/>
<rect x="1389.40" y="2469.41" width="54.30" height="40.39" fill="#006400" stroke="#000" stroke-width="1"/>
<rect x="1389.40" y="2456.60" width="54.30" height="12.81" fill="#FFA500" stroke="#000" stroke-width="1"/>
<line x1="764.70" y1="2509.80" x2="1537.00" y2="2509.80" stroke="#333" stroke-width="1.3"/>
<line x1="776.70" y1="2509.80" x2="776.70" y2="2229.15" stroke="#222" stroke-width="1.3"/>
<line x1="764.70" y1="2509.80" x2="776.70" y2="2509.80" stroke="#222" stroke-width="1.3"/>
<text x="748.9" y="2509.8" font-size="19.5" font-weight="bold" text-anchor="middle" fill="#000" transform="rotate(-90 748.9200000000001 2509.8)">0</text>
<line x1="764.70" y1="2439.80" x2="776.70" y2="2439.80" stroke="#222" stroke-width="1.3"/>
<text x="748.9" y="2439.8" font-size="19.5" font-weight="bold" text-anchor="middle" fill="#000" transform="rotate(-90 748.9200000000001 2439.8)">10</text>
<line x1="764.70" y1="2369.80" x2="776.70" y2="2369.80" stroke="#222" stroke-width="1.3"/>
<text x="748.9" y="2369.8" font-size="19.5" font-weight="bold" text-anchor="middle" fill="#000" transform="rotate(-90 748.9200000000001 2369.8)">20</text>
<line x1="764.70" y1="2299.80" x2="776.70" y2="2299.80" stroke="#222" stroke-width="1.3"/>
<text x="748.9" y="2299.8" font-size="19.5" font-weight="bold" text-anchor="middle" fill="#000" transform="rotate(-90 748.9200000000001 2299.8)">30</text>
<line x1="764.70" y1="2229.80" x2="776.70" y2="2229.80" stroke="#222" stroke-width="1.3"/>
<text x="748.9" y="2229.8" font-size="19.5" font-weight="bold" text-anchor="middle" fill="#000" transform="rotate(-90 748.9200000000001 2229.8)">40</text>
<text x="831.5" y="2534.6" font-size="20.5" text-anchor="middle" fill="#000">0</text>
<text x="896.5" y="2534.6" font-size="20.5" text-anchor="middle" fill="#000">1</text>
<text x="961.5" y="2534.6" font-size="20.5" text-anchor="middle" fill="#000">2</text>
<text x="1026.5" y="2534.6" font-size="20.5" text-anchor="middle" fill="#000">3</text>
<text x="1091.6" y="2534.6" font-size="20.5" text-anchor="middle" fill="#000">4</text>
<text x="1156.6" y="2534.6" font-size="20.5" text-anchor="middle" fill="#000">5</text>
<text x="1221.6" y="2534.6" font-size="20.5" text-anchor="middle" fill="#000">6</text>
<text x="1286.6" y="2534.6" font-size="20.5" text-anchor="middle" fill="#000">7</text>
<text x="1351.6" y="2534.6" font-size="20.5" text-anchor="middle" fill="#000">8</text>
<text x="1416.6" y="2534.6" font-size="20.5" text-anchor="middle" fill="#000">9</text>
<text x="1481.6" y="2534.6" font-size="20.5" text-anchor="middle" fill="#000">10</text>
<rect x="811.20" y="2212.70" width="9.50" height="9.50" fill="#006400"/>
<text x="836.0" y="2225.5" font-size="22" font-weight="bold" text-anchor="start" fill="#000">Rtkn2</text>
<rect x="811.20" y="2242.40" width="9.50" height="9.50" fill="#FFA500"/>
<text x="836.0" y="2255.2" font-size="22" font-weight="bold" text-anchor="start" fill="#000">Lamp3</text>
<text x="1155.7" y="2166.0" font-size="27.7" font-weight="bold" text-anchor="middle" fill="#000">Rtkn2 / Lamp3</text>
<text x="791.6" y="2167.6" font-size="51" font-weight="bold" text-anchor="start" fill="#000">j</text>
</svg></body></html>
